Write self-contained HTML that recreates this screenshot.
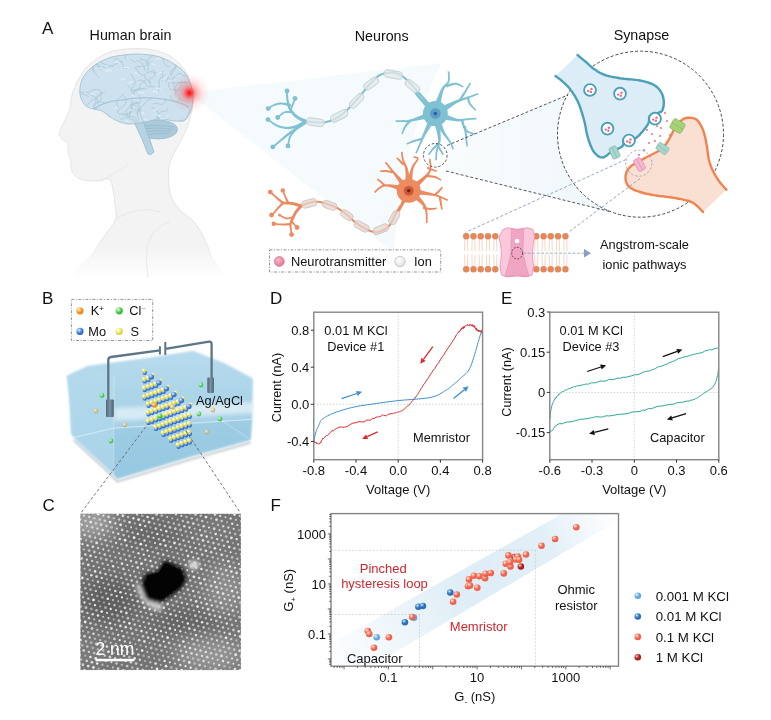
<!DOCTYPE html>
<html><head><meta charset="utf-8"><style>
html,body{margin:0;padding:0;background:#fff;}
svg{display:block;font-family:"Liberation Sans", sans-serif;will-change:transform;}
</style></head><body>
<svg width="771" height="720" viewBox="0 0 771 720">
<rect width="771" height="720" fill="#fff"/>
<text x="42.0" y="34.1" font-size="17" text-anchor="start" fill="#111" >A</text>
<text x="130.5" y="40.3" font-size="14.3" text-anchor="middle" fill="#111" >Human brain</text>
<text x="381.7" y="40.5" font-size="14.3" text-anchor="middle" fill="#111" >Neurons</text>
<text x="641.5" y="39.8" font-size="14.3" text-anchor="middle" fill="#111" >Synapse</text>
<text x="42.0" y="304.3" font-size="17" text-anchor="start" fill="#111" >B</text>
<text x="42.5" y="511.0" font-size="17" text-anchor="start" fill="#111" >C</text>
<text x="270.0" y="304.3" font-size="17" text-anchor="start" fill="#111" >D</text>
<text x="501.0" y="304.3" font-size="17" text-anchor="start" fill="#111" >E</text>
<text x="270.5" y="510.6" font-size="17" text-anchor="start" fill="#111" >F</text>
<defs>
<radialGradient id="redglow"><stop offset="0" stop-color="#ff0a0a" stop-opacity="1"/><stop offset="0.1" stop-color="#ff2020" stop-opacity="0.9"/><stop offset="0.32" stop-color="#ff4545" stop-opacity="0.45"/><stop offset="0.65" stop-color="#ff7070" stop-opacity="0.15"/><stop offset="1" stop-color="#ff8080" stop-opacity="0"/></radialGradient>
<linearGradient id="bodyfade" gradientUnits="userSpaceOnUse" x1="0" y1="48" x2="0" y2="280"><stop offset="0.85" stop-color="#f3f3f3"/><stop offset="1" stop-color="#f3f3f3" stop-opacity="0"/></linearGradient>
<linearGradient id="strokefade" gradientUnits="userSpaceOnUse" x1="0" y1="48" x2="0" y2="280"><stop offset="0.8" stop-color="#e3e3e3"/><stop offset="0.97" stop-color="#e3e3e3" stop-opacity="0"/></linearGradient>
<filter id="blurA"><feGaussianBlur stdDeviation="0.5"/></filter>
</defs>
<path d="M189,93 L441,63 Q400,150 394,253 Z" fill="#f5fafc"/>
<linearGradient id="cone2" x1="0" y1="0" x2="1" y2="0"><stop offset="0" stop-color="#f9fcfd"/><stop offset="1" stop-color="#eff7fb"/></linearGradient>
<path d="M446,146 L568,95 A83,83 0 0 0 610,211.5 L446,171 Z" fill="url(#cone2)"/>
<path d="M131.7,48.5 L130.0,48.7 L127.8,48.9 L125.1,49.2 L122.1,49.5 L119.0,49.9 L115.8,50.4 L112.8,51.1 L110.0,52.0 L107.4,53.1 L104.7,54.3 L102.0,55.7 L99.4,57.2 L96.8,58.8 L94.4,60.5 L92.1,62.3 L90.0,64.0 L88.1,65.8 L86.3,67.7 L84.7,69.8 L83.1,71.8 L81.7,73.9 L80.4,76.0 L79.2,78.0 L78.0,80.0 L76.9,81.9 L76.0,83.9 L75.1,85.8 L74.4,87.7 L73.7,89.6 L73.1,91.4 L72.5,93.2 L72.0,95.0 L71.6,96.7 L71.3,98.5 L71.0,100.2 L70.9,101.8 L70.7,103.4 L70.5,105.0 L70.3,106.5 L70.0,108.0 L69.6,109.4 L69.2,110.7 L68.7,112.0 L68.2,113.2 L67.7,114.4 L67.1,115.6 L66.6,116.8 L66.0,118.0 L65.4,119.3 L64.7,120.6 L64.1,121.9 L63.4,123.2 L62.7,124.5 L62.0,125.8 L61.5,126.9 L61.0,128.0 L60.6,128.9 L60.2,129.8 L59.9,130.6 L59.7,131.3 L59.5,132.0 L59.3,132.7 L59.3,133.3 L59.3,134.0 L59.4,134.7 L59.6,135.3 L59.9,136.0 L60.2,136.6 L60.6,137.2 L61.0,137.8 L61.5,138.4 L62.0,139.0 L62.6,139.5 L63.3,140.0 L64.1,140.5 L64.9,140.9 L65.7,141.4 L66.4,141.9 L67.0,142.4 L67.5,143.0 L67.8,143.7 L68.0,144.4 L68.0,145.1 L68.0,145.9 L68.0,146.7 L68.0,147.5 L68.0,148.2 L68.0,149.0 L68.1,149.8 L68.1,150.5 L68.2,151.2 L68.2,152.0 L68.3,152.8 L68.4,153.5 L68.5,154.2 L68.7,155.0 L68.9,155.8 L69.2,156.5 L69.5,157.2 L69.9,158.0 L70.2,158.8 L70.5,159.5 L70.8,160.2 L71.0,161.0 L71.1,161.8 L71.1,162.5 L71.1,163.2 L71.0,164.0 L71.0,164.8 L70.9,165.5 L70.9,166.2 L71.0,167.0 L71.1,167.8 L71.2,168.5 L71.4,169.2 L71.6,170.0 L71.8,170.8 L72.1,171.5 L72.5,172.2 L73.0,173.0 L73.6,173.8 L74.2,174.6 L74.9,175.4 L75.7,176.2 L76.6,177.0 L77.6,177.8 L78.7,178.4 L80.0,179.0 L81.5,179.5 L83.2,179.9 L85.1,180.2 L87.1,180.5 L89.1,180.7 L91.1,180.9 L93.1,181.0 L95.0,181.0 L96.9,180.9 L98.8,180.5 L100.8,180.0 L102.7,179.4 L104.5,179.0 L106.2,178.7 L107.7,178.7 L109.0,179.0 L110.0,179.7 L110.8,180.7 L111.3,182.0 L111.8,183.4 L112.1,185.0 L112.4,186.7 L112.7,188.3 L113.0,190.0 L113.4,191.7 L113.7,193.5 L114.0,195.3 L114.2,197.2 L114.4,199.2 L114.7,201.2 L114.8,203.1 L115.0,205.0 L115.2,206.9 L115.5,208.8 L115.8,210.6 L116.0,212.5 L116.2,214.4 L116.2,216.2 L116.0,218.1 L115.5,220.0 L114.7,221.8 L113.7,223.6 L112.5,225.4 L111.1,227.2 L109.6,229.0 L108.1,230.9 L106.5,232.9 L105.0,235.0 L103.5,237.2 L101.9,239.6 L100.2,242.0 L98.5,244.6 L96.8,247.1 L95.1,249.7 L93.5,252.4 L92.0,255.0 L89.6,257.8 L86.0,260.9 L81.9,264.1 L78.1,267.2 L75.4,270.3 L74.6,273.0 L76.5,275.3 L82.0,277.0 L92.4,278.2 L107.7,279.0 L126.3,279.5 L146.4,279.7 L166.7,279.5 L185.4,279.0 L201.1,278.2 L212.0,277.0 L218.2,275.4 L221.1,273.2 L221.5,270.6 L220.1,267.8 L217.6,264.7 L214.8,261.7 L212.4,258.7 L211.0,256.0 L210.3,253.4 L209.5,250.8 L208.6,248.2 L207.6,245.6 L206.5,243.1 L205.3,240.6 L204.1,238.3 L203.0,236.0 L201.9,233.9 L200.7,231.8 L199.5,229.8 L198.3,227.9 L197.1,226.1 L195.8,224.4 L194.4,222.6 L193.0,221.0 L191.5,219.5 L189.9,218.0 L188.2,216.7 L186.4,215.4 L184.7,214.2 L183.0,212.9 L181.5,211.5 L180.0,210.0 L178.6,208.4 L177.3,206.9 L176.0,205.3 L174.8,203.6 L173.7,201.9 L172.7,200.1 L171.8,198.1 L171.0,196.0 L170.3,193.7 L169.8,191.1 L169.4,188.4 L169.0,185.6 L168.8,182.7 L168.6,180.0 L168.5,177.4 L168.5,175.0 L168.5,172.8 L168.6,170.9 L168.8,169.0 L169.1,167.2 L169.4,165.4 L169.9,163.7 L170.4,161.9 L171.0,160.0 L171.7,158.0 L172.6,156.1 L173.6,154.1 L174.7,152.1 L175.8,150.0 L176.9,148.0 L178.0,146.0 L179.0,144.0 L180.0,142.0 L181.1,140.0 L182.1,138.1 L183.2,136.1 L184.2,134.1 L185.2,132.1 L186.1,130.1 L187.0,128.0 L187.8,125.8 L188.6,123.6 L189.3,121.3 L190.0,118.9 L190.6,116.6 L191.1,114.3 L191.6,112.1 L192.0,110.0 L192.4,108.0 L192.7,106.2 L192.9,104.5 L193.1,102.8 L193.2,101.1 L193.2,99.2 L193.1,97.2 L192.8,95.0 L192.4,92.5 L191.9,89.6 L191.2,86.7 L190.5,83.6 L189.6,80.5 L188.5,77.4 L187.3,74.6 L186.0,72.0 L184.5,69.6 L182.7,67.3 L180.8,65.1 L178.8,63.0 L176.7,61.0 L174.5,59.2 L172.3,57.5 L170.0,56.0 L167.7,54.7 L165.2,53.6 L162.7,52.6 L160.1,51.8 L157.6,51.1 L155.0,50.5 L152.4,50.0 L150.0,49.5 L147.5,49.1 L144.9,48.8 L142.2,48.7 L139.6,48.6 L137.1,48.6 L134.9,48.6 L133.1,48.5 L131.7,48.5Z" fill="url(#bodyfade)" stroke="url(#strokefade)" stroke-width="1"/>
<path d="M115,219 Q140,205 160,212 M148,277 Q140,230 170,222 M100,182 Q120,170 128,165" fill="none" stroke="#e8e8e8" stroke-width="1"/>
<ellipse cx="158" cy="129.5" rx="19.5" ry="9.5" fill="#abcadb" stroke="#97bccf" stroke-width="0.8"/>
<path d="M140,126 Q157,124 175,127" fill="none" stroke="#8fb5ca" stroke-width="0.6"/>
<path d="M142,129 Q157,127 173,129" fill="none" stroke="#8fb5ca" stroke-width="0.6"/>
<path d="M144,132 Q157,130 171,131" fill="none" stroke="#8fb5ca" stroke-width="0.6"/>
<path d="M146,135 Q157,133 169,133" fill="none" stroke="#8fb5ca" stroke-width="0.6"/>
<path d="M134,122 Q142,138 148,154 Q151,156 154,152 Q149,136 143,121 Z" fill="#b5d3e2" stroke="#97bccf" stroke-width="0.8"/>
<path d="M134.0,54.0 L132.3,54.2 L129.9,54.4 L127.1,54.7 L124.1,55.0 L120.9,55.4 L117.7,55.8 L114.7,56.4 L112.0,57.0 L109.6,57.7 L107.3,58.6 L105.0,59.5 L102.8,60.5 L100.7,61.6 L98.7,62.7 L96.8,63.8 L95.0,65.0 L93.3,66.2 L91.7,67.5 L90.1,68.9 L88.7,70.2 L87.3,71.7 L86.1,73.1 L85.0,74.6 L84.0,76.0 L83.1,77.5 L82.4,79.0 L81.8,80.5 L81.2,82.1 L80.8,83.6 L80.5,85.1 L80.2,86.6 L80.0,88.0 L79.9,89.4 L79.8,90.7 L79.8,92.0 L79.9,93.2 L80.1,94.5 L80.4,95.7 L80.6,96.9 L81.0,98.0 L81.4,99.1 L81.9,100.3 L82.5,101.4 L83.1,102.4 L83.7,103.5 L84.4,104.4 L85.2,105.3 L86.0,106.0 L86.9,106.6 L87.8,107.1 L88.8,107.5 L89.8,107.9 L90.9,108.2 L91.9,108.4 L93.0,108.7 L94.0,109.0 L95.0,109.3 L96.0,109.5 L97.0,109.6 L98.0,109.8 L99.0,110.0 L100.0,110.2 L101.0,110.6 L102.0,111.0 L103.0,111.6 L104.0,112.2 L104.9,113.0 L105.9,113.8 L106.9,114.6 L107.9,115.5 L108.9,116.3 L110.0,117.0 L111.2,117.7 L112.4,118.4 L113.6,119.1 L114.9,119.8 L116.2,120.4 L117.5,121.0 L118.7,121.5 L120.0,122.0 L121.2,122.4 L122.4,122.8 L123.5,123.1 L124.7,123.4 L125.9,123.7 L127.1,123.9 L128.5,124.0 L130.0,124.0 L131.6,123.9 L133.4,123.8 L135.3,123.6 L137.2,123.3 L139.2,123.0 L141.1,122.7 L143.1,122.3 L145.0,122.0 L146.9,121.6 L148.8,121.2 L150.6,120.7 L152.5,120.2 L154.4,119.8 L156.2,119.4 L158.1,119.1 L160.0,119.0 L161.9,119.0 L163.9,119.2 L165.8,119.5 L167.8,119.9 L169.7,120.2 L171.6,120.6 L173.4,120.9 L175.0,121.0 L176.5,121.1 L177.9,121.2 L179.3,121.2 L180.6,121.2 L181.8,121.2 L182.9,121.0 L184.0,120.6 L185.0,120.0 L186.0,119.2 L186.9,118.2 L187.7,117.1 L188.5,115.9 L189.2,114.5 L189.9,113.1 L190.5,111.6 L191.0,110.0 L191.5,108.4 L191.9,106.6 L192.3,104.7 L192.6,102.8 L192.9,100.8 L193.0,98.9 L193.1,96.9 L193.0,95.0 L192.8,93.1 L192.5,91.2 L192.1,89.2 L191.6,87.2 L191.1,85.3 L190.4,83.5 L189.7,81.7 L189.0,80.0 L188.2,78.4 L187.5,76.9 L186.6,75.5 L185.8,74.2 L184.8,72.9 L183.7,71.6 L182.4,70.3 L181.0,69.0 L179.4,67.7 L177.5,66.3 L175.5,64.9 L173.4,63.6 L171.3,62.3 L169.1,61.1 L167.0,60.0 L165.0,59.0 L163.1,58.2 L161.2,57.5 L159.3,56.9 L157.5,56.4 L155.7,56.0 L153.8,55.6 L151.9,55.3 L150.0,55.0 L147.9,54.7 L145.7,54.5 L143.4,54.4 L141.1,54.2 L138.9,54.2 L136.9,54.1 L135.2,54.1 L134.0,54.0Z" fill="#cde2ee" stroke="#9fc0d3" stroke-width="0.9"/>
<path d="M94,109 Q104,101 122,100 Q142,96 162,99 Q178,101 189,107" fill="none" stroke="#9fc1d3" stroke-width="1.1"/>
<clipPath id="brainclip"><path d="M134.0,54.0 L132.3,54.2 L129.9,54.4 L127.1,54.7 L124.1,55.0 L120.9,55.4 L117.7,55.8 L114.7,56.4 L112.0,57.0 L109.6,57.7 L107.3,58.6 L105.0,59.5 L102.8,60.5 L100.7,61.6 L98.7,62.7 L96.8,63.8 L95.0,65.0 L93.3,66.2 L91.7,67.5 L90.1,68.9 L88.7,70.2 L87.3,71.7 L86.1,73.1 L85.0,74.6 L84.0,76.0 L83.1,77.5 L82.4,79.0 L81.8,80.5 L81.2,82.1 L80.8,83.6 L80.5,85.1 L80.2,86.6 L80.0,88.0 L79.9,89.4 L79.8,90.7 L79.8,92.0 L79.9,93.2 L80.1,94.5 L80.4,95.7 L80.6,96.9 L81.0,98.0 L81.4,99.1 L81.9,100.3 L82.5,101.4 L83.1,102.4 L83.7,103.5 L84.4,104.4 L85.2,105.3 L86.0,106.0 L86.9,106.6 L87.8,107.1 L88.8,107.5 L89.8,107.9 L90.9,108.2 L91.9,108.4 L93.0,108.7 L94.0,109.0 L95.0,109.3 L96.0,109.5 L97.0,109.6 L98.0,109.8 L99.0,110.0 L100.0,110.2 L101.0,110.6 L102.0,111.0 L103.0,111.6 L104.0,112.2 L104.9,113.0 L105.9,113.8 L106.9,114.6 L107.9,115.5 L108.9,116.3 L110.0,117.0 L111.2,117.7 L112.4,118.4 L113.6,119.1 L114.9,119.8 L116.2,120.4 L117.5,121.0 L118.7,121.5 L120.0,122.0 L121.2,122.4 L122.4,122.8 L123.5,123.1 L124.7,123.4 L125.9,123.7 L127.1,123.9 L128.5,124.0 L130.0,124.0 L131.6,123.9 L133.4,123.8 L135.3,123.6 L137.2,123.3 L139.2,123.0 L141.1,122.7 L143.1,122.3 L145.0,122.0 L146.9,121.6 L148.8,121.2 L150.6,120.7 L152.5,120.2 L154.4,119.8 L156.2,119.4 L158.1,119.1 L160.0,119.0 L161.9,119.0 L163.9,119.2 L165.8,119.5 L167.8,119.9 L169.7,120.2 L171.6,120.6 L173.4,120.9 L175.0,121.0 L176.5,121.1 L177.9,121.2 L179.3,121.2 L180.6,121.2 L181.8,121.2 L182.9,121.0 L184.0,120.6 L185.0,120.0 L186.0,119.2 L186.9,118.2 L187.7,117.1 L188.5,115.9 L189.2,114.5 L189.9,113.1 L190.5,111.6 L191.0,110.0 L191.5,108.4 L191.9,106.6 L192.3,104.7 L192.6,102.8 L192.9,100.8 L193.0,98.9 L193.1,96.9 L193.0,95.0 L192.8,93.1 L192.5,91.2 L192.1,89.2 L191.6,87.2 L191.1,85.3 L190.4,83.5 L189.7,81.7 L189.0,80.0 L188.2,78.4 L187.5,76.9 L186.6,75.5 L185.8,74.2 L184.8,72.9 L183.7,71.6 L182.4,70.3 L181.0,69.0 L179.4,67.7 L177.5,66.3 L175.5,64.9 L173.4,63.6 L171.3,62.3 L169.1,61.1 L167.0,60.0 L165.0,59.0 L163.1,58.2 L161.2,57.5 L159.3,56.9 L157.5,56.4 L155.7,56.0 L153.8,55.6 L151.9,55.3 L150.0,55.0 L147.9,54.7 L145.7,54.5 L143.4,54.4 L141.1,54.2 L138.9,54.2 L136.9,54.1 L135.2,54.1 L134.0,54.0Z"/></clipPath>
<g clip-path="url(#brainclip)">
<path d="M131.1,93.7 L131.9,93.2 L133.0,92.5 L134.2,91.6 L135.3,91.0 L136.2,90.6 L137.0,90.3 L137.9,90.1 L138.9,89.8 L140.1,89.3 L141.6,88.8 L143.0,88.4 L144.2,88.2 L145.1,88.4 L145.9,88.9 L146.6,89.5 L147.1,89.9" fill="none" stroke="#a8c6d6" stroke-width="0.8"/>
<path d="M114.3,60.4 L114.7,59.9 L115.2,59.2 L115.9,58.6 L116.8,58.5 L118.0,59.1 L119.4,60.3 L120.9,61.6 L122.1,62.9 L122.8,64.2 L123.4,65.6 L123.9,66.9 L124.4,67.8 L125.2,68.3 L126.1,68.4 L126.9,68.3 L127.4,68.3" fill="none" stroke="#a8c6d6" stroke-width="0.8"/>
<path d="M139.7,58.2 L140.2,58.5 L140.8,58.8 L141.6,59.2 L142.5,59.6 L143.6,60.0 L144.8,60.3 L146.0,60.7 L146.9,61.4 L147.5,62.4 L147.9,63.6 L148.0,65.0 L148.1,66.3 L148.1,67.7 L147.8,69.1 L147.6,70.4 L147.4,71.2" fill="none" stroke="#a8c6d6" stroke-width="0.8"/>
<path d="M154.9,86.5 L153.5,86.6 L151.6,86.8 L149.5,86.8 L147.9,86.5 L146.8,85.6 L146.0,84.2 L145.3,82.8 L144.5,81.7 L143.6,81.1 L142.7,80.6 L141.8,80.3 L140.9,80.1 L140.0,80.1 L139.1,80.2 L138.3,80.5 L137.7,80.6" fill="none" stroke="#a8c6d6" stroke-width="0.8"/>
<path d="M166.6,82.4 L166.9,81.1 L167.4,79.2 L167.9,77.3 L168.5,75.9 L169.2,75.4 L169.9,75.4 L170.6,75.4 L171.4,75.0 L172.1,73.8 L172.8,72.3 L173.6,70.6 L174.2,69.0 L174.9,67.2 L175.6,65.4 L176.3,63.7 L176.7,62.5" fill="none" stroke="#a8c6d6" stroke-width="0.8"/>
<path d="M124.9,59.2 L125.0,58.4 L125.2,57.3 L125.3,56.1 L125.0,55.1 L124.2,54.6 L123.0,54.3 L121.8,54.0 L121.1,53.3 L121.1,52.0 L121.5,50.3 L122.0,48.7 L122.0,47.3 L121.5,46.4 L120.5,45.7 L119.6,45.2 L118.9,44.9" fill="none" stroke="#a8c6d6" stroke-width="0.8"/>
<path d="M170.1,66.6 L169.4,66.5 L168.4,66.4 L167.3,66.1 L166.4,65.8 L165.7,65.3 L165.1,64.6 L164.6,63.8 L164.1,63.1 L163.8,62.3 L163.6,61.5 L163.4,60.6 L163.1,59.8 L162.7,58.9 L162.1,57.9 L161.6,57.0 L161.2,56.4" fill="none" stroke="#a8c6d6" stroke-width="0.8"/>
<path d="M170.8,75.6 L170.7,74.7 L170.6,73.5 L170.6,72.2 L170.9,71.0 L171.9,70.3 L173.4,69.7 L174.8,69.1 L175.7,68.1 L176.0,66.6 L175.9,64.7 L175.5,62.7 L175.1,61.2 L174.4,60.2 L173.5,59.5 L172.5,59.0 L171.9,58.7" fill="none" stroke="#a8c6d6" stroke-width="0.8"/>
<path d="M167.3,77.4 L167.8,77.7 L168.5,78.2 L169.2,78.8 L170.0,79.4 L170.6,80.1 L171.3,80.9 L171.9,81.7 L172.4,82.5 L172.9,83.5 L173.2,84.4 L173.6,85.5 L174.1,86.7 L174.9,88.2 L175.9,89.9 L176.9,91.5 L177.5,92.6" fill="none" stroke="#a8c6d6" stroke-width="0.8"/>
<path d="M134.7,94.8 L134.4,94.2 L134.0,93.2 L133.8,92.2 L134.1,91.2 L135.1,90.4 L136.6,89.5 L138.2,88.6 L139.3,87.8 L139.8,86.9 L139.8,86.0 L139.9,85.1 L140.4,84.1 L141.6,83.1 L143.2,82.0 L144.8,80.9 L145.9,80.2" fill="none" stroke="#a8c6d6" stroke-width="0.8"/>
<path d="M179.7,96.9 L179.8,97.5 L180.0,98.4 L180.0,99.3 L179.8,100.0 L179.1,100.5 L178.2,100.9 L177.1,101.1 L176.0,101.2 L175.0,101.2 L174.0,101.1 L173.0,100.7 L172.1,100.2 L171.4,99.1 L170.8,97.6 L170.4,96.2 L170.0,95.2" fill="none" stroke="#a8c6d6" stroke-width="0.8"/>
<path d="M113.2,66.5 L112.5,66.4 L111.6,66.2 L110.5,66.1 L109.3,65.8 L107.9,65.4 L106.2,64.8 L104.6,64.2 L103.3,63.6 L102.2,63.1 L101.2,62.5 L100.5,61.8 L100.0,61.1 L100.0,60.2 L100.3,59.1 L100.7,58.1 L101.0,57.4" fill="none" stroke="#a8c6d6" stroke-width="0.8"/>
<path d="M130.4,58.3 L131.1,59.0 L132.1,60.2 L133.2,61.2 L134.3,61.9 L135.3,61.7 L136.3,61.1 L137.4,60.6 L138.5,60.6 L139.8,61.4 L141.1,62.6 L142.3,64.1 L143.3,65.6 L144.1,67.0 L144.6,68.6 L144.9,70.0 L145.2,71.0" fill="none" stroke="#a8c6d6" stroke-width="0.8"/>
<path d="M146.0,64.0 L146.5,62.8 L147.1,61.2 L147.9,59.4 L148.9,58.0 L150.3,56.9 L152.1,56.1 L153.7,55.3 L154.7,54.3 L154.7,53.1 L154.2,51.8 L153.5,50.4 L152.8,49.0 L152.2,47.6 L151.6,46.0 L151.0,44.6 L150.6,43.6" fill="none" stroke="#a8c6d6" stroke-width="0.8"/>
<path d="M88.5,92.8 L89.4,92.2 L90.7,91.2 L92.2,90.3 L93.6,89.7 L95.2,89.5 L96.9,89.4 L98.5,89.6 L99.8,90.0 L100.6,90.7 L101.0,91.6 L101.3,92.8 L101.4,94.1 L101.3,95.7 L101.0,97.6 L100.7,99.4 L100.4,100.6" fill="none" stroke="#a8c6d6" stroke-width="0.8"/>
<path d="M178.4,83.6 L179.4,83.3 L180.7,82.8 L182.1,82.4 L183.5,82.0 L184.6,81.9 L185.7,82.0 L186.8,82.1 L188.0,82.3 L189.3,82.7 L190.7,83.3 L192.0,83.8 L193.2,83.8 L194.3,83.0 L195.3,81.7 L196.1,80.4 L196.7,79.4" fill="none" stroke="#a8c6d6" stroke-width="0.8"/>
<path d="M162.3,81.6 L162.3,80.7 L162.4,79.3 L162.6,77.9 L162.9,76.9 L163.5,76.2 L164.2,75.7 L165.0,75.4 L165.8,75.3 L166.6,75.2 L167.3,75.4 L168.0,75.6 L168.9,75.9 L170.0,76.4 L171.3,77.1 L172.4,77.8 L173.2,78.2" fill="none" stroke="#a8c6d6" stroke-width="0.8"/>
<path d="M106.0,103.6 L104.8,103.2 L103.0,102.5 L101.1,101.9 L99.6,101.6 L98.7,101.6 L98.0,101.8 L97.5,102.1 L96.8,102.7 L95.9,103.7 L94.9,104.9 L94.0,106.2 L93.4,107.3 L93.3,108.4 L93.6,109.4 L93.9,110.3 L94.2,110.9" fill="none" stroke="#a8c6d6" stroke-width="0.8"/>
<path d="M182.3,100.9 L181.7,100.4 L180.8,99.6 L179.9,98.8 L179.1,98.0 L178.7,97.2 L178.5,96.4 L178.2,95.5 L177.7,94.5 L176.9,93.3 L175.8,92.0 L174.8,90.6 L174.4,89.2 L174.9,87.7 L176.0,86.2 L177.2,84.8 L178.0,83.8" fill="none" stroke="#a8c6d6" stroke-width="0.8"/>
<path d="M123.4,95.4 L124.1,96.1 L125.0,97.1 L125.8,98.3 L126.3,99.5 L126.2,100.9 L125.7,102.5 L125.0,104.1 L124.1,105.5 L122.9,106.7 L121.3,107.7 L119.8,108.7 L118.7,109.6 L118.0,110.6 L117.8,111.6 L117.6,112.5 L117.5,113.1" fill="none" stroke="#a8c6d6" stroke-width="0.8"/>
<path d="M130.9,73.5 L131.4,74.4 L132.0,75.8 L132.8,77.2 L133.4,78.4 L134.1,79.4 L134.7,80.3 L135.3,81.1 L135.4,82.2 L134.9,83.7 L134.0,85.4 L133.0,87.0 L132.3,88.4 L131.8,89.5 L131.5,90.4 L131.3,91.0 L131.2,91.5" fill="none" stroke="#a8c6d6" stroke-width="0.8"/>
<path d="M144.5,75.9 L143.9,75.6 L143.1,75.2 L142.2,74.7 L141.3,74.3 L140.6,74.1 L139.8,73.9 L139.0,73.7 L138.4,73.2 L138.1,72.4 L137.9,71.3 L137.7,70.2 L137.3,69.4 L136.6,69.0 L135.7,68.8 L134.8,68.7 L134.2,68.6" fill="none" stroke="#a8c6d6" stroke-width="0.8"/>
<path d="M151.1,85.7 L150.6,84.6 L149.8,83.0 L149.2,81.2 L149.1,79.8 L149.9,78.8 L151.3,78.1 L152.8,77.4 L153.8,76.5 L154.3,75.3 L154.6,74.0 L154.6,72.7 L154.4,71.6 L154.0,70.9 L153.4,70.3 L152.7,69.8 L152.3,69.5" fill="none" stroke="#a8c6d6" stroke-width="0.8"/>
<path d="M133.4,104.7 L134.1,105.0 L135.1,105.5 L136.3,106.0 L137.2,106.8 L138.0,107.7 L138.7,108.7 L139.3,109.9 L139.8,111.1 L140.2,112.5 L140.4,114.0 L140.7,115.6 L141.1,117.0 L141.8,118.5 L142.6,120.1 L143.5,121.5 L144.1,122.4" fill="none" stroke="#a8c6d6" stroke-width="0.8"/>
<path d="M185.4,105.3 L186.3,105.9 L187.6,106.8 L188.9,107.8 L189.6,108.8 L189.8,109.8 L189.5,110.8 L189.0,111.9 L188.5,113.1 L188.0,114.6 L187.4,116.2 L186.6,117.8 L185.6,119.0 L184.1,119.8 L182.2,120.3 L180.4,120.6 L179.1,120.9" fill="none" stroke="#a8c6d6" stroke-width="0.8"/>
<path d="M132.4,100.2 L132.1,101.3 L131.6,102.9 L131.0,104.7 L130.3,106.2 L129.4,107.3 L128.2,108.3 L127.1,109.3 L126.4,110.5 L126.4,112.1 L126.8,114.0 L127.1,115.7 L126.8,117.1 L125.5,118.0 L123.6,118.5 L121.6,118.9 L120.2,119.1" fill="none" stroke="#a8c6d6" stroke-width="0.8"/>
<path d="M140.7,110.1 L139.4,110.1 L137.7,110.0 L135.8,110.0 L134.3,110.0 L133.3,110.2 L132.6,110.5 L132.0,110.9 L131.2,111.3 L130.2,112.0 L129.1,112.9 L128.0,113.7 L126.8,114.2 L125.5,114.2 L124.1,113.9 L122.8,113.5 L121.9,113.3" fill="none" stroke="#a8c6d6" stroke-width="0.8"/>
<path d="M99.5,77.8 L99.1,77.4 L98.5,76.8 L97.8,76.0 L97.0,75.2 L96.0,74.3 L94.8,73.2 L93.8,72.0 L93.1,70.8 L93.0,69.4 L93.2,67.7 L93.7,66.3 L94.4,65.2 L95.5,64.7 L97.0,64.6 L98.4,64.7 L99.4,64.7" fill="none" stroke="#a8c6d6" stroke-width="0.8"/>
<path d="M105.0,91.4 L104.3,92.0 L103.2,92.9 L101.9,93.9 L100.7,94.9 L99.4,95.8 L98.1,96.8 L96.7,97.8 L95.5,98.6 L94.4,99.1 L93.5,99.4 L92.6,99.8 L91.7,100.4 L90.5,101.4 L89.1,102.7 L88.0,104.0 L87.1,104.9" fill="none" stroke="#a8c6d6" stroke-width="0.8"/>
<path d="M139.2,94.7 L139.5,95.6 L139.8,96.9 L140.1,98.4 L140.3,99.6 L140.4,100.5 L140.5,101.4 L140.4,102.1 L140.0,102.7 L139.1,103.0 L137.8,103.1 L136.4,103.3 L135.0,103.5 L133.5,104.1 L131.9,104.9 L130.4,105.7 L129.4,106.2" fill="none" stroke="#a8c6d6" stroke-width="0.8"/>
<path d="M143.6,88.9 L142.7,88.8 L141.4,88.8 L140.0,88.8 L138.4,89.0 L136.8,89.4 L135.0,90.0 L133.2,90.6 L131.9,90.7 L130.9,90.2 L130.4,89.3 L129.9,88.3 L129.4,87.4 L128.8,86.7 L128.1,85.9 L127.5,85.3 L127.1,84.8" fill="none" stroke="#a8c6d6" stroke-width="0.8"/>
<path d="M129.0,111.9 L129.7,111.5 L130.6,110.9 L131.6,110.1 L132.3,109.2 L132.5,107.9 L132.3,106.4 L132.2,104.9 L132.4,103.7 L133.0,103.0 L133.8,102.7 L134.8,102.5 L135.6,102.5 L136.5,102.6 L137.3,103.0 L138.0,103.4 L138.5,103.7" fill="none" stroke="#a8c6d6" stroke-width="0.8"/>
<path d="M101.9,70.1 L101.3,69.6 L100.3,68.9 L99.3,68.1 L98.5,67.4 L97.9,66.7 L97.3,66.0 L96.9,65.2 L96.7,64.5 L96.6,63.7 L96.7,62.8 L96.8,61.9 L97.0,61.0 L97.1,59.9 L97.2,58.8 L97.3,57.7 L97.4,57.0" fill="none" stroke="#a8c6d6" stroke-width="0.8"/>
<path d="M102.3,91.7 L101.7,92.2 L100.8,93.1 L99.8,94.0 L98.9,94.8 L98.1,95.4 L97.3,95.8 L96.6,96.3 L96.1,97.1 L95.8,98.2 L95.8,99.7 L95.8,101.2 L95.6,102.6 L95.1,103.9 L94.5,105.2 L93.8,106.3 L93.3,107.1" fill="none" stroke="#a8c6d6" stroke-width="0.8"/>
<path d="M176.2,97.4 L176.0,96.3 L175.7,94.8 L175.5,93.0 L175.7,91.5 L176.6,90.2 L178.0,89.0 L179.4,87.9 L180.4,86.8 L180.9,85.7 L181.0,84.5 L181.2,83.5 L181.6,82.7 L182.4,82.4 L183.5,82.3 L184.6,82.3 L185.4,82.3" fill="none" stroke="#a8c6d6" stroke-width="0.8"/>
<path d="M95.1,71.0 L94.6,70.6 L93.9,70.1 L93.1,69.5 L92.7,68.7 L92.5,67.6 L92.6,66.3 L92.8,65.1 L93.2,64.0 L93.7,63.4 L94.4,63.0 L95.1,62.5 L95.9,61.9 L96.8,60.8 L97.8,59.5 L98.8,58.2 L99.4,57.3" fill="none" stroke="#a8c6d6" stroke-width="0.8"/>
<path d="M157.1,118.7 L157.3,117.8 L157.6,116.5 L158.0,115.1 L158.6,113.9 L159.4,113.0 L160.5,112.3 L161.7,111.7 L162.8,111.3 L163.8,111.1 L164.9,111.2 L165.8,111.3 L166.6,111.1 L167.1,110.5 L167.4,109.5 L167.5,108.5 L167.7,107.9" fill="none" stroke="#a8c6d6" stroke-width="0.8"/>
<path d="M84.2,93.2 L83.6,92.9 L82.7,92.5 L81.7,92.2 L80.8,92.2 L80.1,92.6 L79.4,93.3 L78.7,94.0 L77.6,94.3 L76.1,94.1 L74.2,93.5 L72.4,92.7 L71.1,91.9 L70.6,91.1 L70.7,90.1 L70.9,89.2 L71.0,88.5" fill="none" stroke="#a8c6d6" stroke-width="0.8"/>
<path d="M132.2,108.3 L131.8,109.1 L131.3,110.3 L130.8,111.7 L130.3,113.0 L129.8,114.3 L129.3,115.8 L129.0,117.2 L129.3,118.3 L130.2,119.0 L131.8,119.5 L133.4,120.0 L134.6,120.5 L135.1,121.4 L135.3,122.5 L135.3,123.5 L135.4,124.2" fill="none" stroke="#a8c6d6" stroke-width="0.8"/>
<path d="M131.3,106.5 L131.2,107.2 L131.1,108.1 L131.0,109.2 L130.9,110.1 L130.9,111.0 L131.0,111.7 L130.9,112.5 L130.4,113.2 L129.3,113.8 L127.8,114.4 L126.1,114.9 L124.5,115.1 L122.8,114.9 L121.0,114.4 L119.4,113.8 L118.2,113.4" fill="none" stroke="#a8c6d6" stroke-width="0.8"/>
<path d="M151.1,82.7 L150.0,82.0 L148.4,80.9 L146.7,79.7 L145.5,78.6 L145.0,77.6 L144.7,76.5 L144.8,75.5 L145.2,74.6 L146.1,73.7 L147.4,72.8 L149.0,72.1 L150.5,71.7 L152.1,71.9 L153.8,72.4 L155.4,73.0 L156.5,73.4" fill="none" stroke="#a8c6d6" stroke-width="0.8"/>
<path d="M125.8,117.7 L126.9,117.3 L128.6,116.9 L130.3,116.5 L131.8,116.4 L133.0,116.7 L134.1,117.3 L135.0,118.0 L135.8,118.7 L136.2,119.4 L136.4,120.2 L136.7,120.9 L137.1,121.7 L137.9,122.6 L139.0,123.5 L140.1,124.3 L140.8,124.9" fill="none" stroke="#a8c6d6" stroke-width="0.8"/>
<path d="M152.2,98.3 L151.2,98.7 L149.8,99.2 L148.3,99.9 L147.0,100.7 L146.1,101.7 L145.2,102.9 L144.4,104.0 L143.5,105.1 L142.6,105.9 L141.6,106.7 L140.6,107.4 L139.6,108.4 L138.5,109.8 L137.5,111.6 L136.5,113.2 L135.8,114.3" fill="none" stroke="#a8c6d6" stroke-width="0.8"/>
<path d="M152.6,103.8 L153.1,103.7 L153.7,103.5 L154.6,103.3 L155.6,103.3 L156.9,103.5 L158.5,103.9 L160.1,104.3 L161.5,104.3 L162.7,104.0 L163.9,103.5 L164.9,102.8 L165.5,102.0 L165.6,101.1 L165.4,100.0 L165.0,99.0 L164.8,98.3" fill="none" stroke="#a8c6d6" stroke-width="0.8"/>
<path d="M122.5,61.0 L121.6,61.4 L120.5,61.9 L119.1,62.5 L117.7,63.2 L116.3,63.8 L114.7,64.6 L113.1,65.3 L111.4,65.9 L109.7,66.4 L108.0,66.9 L106.3,67.2 L104.6,67.4 L102.9,67.3 L101.1,67.0 L99.5,66.6 L98.5,66.3" fill="none" stroke="#a8c6d6" stroke-width="0.8"/>
<path d="M88.6,96.4 L87.4,95.9 L85.7,95.1 L83.9,94.4 L82.3,94.1 L81.0,94.4 L79.9,95.0 L79.0,95.9 L78.3,96.9 L78.0,98.0 L78.0,99.3 L78.1,100.7 L78.0,101.8 L77.8,102.8 L77.5,103.7 L77.1,104.4 L76.9,104.9" fill="none" stroke="#a8c6d6" stroke-width="0.8"/>
<path d="M186.8,83.9 L186.1,83.5 L185.1,82.9 L184.0,82.3 L182.8,82.0 L181.5,82.0 L180.0,82.3 L178.6,82.6 L177.2,82.9 L176.1,83.0 L175.0,83.0 L174.0,83.0 L173.1,82.8 L172.1,82.3 L171.1,81.6 L170.3,80.9 L169.7,80.4" fill="none" stroke="#a8c6d6" stroke-width="0.8"/>
<path d="M165.3,81.7 L165.9,81.6 L166.8,81.3 L167.7,81.3 L168.5,81.8 L168.8,83.2 L168.8,85.1 L168.9,87.1 L169.5,88.5 L170.8,89.3 L172.5,89.7 L174.3,89.9 L176.0,90.0 L177.4,90.1 L178.8,90.2 L180.0,90.1 L180.9,90.1" fill="none" stroke="#a8c6d6" stroke-width="0.8"/>
<path d="M139.1,120.5 L138.7,119.3 L138.0,117.5 L137.5,115.5 L137.3,113.9 L137.9,112.6 L139.0,111.6 L140.0,110.6 L140.5,109.5 L140.3,108.2 L139.6,106.9 L138.8,105.7 L138.1,104.5 L137.5,103.5 L136.9,102.6 L136.4,101.9 L136.0,101.3" fill="none" stroke="#a8c6d6" stroke-width="0.8"/>
<path d="M85.9,91.5 L86.7,92.1 L88.0,93.0 L89.3,94.0 L90.5,94.8 L91.5,95.3 L92.3,95.8 L93.2,96.2 L94.1,96.7 L95.0,97.4 L96.0,98.1 L96.9,98.9 L97.6,99.8 L97.9,101.1 L97.9,102.6 L97.9,104.0 L97.9,104.9" fill="none" stroke="#a8c6d6" stroke-width="0.8"/>
<path d="M163.0,70.9 L162.7,72.1 L162.4,73.7 L162.0,75.4 L161.5,76.9 L160.9,77.9 L160.1,78.7 L159.5,79.5 L159.0,80.6 L158.9,81.9 L159.0,83.3 L159.2,84.8 L159.3,86.3 L159.1,87.8 L158.9,89.3 L158.7,90.7 L158.5,91.6" fill="none" stroke="#a8c6d6" stroke-width="0.8"/>
<path d="M151.5,107.5 L152.8,108.0 L154.6,108.7 L156.4,109.6 L157.6,110.7 L157.9,112.3 L157.6,114.1 L157.2,115.9 L157.1,117.2 L157.6,118.0 L158.3,118.3 L159.2,118.4 L160.1,118.4 L161.3,118.2 L162.6,117.8 L163.8,117.4 L164.7,117.1" fill="none" stroke="#a8c6d6" stroke-width="0.8"/>
<path d="M150.4,61.3 L150.1,61.8 L149.7,62.5 L149.2,63.3 L148.5,64.0 L147.5,64.6 L146.3,65.2 L145.0,65.8 L143.8,66.2 L142.6,66.4 L141.5,66.5 L140.3,66.5 L139.3,66.5 L138.2,66.7 L137.1,66.8 L136.1,67.0 L135.5,67.1" fill="none" stroke="#a8c6d6" stroke-width="0.8"/>
<path d="M118.8,106.9 L118.4,106.4 L117.7,105.8 L117.1,105.0 L116.8,104.1 L116.8,102.9 L117.1,101.4 L117.5,99.9 L118.0,98.7 L118.7,98.0 L119.5,97.5 L120.4,97.1 L121.2,96.6 L122.0,95.8 L122.8,95.0 L123.5,94.2 L124.0,93.7" fill="none" stroke="#a8c6d6" stroke-width="0.8"/>
<path d="M171.5,80.2 L172.0,79.7 L172.7,78.9 L173.6,78.0 L174.5,77.1 L175.5,76.1 L176.8,74.9 L178.0,73.9 L179.2,73.4 L180.3,73.5 L181.3,74.2 L182.3,75.1 L183.3,75.6 L184.3,75.9 L185.2,76.0 L186.1,76.1 L186.6,76.1" fill="none" stroke="#a8c6d6" stroke-width="0.8"/>
<path d="M89.4,94.1 Q91.9,92.8 94.4,94.0" fill="none" stroke="#ecf5f9" stroke-width="0.9"/>
<path d="M113.8,109.1 Q115.4,107.0 117.0,107.3" fill="none" stroke="#ecf5f9" stroke-width="0.9"/>
<path d="M154.8,59.8 Q157.3,58.0 159.8,58.6" fill="none" stroke="#ecf5f9" stroke-width="0.9"/>
<path d="M158.4,74.1 Q160.3,72.0 162.1,72.4" fill="none" stroke="#ecf5f9" stroke-width="0.9"/>
<path d="M162.0,80.0 Q164.3,77.7 166.6,77.7" fill="none" stroke="#ecf5f9" stroke-width="0.9"/>
<path d="M144.3,119.2 Q146.8,119.5 149.3,122.1" fill="none" stroke="#ecf5f9" stroke-width="0.9"/>
<path d="M129.5,111.0 Q131.4,109.4 133.3,110.1" fill="none" stroke="#ecf5f9" stroke-width="0.9"/>
<path d="M125.2,120.4 Q126.8,120.0 128.5,122.1" fill="none" stroke="#ecf5f9" stroke-width="0.9"/>
<path d="M120.9,80.0 Q122.9,78.4 125.0,79.3" fill="none" stroke="#ecf5f9" stroke-width="0.9"/>
<path d="M123.8,67.8 Q126.5,66.8 129.2,68.3" fill="none" stroke="#ecf5f9" stroke-width="0.9"/>
<path d="M141.1,113.4 Q142.8,112.3 144.6,113.6" fill="none" stroke="#ecf5f9" stroke-width="0.9"/>
<path d="M165.8,116.5 Q167.2,114.9 168.7,115.7" fill="none" stroke="#ecf5f9" stroke-width="0.9"/>
<path d="M138.3,92.6 Q141.2,91.7 144.1,93.1" fill="none" stroke="#ecf5f9" stroke-width="0.9"/>
<path d="M153.6,111.1 Q155.6,108.7 157.6,108.8" fill="none" stroke="#ecf5f9" stroke-width="0.9"/>
<path d="M89.2,106.3 Q90.7,105.9 92.1,107.8" fill="none" stroke="#ecf5f9" stroke-width="0.9"/>
<path d="M151.7,64.2 Q154.0,63.7 156.4,65.7" fill="none" stroke="#ecf5f9" stroke-width="0.9"/>
<path d="M107.7,69.7 Q109.9,69.2 112.1,71.1" fill="none" stroke="#ecf5f9" stroke-width="0.9"/>
<path d="M166.4,82.0 Q169.3,80.2 172.2,80.9" fill="none" stroke="#ecf5f9" stroke-width="0.9"/>
<path d="M156.0,89.0 Q158.6,88.0 161.1,89.3" fill="none" stroke="#ecf5f9" stroke-width="0.9"/>
<path d="M160.0,119.0 Q162.7,117.5 165.5,118.4" fill="none" stroke="#ecf5f9" stroke-width="0.9"/>
<path d="M155.3,114.6 Q157.9,114.4 160.5,116.6" fill="none" stroke="#ecf5f9" stroke-width="0.9"/>
<path d="M152.4,91.2 Q155.0,90.7 157.6,92.5" fill="none" stroke="#ecf5f9" stroke-width="0.9"/>
<path d="M127.6,83.9 Q130.0,81.6 132.4,81.7" fill="none" stroke="#ecf5f9" stroke-width="0.9"/>
<path d="M98.9,68.5 Q100.9,67.1 102.8,68.2" fill="none" stroke="#ecf5f9" stroke-width="0.9"/>
<path d="M114.9,62.2 Q117.5,61.4 120.1,63.1" fill="none" stroke="#ecf5f9" stroke-width="0.9"/>
<path d="M131.8,95.5 Q133.2,95.0 134.6,96.9" fill="none" stroke="#ecf5f9" stroke-width="0.9"/>
<path d="M104.6,70.7 Q106.9,70.1 109.2,71.9" fill="none" stroke="#ecf5f9" stroke-width="0.9"/>
<path d="M105.3,67.1 Q107.0,65.5 108.7,66.2" fill="none" stroke="#ecf5f9" stroke-width="0.9"/>
<path d="M165.6,76.1 Q168.3,75.1 171.0,76.4" fill="none" stroke="#ecf5f9" stroke-width="0.9"/>
<path d="M134.2,72.5 Q136.7,72.6 139.3,75.1" fill="none" stroke="#ecf5f9" stroke-width="0.9"/>
</g>
<circle cx="189.4" cy="92.9" r="20" fill="url(#redglow)"/>
<circle cx="306.00" cy="121.50" r="1.70" fill="#7fc1d3"/>
<path d="M306.70,119.95 L305.66,119.51 L304.24,118.95 L302.60,118.28 L300.89,117.52 L299.28,116.69 L297.90,115.81 L296.64,114.79 L295.36,113.63 L294.13,112.37 L292.99,111.05 L291.97,109.70 L291.12,108.38 L290.44,107.07 L289.91,105.71 L289.49,104.28 L289.14,102.82 L288.85,101.32 L288.57,99.84 L288.34,98.29 L288.18,96.61 L288.07,94.90 L288.00,93.31 L287.95,91.96 L287.90,90.97 A0.90,0.90 0 0 1 286.10,91.03 L286.10,91.03 L286.11,92.00 L286.11,93.35 L286.11,94.97 L286.15,96.73 L286.25,98.50 L286.43,100.16 L286.65,101.70 L286.89,103.26 L287.20,104.84 L287.61,106.44 L288.16,108.04 L288.88,109.62 L289.80,111.16 L290.86,112.70 L292.05,114.19 L293.34,115.63 L294.69,116.97 L296.10,118.19 L297.70,119.31 L299.48,120.33 L301.28,121.22 L302.95,121.98 L304.33,122.59 L305.30,123.05Z" fill="#7fc1d3"/>
<circle cx="290.50" cy="110.00" r="1.10" fill="#7fc1d3"/>
<path d="M291.51,110.43 L291.77,109.76 L292.14,108.84 L292.57,107.74 L293.03,106.57 L293.48,105.41 L293.88,104.34 L294.24,103.31 L294.61,102.23 L294.97,101.17 L295.29,100.19 L295.56,99.37 L295.75,98.77 A0.80,0.80 0 0 1 294.25,98.23 L294.25,98.23 L294.02,98.82 L293.71,99.63 L293.35,100.58 L292.94,101.62 L292.53,102.67 L292.12,103.66 L291.69,104.68 L291.19,105.80 L290.68,106.94 L290.19,108.01 L289.78,108.92 L289.49,109.57Z" fill="#7fc1d3"/>
<circle cx="290.00" cy="105.00" r="1.20" fill="#7fc1d3"/>
<path d="M290.22,103.82 L289.12,103.63 L287.57,103.33 L285.71,102.99 L283.71,102.68 L281.74,102.48 L279.95,102.48 L278.33,102.70 L276.77,103.10 L275.29,103.60 L273.93,104.16 L272.71,104.71 L271.63,105.20 L270.66,105.70 L269.81,106.25 L269.09,106.80 L268.51,107.29 L268.05,107.69 L267.71,107.97 A0.80,0.80 0 0 1 268.69,109.23 L268.69,109.23 L269.08,108.94 L269.55,108.55 L270.11,108.11 L270.75,107.66 L271.50,107.21 L272.37,106.80 L273.42,106.36 L274.63,105.87 L275.93,105.39 L277.29,104.97 L278.68,104.67 L280.05,104.52 L281.59,104.59 L283.40,104.83 L285.29,105.20 L287.10,105.59 L288.66,105.95 L289.78,106.18Z" fill="#7fc1d3"/>
<circle cx="292.00" cy="112.00" r="1.00" fill="#7fc1d3"/>
<path d="M292.00,111.00 L291.13,111.02 L289.89,111.00 L288.39,110.99 L286.77,111.06 L285.17,111.27 L283.69,111.68 L282.33,112.40 L281.03,113.36 L279.81,114.43 L278.73,115.47 L277.85,116.35 L277.20,116.94 A0.75,0.75 0 0 1 278.20,118.06 L278.20,118.06 L278.89,117.46 L279.81,116.61 L280.89,115.63 L282.05,114.67 L283.23,113.86 L284.31,113.32 L285.49,113.03 L286.90,112.90 L288.40,112.88 L289.84,112.93 L291.09,112.99 L292.00,113.00Z" fill="#7fc1d3"/>
<circle cx="306.00" cy="121.50" r="1.40" fill="#7fc1d3"/>
<path d="M305.40,120.24 L303.86,121.00 L301.73,122.12 L299.25,123.39 L296.62,124.64 L294.05,125.68 L291.76,126.35 L289.65,126.67 L287.52,126.79 L285.40,126.73 L283.32,126.49 L281.28,126.10 L279.33,125.57 L277.35,124.76 L275.26,123.60 L273.19,122.26 L271.28,120.92 L269.65,119.75 L268.46,118.94 A0.80,0.80 0 0 1 267.54,120.26 L267.54,120.26 L268.69,121.08 L270.28,122.29 L272.18,123.71 L274.29,125.16 L276.49,126.47 L278.67,127.43 L280.79,128.08 L282.97,128.57 L285.22,128.88 L287.52,129.02 L289.86,128.95 L292.24,128.65 L294.82,127.99 L297.60,126.95 L300.37,125.74 L302.93,124.51 L305.08,123.47 L306.60,122.76Z" fill="#7fc1d3"/>
<circle cx="306.00" cy="122.00" r="1.60" fill="#7fc1d3"/>
<path d="M305.10,120.68 L303.31,121.94 L300.79,123.72 L297.82,125.81 L294.70,128.02 L291.75,130.15 L289.26,131.99 L287.22,133.57 L285.39,135.05 L283.73,136.44 L282.20,137.76 L280.75,139.01 L279.35,140.22 L277.95,141.43 L276.57,142.65 L275.27,143.81 L274.12,144.85 L273.16,145.72 L272.44,146.36 A0.85,0.85 0 0 1 273.56,147.64 L273.56,147.64 L274.30,147.02 L275.29,146.19 L276.48,145.19 L277.80,144.09 L279.21,142.94 L280.65,141.78 L282.10,140.62 L283.58,139.43 L285.15,138.18 L286.83,136.87 L288.68,135.49 L290.74,134.01 L293.25,132.28 L296.26,130.28 L299.43,128.19 L302.47,126.21 L305.07,124.52 L306.90,123.32Z" fill="#7fc1d3"/>
<circle cx="296.00" cy="129.00" r="1.10" fill="#7fc1d3"/>
<path d="M295.15,128.31 L294.47,129.16 L293.49,130.35 L292.32,131.79 L291.12,133.37 L290.02,135.00 L289.15,136.60 L288.54,138.27 L288.09,140.06 L287.78,141.85 L287.54,143.50 L287.37,144.88 L287.21,145.86 A0.80,0.80 0 0 1 288.79,146.14 L288.79,146.14 L288.98,145.14 L289.20,143.75 L289.47,142.15 L289.83,140.46 L290.29,138.82 L290.85,137.40 L291.66,136.04 L292.73,134.56 L293.93,133.09 L295.11,131.72 L296.13,130.55 L296.85,129.69Z" fill="#7fc1d3"/>
<circle cx="287" cy="91" r="2.4" fill="#7fc1d3"/>
<circle cx="295" cy="98.5" r="2.4" fill="#7fc1d3"/>
<circle cx="268.2" cy="108.6" r="2.4" fill="#7fc1d3"/>
<circle cx="277.7" cy="117.5" r="2.4" fill="#7fc1d3"/>
<circle cx="268" cy="119.6" r="2.4" fill="#7fc1d3"/>
<circle cx="272.8" cy="146.9" r="2.4" fill="#7fc1d3"/>
<circle cx="288" cy="146" r="2.4" fill="#7fc1d3"/>
<circle cx="305.50" cy="121.20" r="1.00" fill="#7fc1d3"/>
<path d="M305.37,122.19 L306.73,122.36 L308.62,122.63 L310.88,122.94 L313.31,123.22 L315.74,123.43 L317.99,123.50 L320.06,123.47 L322.10,123.39 L324.14,123.23 L326.18,122.96 L328.24,122.54 L330.31,121.95 L332.41,121.16 L334.51,120.21 L336.61,119.13 L338.67,117.93 L340.67,116.65 L342.59,115.30 L344.45,113.85 L346.23,112.27 L347.95,110.62 L349.61,108.94 L351.19,107.28 L352.72,105.69 L354.16,104.19 L355.48,102.74 L356.75,101.32 L358.02,99.86 L359.33,98.32 L360.76,96.64 L362.32,94.77 L363.96,92.74 L365.65,90.63 L367.36,88.53 L369.06,86.52 L370.73,84.68 L372.37,82.94 L373.98,81.23 L375.57,79.63 L377.16,78.17 L378.79,76.91 L380.47,75.88 L382.27,75.07 L384.20,74.42 L386.19,73.95 L388.19,73.64 L390.13,73.49 L391.95,73.50 L393.64,73.68 L395.29,74.06 L396.90,74.59 L398.47,75.26 L400.00,76.03 L401.48,76.86 L402.87,77.76 L404.18,78.77 L405.45,79.89 L406.71,81.10 L407.98,82.38 L409.28,83.70 L410.58,85.04 L411.84,86.44 L413.12,87.90 L414.43,89.43 L415.80,91.02 L417.26,92.67 L418.85,94.41 L420.57,96.24 L422.33,98.12 L424.07,100.01 L425.73,101.86 L427.22,103.63 L428.62,105.44 L430.00,107.35 L431.30,109.25 L432.46,111.00 L433.44,112.48 L434.17,113.56 A1.00,1.00 0 0 1 435.83,112.44 L435.83,112.44 L435.11,111.37 L434.13,109.89 L432.95,108.13 L431.63,106.20 L430.22,104.24 L428.78,102.37 L427.24,100.55 L425.55,98.66 L423.79,96.76 L422.03,94.87 L420.32,93.05 L418.74,91.33 L417.30,89.70 L415.94,88.13 L414.63,86.60 L413.34,85.11 L412.04,83.68 L410.72,82.30 L409.40,80.97 L408.11,79.68 L406.80,78.42 L405.45,77.23 L404.03,76.13 L402.52,75.14 L400.94,74.26 L399.31,73.44 L397.60,72.72 L395.82,72.13 L393.97,71.71 L392.05,71.50 L390.05,71.49 L387.96,71.65 L385.81,71.99 L383.65,72.50 L381.54,73.21 L379.53,74.12 L377.65,75.27 L375.87,76.64 L374.18,78.18 L372.54,79.84 L370.92,81.57 L369.27,83.32 L367.56,85.20 L365.82,87.25 L364.10,89.37 L362.41,91.48 L360.78,93.51 L359.24,95.36 L357.81,97.02 L356.50,98.55 L355.25,100.00 L354.00,101.40 L352.70,102.82 L351.28,104.31 L349.75,105.90 L348.17,107.54 L346.55,109.20 L344.88,110.80 L343.17,112.32 L341.41,113.70 L339.56,114.98 L337.63,116.22 L335.64,117.37 L333.64,118.42 L331.64,119.32 L329.69,120.05 L327.77,120.60 L325.85,120.99 L323.93,121.24 L321.98,121.39 L320.00,121.47 L318.01,121.50 L315.86,121.43 L313.51,121.23 L311.12,120.95 L308.90,120.65 L307.00,120.38 L305.63,120.21Z" fill="#7fc1d3"/>
<rect x="-8.8" y="-3.7" width="17.7" height="7.4" rx="3.6" fill="#e2e8ea" fill-opacity="0.75" stroke="#c6cdd0" stroke-width="0.9" transform="translate(315.4,122.2) rotate(8.1)"/>
<rect x="-9.3" y="-3.7" width="18.5" height="7.4" rx="3.6" fill="#e2e8ea" fill-opacity="0.75" stroke="#c6cdd0" stroke-width="0.9" transform="translate(339.3,115.9) rotate(-26.3)"/>
<rect x="-8.8" y="-3.7" width="17.6" height="7.4" rx="3.6" fill="#e2e8ea" fill-opacity="0.75" stroke="#c6cdd0" stroke-width="0.9" transform="translate(356.6,100.9) rotate(-46.2)"/>
<rect x="-8.3" y="-3.7" width="16.6" height="7.4" rx="3.6" fill="#e2e8ea" fill-opacity="0.75" stroke="#c6cdd0" stroke-width="0.9" transform="translate(371.2,83.6) rotate(-36.2)"/>
<rect x="-9.4" y="-3.7" width="18.7" height="7.4" rx="3.6" fill="#e2e8ea" fill-opacity="0.75" stroke="#c6cdd0" stroke-width="0.9" transform="translate(393.2,74.5) rotate(10.8)"/>
<rect x="-8.3" y="-3.7" width="16.6" height="7.4" rx="3.6" fill="#e2e8ea" fill-opacity="0.75" stroke="#c6cdd0" stroke-width="0.9" transform="translate(412.4,86.2) rotate(39.4)"/>
<circle cx="435.30" cy="113.60" r="4.75" fill="#7fc1d3"/>
<path d="M439.88,114.86 L440.07,111.94 L440.40,107.80 L440.94,103.03 L441.69,98.20 L442.58,93.84 L443.48,90.54 L444.41,88.42 L445.43,86.97 L446.51,85.87 L447.61,84.84 L448.64,83.62 L449.40,81.99 L449.77,79.99 L449.85,77.80 L449.75,75.58 L449.58,73.51 L449.42,71.77 L449.35,70.55 A0.85,0.85 0 0 1 447.65,70.65 L447.65,70.65 L447.73,71.91 L447.88,73.65 L448.03,75.68 L448.09,77.79 L447.96,79.78 L447.60,81.41 L447.00,82.52 L446.17,83.37 L445.06,84.27 L443.72,85.44 L442.30,87.10 L440.92,89.46 L439.43,92.80 L437.69,97.02 L435.77,101.60 L433.82,106.03 L432.05,109.77 L430.72,112.34Z" fill="#7fc1d3"/>
<circle cx="447.00" cy="86.00" r="1.25" fill="#7fc1d3"/>
<path d="M447.37,87.19 L448.39,86.85 L449.79,86.32 L451.40,85.74 L453.09,85.21 L454.69,84.84 L456.03,84.73 L457.28,84.94 L458.68,85.43 L460.09,86.09 L461.41,86.80 L462.55,87.43 L463.39,87.86 A0.75,0.75 0 0 1 464.11,86.54 L464.11,86.54 L463.32,86.09 L462.23,85.39 L460.90,84.58 L459.40,83.78 L457.81,83.13 L456.17,82.77 L454.43,82.80 L452.59,83.11 L450.74,83.58 L449.04,84.09 L447.63,84.53 L446.63,84.81Z" fill="#7fc1d3"/>
<circle cx="435.30" cy="113.60" r="4.75" fill="#7fc1d3"/>
<path d="M437.69,117.70 L439.65,115.97 L442.45,113.55 L445.78,110.83 L449.29,108.14 L452.64,105.76 L455.43,103.95 L457.59,102.72 L459.41,101.84 L461.03,101.16 L462.60,100.58 L464.27,99.97 L466.14,99.25 L468.36,98.37 L470.84,97.41 L473.39,96.45 L475.79,95.57 L477.83,94.83 L479.29,94.30 A0.85,0.85 0 0 1 478.71,92.70 L478.71,92.70 L477.25,93.23 L475.21,93.96 L472.80,94.82 L470.23,95.72 L467.71,96.59 L465.46,97.35 L463.58,97.94 L461.90,98.40 L460.25,98.85 L458.46,99.39 L456.42,100.09 L453.97,101.05 L450.80,102.40 L446.97,104.06 L442.84,105.79 L438.82,107.38 L435.36,108.66 L432.91,109.50Z" fill="#7fc1d3"/>
<circle cx="460.00" cy="100.00" r="1.25" fill="#7fc1d3"/>
<path d="M461.06,100.67 L461.85,99.35 L462.98,97.47 L464.31,95.28 L465.68,92.99 L466.96,90.85 L467.99,89.08 L468.80,87.64 L469.51,86.34 L470.11,85.18 L470.62,84.19 L471.04,83.38 L471.36,82.76 A0.75,0.75 0 0 1 470.04,82.04 L470.04,82.04 L469.69,82.65 L469.24,83.44 L468.69,84.39 L468.03,85.50 L467.28,86.75 L466.41,88.12 L465.31,89.82 L463.93,91.89 L462.46,94.10 L461.03,96.23 L459.80,98.05 L458.94,99.33Z" fill="#7fc1d3"/>
<circle cx="468.00" cy="98.00" r="1.15" fill="#7fc1d3"/>
<path d="M466.89,98.29 L467.07,98.90 L467.28,99.77 L467.56,100.85 L467.95,102.06 L468.47,103.31 L469.17,104.53 L470.13,105.77 L471.33,107.07 L472.63,108.37 L473.90,109.58 L474.97,110.60 L475.71,111.32 A0.75,0.75 0 0 1 476.79,110.28 L476.79,110.28 L476.07,109.50 L475.05,108.43 L473.87,107.18 L472.67,105.85 L471.60,104.57 L470.83,103.47 L470.32,102.46 L469.94,101.38 L469.66,100.30 L469.44,99.28 L469.27,98.38 L469.11,97.71Z" fill="#7fc1d3"/>
<circle cx="435.30" cy="113.60" r="4.75" fill="#7fc1d3"/>
<path d="M433.84,118.12 L436.37,118.34 L439.96,118.79 L444.16,119.43 L448.49,120.17 L452.52,120.87 L455.84,121.34 L458.44,121.48 L460.63,121.36 L462.50,121.07 L464.14,120.71 L465.68,120.36 L467.29,120.13 L469.08,119.97 L470.99,119.81 L472.86,119.66 L474.57,119.53 L476.01,119.42 L477.06,119.35 A0.85,0.85 0 0 1 476.94,117.65 L476.94,117.65 L475.89,117.73 L474.45,117.83 L472.73,117.95 L470.86,118.07 L468.96,118.18 L467.11,118.27 L465.39,118.43 L463.77,118.68 L462.18,118.90 L460.50,119.01 L458.61,118.89 L456.36,118.46 L453.39,117.50 L449.74,116.00 L445.85,114.16 L442.14,112.20 L438.98,110.39 L436.76,109.08Z" fill="#7fc1d3"/>
<circle cx="462.00" cy="120.00" r="1.25" fill="#7fc1d3"/>
<path d="M460.80,120.35 L461.16,121.50 L461.62,123.19 L462.21,125.21 L462.94,127.33 L463.87,129.32 L465.07,130.98 L466.68,132.20 L468.59,133.11 L470.61,133.81 L472.54,134.35 L474.15,134.77 L475.26,135.11 A0.75,0.75 0 0 1 475.74,133.69 L475.74,133.69 L474.60,133.28 L473.00,132.78 L471.16,132.18 L469.32,131.44 L467.69,130.58 L466.53,129.62 L465.69,128.32 L464.97,126.56 L464.38,124.57 L463.91,122.61 L463.53,120.88 L463.20,119.65Z" fill="#7fc1d3"/>
<circle cx="465.00" cy="127.00" r="1.15" fill="#7fc1d3"/>
<path d="M463.86,127.13 L464.17,129.53 L464.63,133.04 L465.16,137.10 L465.68,141.17 L466.14,144.68 L466.45,147.08 A0.75,0.75 0 0 1 467.95,146.92 L467.95,146.92 L467.73,144.51 L467.41,140.98 L467.04,136.90 L466.68,132.81 L466.36,129.29 L466.14,126.87Z" fill="#7fc1d3"/>
<circle cx="435.30" cy="113.60" r="4.50" fill="#7fc1d3"/>
<path d="M431.11,115.25 L432.26,116.93 L433.79,119.34 L435.54,122.23 L437.36,125.33 L439.12,128.37 L440.75,131.06 L442.36,133.43 L444.05,135.68 L445.72,137.80 L447.28,139.78 L448.64,141.61 L449.73,143.25 L450.53,144.74 L451.15,146.10 L451.61,147.32 L451.97,148.38 L452.25,149.28 L452.50,149.98 A0.85,0.85 0 0 1 454.10,149.42 L454.10,149.42 L453.87,148.75 L453.59,147.86 L453.22,146.75 L452.74,145.44 L452.10,143.97 L451.27,142.35 L450.19,140.57 L448.90,138.62 L447.50,136.53 L446.08,134.29 L444.77,131.96 L443.65,129.54 L442.66,126.76 L441.73,123.52 L440.92,120.11 L440.28,116.83 L439.81,114.00 L439.49,111.95Z" fill="#7fc1d3"/>
<circle cx="435.30" cy="113.60" r="4.50" fill="#7fc1d3"/>
<path d="M430.87,114.41 L431.94,117.20 L433.41,121.16 L434.98,125.78 L436.39,130.59 L437.45,135.06 L438.03,138.65 L438.11,141.33 L437.85,143.56 L437.36,145.49 L436.78,147.28 L436.21,149.06 L435.81,150.94 L435.58,152.90 L435.43,154.84 L435.33,156.69 L435.26,158.35 L435.20,159.74 L435.15,160.76 A0.85,0.85 0 0 1 436.85,160.84 L436.85,160.84 L436.90,159.81 L436.96,158.42 L437.04,156.78 L437.16,154.96 L437.34,153.09 L437.59,151.26 L438.02,149.58 L438.63,147.93 L439.34,146.12 L440.01,144.04 L440.53,141.55 L440.77,138.55 L440.67,134.67 L440.38,129.94 L440.06,124.86 L439.82,119.93 L439.71,115.73 L439.73,112.79Z" fill="#7fc1d3"/>
<circle cx="438.00" cy="144.00" r="1.15" fill="#7fc1d3"/>
<path d="M437.20,143.18 L436.54,143.85 L435.60,144.80 L434.50,145.92 L433.34,147.12 L432.24,148.31 L431.30,149.40 L430.50,150.45 L429.76,151.52 L429.09,152.57 L428.51,153.52 L428.03,154.31 L427.67,154.89 A0.75,0.75 0 0 1 428.93,155.71 L428.93,155.71 L429.32,155.15 L429.84,154.38 L430.46,153.48 L431.16,152.51 L431.91,151.53 L432.70,150.60 L433.63,149.63 L434.76,148.54 L435.96,147.42 L437.11,146.37 L438.10,145.47 L438.80,144.82Z" fill="#7fc1d3"/>
<circle cx="438.00" cy="146.00" r="1.15" fill="#7fc1d3"/>
<path d="M437.01,146.59 L437.37,147.13 L437.85,147.88 L438.43,148.77 L439.05,149.72 L439.66,150.65 L440.20,151.48 L440.72,152.27 L441.25,153.09 L441.78,153.89 L442.26,154.62 L442.66,155.24 L442.96,155.69 A0.75,0.75 0 0 1 444.24,154.91 L444.24,154.91 L443.98,154.44 L443.62,153.80 L443.20,153.03 L442.73,152.20 L442.26,151.34 L441.80,150.52 L441.32,149.65 L440.79,148.68 L440.24,147.69 L439.73,146.76 L439.30,145.97 L438.99,145.41Z" fill="#7fc1d3"/>
<circle cx="435.30" cy="113.60" r="4.50" fill="#7fc1d3"/>
<path d="M431.34,111.46 L430.66,113.71 L429.62,116.86 L428.31,120.52 L426.87,124.33 L425.43,127.93 L424.18,130.99 L423.15,133.54 L422.24,135.87 L421.42,138.02 L420.65,140.04 L419.90,141.95 L419.14,143.83 L418.35,145.73 L417.54,147.65 L416.76,149.49 L416.05,151.15 L415.46,152.54 L415.02,153.56 A0.85,0.85 0 0 1 416.58,154.24 L416.58,154.24 L417.02,153.21 L417.62,151.83 L418.34,150.17 L419.14,148.35 L419.99,146.45 L420.86,144.57 L421.71,142.73 L422.58,140.86 L423.50,138.93 L424.51,136.90 L425.67,134.74 L427.02,132.41 L428.76,129.67 L430.91,126.49 L433.29,123.22 L435.65,120.14 L437.74,117.56 L439.26,115.74Z" fill="#7fc1d3"/>
<circle cx="422.00" cy="139.00" r="1.20" fill="#7fc1d3"/>
<path d="M421.73,137.83 L420.87,138.06 L419.67,138.36 L418.24,138.73 L416.70,139.14 L415.14,139.59 L413.70,140.07 L412.26,140.62 L410.73,141.27 L409.22,141.94 L407.82,142.58 L406.65,143.13 L405.81,143.51 A0.75,0.75 0 0 1 406.39,144.89 L406.39,144.89 L407.26,144.55 L408.46,144.07 L409.88,143.51 L411.40,142.93 L412.91,142.38 L414.30,141.93 L415.70,141.55 L417.21,141.20 L418.75,140.87 L420.17,140.59 L421.39,140.35 L422.27,140.17Z" fill="#7fc1d3"/>
<circle cx="435.30" cy="113.60" r="4.75" fill="#7fc1d3"/>
<path d="M433.99,109.03 L431.25,110.55 L427.28,112.60 L422.60,114.79 L417.78,116.80 L413.38,118.42 L410.04,119.48 L407.89,120.02 L406.51,120.24 L405.65,120.26 L404.95,120.19 L404.11,120.10 L402.99,120.10 L401.58,120.17 L400.06,120.24 L398.52,120.29 L397.08,120.34 L395.85,120.37 L394.98,120.40 A0.85,0.85 0 0 1 395.02,122.10 L395.02,122.10 L395.90,122.07 L397.12,122.04 L398.57,122.01 L400.12,121.97 L401.65,121.94 L403.01,121.90 L403.99,121.94 L404.71,122.06 L405.53,122.18 L406.65,122.22 L408.24,122.08 L410.56,121.72 L414.08,121.05 L418.72,120.19 L423.91,119.36 L429.05,118.71 L433.50,118.33 L436.61,118.17Z" fill="#7fc1d3"/>
<circle cx="410.00" cy="121.00" r="1.20" fill="#7fc1d3"/>
<path d="M409.10,120.20 L408.56,120.84 L407.79,121.73 L406.86,122.81 L405.89,124.00 L404.96,125.25 L404.16,126.50 L403.50,127.83 L402.91,129.30 L402.39,130.78 L401.94,132.16 L401.57,133.32 L401.30,134.14 A0.75,0.75 0 0 1 402.70,134.66 L402.70,134.66 L403.03,133.84 L403.47,132.70 L403.98,131.37 L404.57,129.98 L405.20,128.64 L405.84,127.50 L406.60,126.45 L407.52,125.35 L408.51,124.27 L409.47,123.28 L410.30,122.43 L410.90,121.80Z" fill="#7fc1d3"/>
<circle cx="435.30" cy="113.60" r="4.75" fill="#7fc1d3"/>
<path d="M438.68,110.26 L436.39,108.96 L433.21,106.97 L429.68,104.48 L426.24,101.76 L423.25,99.14 L421.03,97.04 L419.52,95.48 L418.40,94.22 L417.57,93.22 L416.95,92.42 L416.46,91.75 L416.02,91.20 A1.30,1.30 0 0 1 413.98,92.80 L413.98,92.80 L414.39,93.33 L414.88,93.98 L415.52,94.83 L416.38,95.91 L417.51,97.27 L418.97,98.96 L421.01,101.31 L423.57,104.38 L426.24,107.87 L428.69,111.43 L430.65,114.63 L431.92,116.94Z" fill="#7fc1d3"/>
<circle cx="435.3" cy="113.6" r="12.5" fill="#7fc1d3"/>
<circle cx="435.3" cy="113.6" r="5.3" fill="#5b9fc6"/>
<circle cx="435.3" cy="113.6" r="1.8" fill="#2f5fb0"/>
<circle cx="301.20" cy="205.80" r="1.60" fill="#ec8a60"/>
<path d="M301.62,204.26 L300.62,204.00 L299.23,203.63 L297.56,203.20 L295.75,202.76 L293.93,202.36 L292.22,202.07 L290.52,201.89 L288.73,201.79 L286.97,201.74 L285.36,201.73 L284.01,201.72 L283.04,201.70 A1.30,1.30 0 0 1 282.96,204.30 L282.96,204.30 L283.94,204.35 L285.29,204.40 L286.88,204.47 L288.57,204.57 L290.25,204.72 L291.78,204.93 L293.32,205.25 L295.03,205.68 L296.76,206.16 L298.39,206.64 L299.77,207.05 L300.78,207.34Z" fill="#ec8a60"/>
<circle cx="283.00" cy="203.00" r="1.20" fill="#ec8a60"/>
<path d="M283.77,202.08 L283.11,201.56 L282.20,200.85 L281.13,200.01 L279.97,199.09 L278.79,198.14 L277.66,197.23 L276.49,196.26 L275.19,195.18 L273.87,194.07 L272.63,193.02 L271.58,192.14 L270.83,191.50 A0.80,0.80 0 0 1 269.77,192.70 L269.77,192.70 L270.49,193.37 L271.49,194.30 L272.68,195.41 L273.95,196.58 L275.20,197.74 L276.34,198.77 L277.43,199.74 L278.58,200.75 L279.70,201.73 L280.74,202.63 L281.60,203.38 L282.23,203.92Z" fill="#ec8a60"/>
<circle cx="288.00" cy="202.50" r="1.10" fill="#ec8a60"/>
<path d="M289.00,202.03 L288.64,201.32 L288.15,200.33 L287.57,199.17 L286.96,197.92 L286.37,196.71 L285.86,195.63 L285.41,194.61 L284.95,193.54 L284.51,192.49 L284.12,191.52 L283.79,190.71 L283.55,190.11 A0.80,0.80 0 0 1 282.05,190.69 L282.05,190.69 L282.27,191.29 L282.56,192.12 L282.91,193.10 L283.30,194.18 L283.72,195.29 L284.14,196.37 L284.61,197.50 L285.15,198.76 L285.71,200.03 L286.24,201.23 L286.69,202.24 L287.00,202.97Z" fill="#ec8a60"/>
<circle cx="283.00" cy="203.00" r="1.20" fill="#ec8a60"/>
<path d="M282.16,202.14 L281.62,202.70 L280.86,203.47 L279.96,204.38 L279.01,205.38 L278.07,206.38 L277.23,207.31 L276.48,208.23 L275.77,209.18 L275.08,210.11 L274.45,210.99 L273.87,211.77 L273.35,212.41 L272.89,212.91 L272.45,213.32 L272.05,213.65 L271.69,213.93 L271.37,214.16 L271.12,214.36 A0.80,0.80 0 0 1 272.08,215.64 L272.08,215.64 L272.32,215.47 L272.64,215.26 L273.05,214.97 L273.53,214.61 L274.07,214.15 L274.65,213.59 L275.26,212.91 L275.91,212.12 L276.59,211.26 L277.30,210.38 L278.03,209.51 L278.77,208.69 L279.60,207.84 L280.55,206.92 L281.54,205.99 L282.47,205.13 L283.27,204.39 L283.84,203.86Z" fill="#ec8a60"/>
<circle cx="301.20" cy="205.80" r="1.60" fill="#ec8a60"/>
<path d="M300.00,204.75 L299.43,205.42 L298.61,206.37 L297.64,207.50 L296.62,208.73 L295.64,209.99 L294.80,211.18 L294.11,212.32 L293.52,213.46 L292.99,214.57 L292.50,215.66 L292.05,216.72 L291.60,217.75 L291.13,218.85 L290.65,220.02 L290.19,221.16 L289.78,222.22 L289.44,223.10 L289.19,223.74 A1.20,1.20 0 0 1 291.41,224.66 L291.41,224.66 L291.69,224.02 L292.06,223.15 L292.51,222.12 L292.99,221.01 L293.50,219.90 L294.00,218.85 L294.49,217.83 L294.98,216.79 L295.48,215.77 L296.00,214.76 L296.57,213.77 L297.20,212.82 L297.98,211.79 L298.93,210.66 L299.96,209.51 L300.94,208.44 L301.80,207.52 L302.40,206.85Z" fill="#ec8a60"/>
<circle cx="293.50" cy="217.00" r="1.00" fill="#ec8a60"/>
<path d="M293.24,216.03 L292.50,216.25 L291.46,216.57 L290.26,216.93 L289.02,217.26 L287.88,217.51 L286.99,217.61 L286.33,217.57 L285.74,217.42 L285.17,217.20 L284.61,216.91 L284.00,216.58 L283.37,216.27 L282.72,215.96 L282.06,215.61 L281.40,215.24 L280.79,214.88 L280.27,214.58 L279.88,214.36 A0.75,0.75 0 0 1 279.12,215.64 L279.12,215.64 L279.48,215.87 L279.99,216.19 L280.60,216.58 L281.28,216.98 L281.97,217.38 L282.63,217.73 L283.22,218.04 L283.80,218.39 L284.45,218.74 L285.19,219.06 L286.04,219.29 L287.01,219.39 L288.15,219.30 L289.43,219.07 L290.74,218.76 L291.99,218.43 L293.03,218.15 L293.76,217.97Z" fill="#ec8a60"/>
<circle cx="290.30" cy="224.20" r="1.10" fill="#ec8a60"/>
<path d="M290.25,223.10 L289.34,223.16 L288.09,223.26 L286.62,223.36 L285.04,223.46 L283.47,223.53 L282.03,223.55 L280.58,223.51 L279.01,223.41 L277.42,223.28 L275.94,223.15 L274.69,223.03 L273.78,222.95 A0.80,0.80 0 0 1 273.62,224.55 L273.62,224.55 L274.52,224.66 L275.76,224.82 L277.24,225.01 L278.85,225.19 L280.46,225.35 L281.97,225.45 L283.49,225.48 L285.11,225.47 L286.72,225.43 L288.21,225.38 L289.46,225.33 L290.35,225.30Z" fill="#ec8a60"/>
<circle cx="290.30" cy="224.20" r="1.10" fill="#ec8a60"/>
<path d="M289.21,224.33 L289.30,224.97 L289.44,225.87 L289.60,226.93 L289.76,228.06 L289.93,229.15 L290.07,230.12 L290.21,231.00 L290.36,231.91 L290.50,232.77 L290.62,233.56 L290.73,234.22 L290.81,234.70 A0.80,0.80 0 0 1 292.39,234.50 L292.39,234.50 L292.34,234.01 L292.27,233.34 L292.19,232.55 L292.10,231.68 L292.01,230.77 L291.93,229.88 L291.83,228.92 L291.73,227.82 L291.63,226.69 L291.53,225.62 L291.45,224.72 L291.39,224.07Z" fill="#ec8a60"/>
<circle cx="291.00" cy="221.00" r="1.00" fill="#ec8a60"/>
<path d="M290.30,221.71 L290.64,222.03 L291.10,222.46 L291.64,222.96 L292.22,223.52 L292.80,224.08 L293.34,224.61 L293.87,225.18 L294.45,225.82 L295.04,226.48 L295.59,227.11 L296.05,227.64 L296.39,228.02 A0.80,0.80 0 0 1 297.61,226.98 L297.61,226.98 L297.29,226.59 L296.86,226.04 L296.33,225.39 L295.77,224.69 L295.20,224.01 L294.66,223.39 L294.13,222.80 L293.55,222.19 L292.98,221.60 L292.46,221.06 L292.02,220.61 L291.70,220.29Z" fill="#ec8a60"/>
<circle cx="270.3" cy="192.1" r="2.4" fill="#ec8a60"/>
<circle cx="282.8" cy="190.4" r="2.2" fill="#ec8a60"/>
<circle cx="271.6" cy="215" r="2.4" fill="#ec8a60"/>
<circle cx="279.5" cy="215" r="1.5" fill="#ec8a60"/>
<circle cx="273.7" cy="223.75" r="2.2" fill="#ec8a60"/>
<circle cx="291.6" cy="234.6" r="2.4" fill="#ec8a60"/>
<circle cx="297" cy="227.5" r="2.4" fill="#ec8a60"/>
<circle cx="300.70" cy="206.00" r="1.00" fill="#ec8a60"/>
<path d="M301.06,206.93 L302.32,206.44 L304.06,205.72 L306.09,204.90 L308.24,204.09 L310.33,203.42 L312.18,202.98 L313.80,202.77 L315.31,202.67 L316.78,202.69 L318.29,202.83 L319.93,203.09 L321.77,203.47 L323.88,204.02 L326.21,204.73 L328.66,205.57 L331.12,206.49 L333.46,207.45 L335.57,208.40 L337.42,209.35 L339.11,210.32 L340.69,211.33 L342.23,212.40 L343.78,213.55 L345.37,214.78 L346.98,216.13 L348.57,217.61 L350.18,219.19 L351.84,220.79 L353.57,222.35 L355.40,223.80 L357.35,225.17 L359.39,226.51 L361.49,227.80 L363.60,228.99 L365.66,230.05 L367.61,230.92 L369.41,231.65 L371.13,232.28 L372.83,232.78 L374.55,233.10 L376.33,233.19 L378.18,232.98 L380.12,232.50 L382.12,231.78 L384.15,230.82 L386.14,229.65 L388.02,228.27 L389.74,226.68 L391.25,224.74 L392.58,222.47 L393.78,220.05 L394.87,217.64 L395.90,215.39 L396.88,213.48 L397.86,211.80 L398.85,210.20 L399.78,208.73 L400.62,207.43 L401.32,206.36 L401.84,205.54 A1.00,1.00 0 0 1 400.16,204.46 L400.16,204.46 L399.64,205.27 L398.94,206.34 L398.10,207.65 L397.15,209.14 L396.15,210.77 L395.12,212.52 L394.09,214.52 L393.05,216.81 L391.97,219.20 L390.82,221.53 L389.59,223.62 L388.26,225.32 L386.75,226.73 L385.04,227.98 L383.22,229.05 L381.36,229.93 L379.53,230.59 L377.82,231.02 L376.27,231.19 L374.78,231.12 L373.30,230.84 L371.76,230.38 L370.13,229.78 L368.39,229.08 L366.53,228.24 L364.55,227.23 L362.51,226.08 L360.46,224.82 L358.47,223.51 L356.60,222.20 L354.86,220.82 L353.20,219.32 L351.57,217.75 L349.95,216.17 L348.31,214.63 L346.63,213.22 L344.98,211.96 L343.40,210.78 L341.81,209.67 L340.15,208.61 L338.37,207.59 L336.43,206.60 L334.25,205.61 L331.85,204.62 L329.34,203.68 L326.83,202.83 L324.42,202.09 L322.23,201.53 L320.30,201.12 L318.54,200.84 L316.88,200.69 L315.25,200.67 L313.59,200.78 L311.82,201.02 L309.79,201.49 L307.58,202.20 L305.36,203.04 L303.30,203.87 L301.57,204.59 L300.34,205.07Z" fill="#ec8a60"/>
<rect x="-7.6" y="-3.7" width="15.3" height="7.4" rx="3.6" fill="#e6d6d0" fill-opacity="0.75" stroke="#cdc6c3" stroke-width="0.9" transform="translate(309.3,203.4) rotate(-14.0)"/>
<rect x="-7.2" y="-3.7" width="14.5" height="7.4" rx="3.6" fill="#e6d6d0" fill-opacity="0.75" stroke="#cdc6c3" stroke-width="0.9" transform="translate(329.6,205.3) rotate(20.2)"/>
<rect x="-6.7" y="-3.7" width="13.3" height="7.4" rx="3.6" fill="#e6d6d0" fill-opacity="0.75" stroke="#cdc6c3" stroke-width="0.9" transform="translate(346.9,215.2) rotate(33.7)"/>
<rect x="-7.7" y="-3.7" width="15.4" height="7.4" rx="3.6" fill="#e6d6d0" fill-opacity="0.75" stroke="#cdc6c3" stroke-width="0.9" transform="translate(361.6,226.3) rotate(28.7)"/>
<rect x="-8.0" y="-3.7" width="16.0" height="7.4" rx="3.6" fill="#e6d6d0" fill-opacity="0.75" stroke="#cdc6c3" stroke-width="0.9" transform="translate(380.8,229.3) rotate(-22.9)"/>
<rect x="-7.2" y="-3.7" width="14.4" height="7.4" rx="3.6" fill="#e6d6d0" fill-opacity="0.75" stroke="#cdc6c3" stroke-width="0.9" transform="translate(394.3,217.7) rotate(-59.0)"/>
<circle cx="408.75" cy="190.80" r="4.50" fill="#ec8a60"/>
<path d="M412.22,187.94 L409.86,186.15 L406.61,183.51 L402.97,180.30 L399.36,176.83 L396.14,173.50 L393.62,170.73 L391.69,168.51 L390.04,166.53 L388.63,164.80 L387.46,163.33 L386.51,162.12 L385.77,161.17 A0.85,0.85 0 0 1 384.43,162.23 L384.43,162.23 L385.17,163.17 L386.12,164.38 L387.27,165.87 L388.64,167.65 L390.21,169.71 L391.98,172.07 L394.19,175.09 L396.83,178.90 L399.54,183.12 L402.00,187.31 L403.97,191.00 L405.28,193.66Z" fill="#ec8a60"/>
<circle cx="392.00" cy="172.00" r="1.20" fill="#ec8a60"/>
<path d="M392.19,170.82 L391.41,170.72 L390.31,170.57 L389.01,170.40 L387.62,170.24 L386.26,170.12 L385.05,170.06 L383.93,170.08 L382.82,170.18 L381.78,170.31 L380.85,170.45 L380.08,170.57 L379.52,170.65 A0.75,0.75 0 0 1 379.68,172.15 L379.68,172.15 L380.26,172.11 L381.04,172.04 L381.95,171.97 L382.94,171.91 L383.96,171.90 L384.95,171.94 L386.05,172.08 L387.33,172.29 L388.67,172.55 L389.94,172.80 L391.03,173.03 L391.81,173.18Z" fill="#ec8a60"/>
<circle cx="408.75" cy="190.80" r="4.50" fill="#ec8a60"/>
<path d="M409.99,186.47 L407.23,186.36 L403.28,185.96 L398.64,185.34 L393.87,184.67 L389.43,184.18 L385.73,184.16 L382.71,184.94 L380.11,186.35 L377.90,188.08 L376.05,189.82 L374.58,191.30 L373.45,192.25 A0.85,0.85 0 0 1 374.55,193.55 L374.55,193.55 L375.73,192.55 L377.24,191.06 L379.03,189.43 L381.10,187.93 L383.39,186.85 L385.87,186.44 L389.06,186.87 L393.08,188.06 L397.38,189.81 L401.49,191.82 L405.01,193.74 L407.51,195.13Z" fill="#ec8a60"/>
<circle cx="384.00" cy="185.00" r="1.15" fill="#ec8a60"/>
<path d="M384.83,184.20 L384.37,183.76 L383.72,183.14 L382.95,182.40 L382.12,181.63 L381.32,180.91 L380.58,180.30 L379.89,179.81 L379.21,179.40 L378.56,179.04 L377.98,178.75 L377.51,178.52 L377.17,178.35 A0.75,0.75 0 0 1 376.43,179.65 L376.43,179.65 L376.77,179.86 L377.22,180.14 L377.74,180.46 L378.30,180.83 L378.87,181.24 L379.42,181.70 L380.02,182.29 L380.72,183.04 L381.45,183.85 L382.15,184.64 L382.75,185.32 L383.17,185.80Z" fill="#ec8a60"/>
<circle cx="408.75" cy="190.80" r="4.50" fill="#ec8a60"/>
<path d="M413.23,190.42 L412.50,188.09 L411.56,184.75 L410.57,180.80 L409.64,176.70 L408.81,172.87 L408.08,169.74 L407.34,167.35 L406.55,165.41 L405.76,163.80 L405.02,162.41 L404.38,161.12 L403.89,159.76 L403.52,158.20 L403.23,156.55 L403.02,154.91 L402.87,153.39 L402.75,152.10 L402.65,151.16 A0.85,0.85 0 0 1 400.95,151.34 L400.95,151.34 L401.06,152.27 L401.17,153.55 L401.32,155.09 L401.51,156.79 L401.77,158.53 L402.11,160.24 L402.60,161.82 L403.20,163.27 L403.84,164.69 L404.44,166.24 L404.96,168.04 L405.32,170.26 L405.52,173.29 L405.53,177.11 L405.34,181.25 L405.00,185.27 L404.60,188.73 L404.27,191.18Z" fill="#ec8a60"/>
<circle cx="403.00" cy="164.00" r="1.15" fill="#ec8a60"/>
<path d="M403.82,163.19 L403.35,162.76 L402.69,162.14 L401.91,161.42 L401.09,160.67 L400.31,159.95 L399.63,159.35 L399.03,158.83 L398.46,158.34 L397.92,157.89 L397.44,157.50 L397.04,157.18 L396.75,156.94 A0.75,0.75 0 0 1 395.75,158.06 L395.75,158.06 L396.03,158.33 L396.39,158.68 L396.83,159.11 L397.32,159.59 L397.84,160.11 L398.37,160.65 L398.98,161.30 L399.69,162.07 L400.43,162.89 L401.15,163.67 L401.75,164.34 L402.18,164.81Z" fill="#ec8a60"/>
<circle cx="408.75" cy="190.80" r="4.00" fill="#ec8a60"/>
<path d="M412.71,191.34 L412.56,188.69 L412.40,184.95 L412.35,180.61 L412.49,176.17 L412.84,172.11 L413.35,168.94 L414.10,166.63 L415.13,164.69 L416.26,163.05 L417.34,161.63 L418.22,160.34 L418.67,158.95 L418.22,157.58 L417.13,156.83 L415.91,156.51 L414.72,156.36 L413.75,156.27 L413.15,156.16 A0.85,0.85 0 0 1 412.85,157.84 L412.85,157.84 L413.54,157.96 L414.54,158.05 L415.59,158.18 L416.46,158.41 L416.87,158.64 L416.93,158.85 L416.67,159.50 L415.90,160.55 L414.77,161.91 L413.46,163.61 L412.16,165.71 L411.05,168.26 L410.08,171.56 L409.03,175.62 L407.90,180.00 L406.73,184.22 L405.64,187.79 L404.79,190.26Z" fill="#ec8a60"/>
<circle cx="408.75" cy="190.80" r="4.50" fill="#ec8a60"/>
<path d="M411.62,194.27 L413.57,191.79 L416.58,188.36 L420.22,184.45 L424.00,180.46 L427.38,176.70 L429.83,173.39 L431.10,170.28 L431.51,167.20 L431.38,164.30 L430.98,161.72 L430.59,159.63 L430.45,158.12 A0.85,0.85 0 0 1 428.75,158.28 L428.75,158.28 L428.91,159.87 L429.29,162.00 L429.64,164.45 L429.69,167.08 L429.20,169.72 L427.97,172.21 L425.48,174.92 L421.75,177.97 L417.34,180.97 L412.81,183.65 L408.76,185.82 L405.88,187.33Z" fill="#ec8a60"/>
<circle cx="427.00" cy="176.00" r="1.20" fill="#ec8a60"/>
<path d="M426.89,177.20 L427.80,177.25 L429.05,177.30 L430.50,177.38 L432.02,177.49 L433.48,177.67 L434.72,177.92 L435.86,178.31 L437.08,178.86 L438.28,179.49 L439.38,180.12 L440.32,180.66 L441.02,181.05 A0.75,0.75 0 0 1 441.78,179.75 L441.78,179.75 L441.12,179.34 L440.22,178.74 L439.12,178.03 L437.90,177.30 L436.60,176.62 L435.28,176.08 L433.86,175.70 L432.29,175.41 L430.70,175.20 L429.22,175.04 L427.98,174.91 L427.11,174.80Z" fill="#ec8a60"/>
<circle cx="428.00" cy="168.00" r="1.10" fill="#ec8a60"/>
<path d="M427.59,169.02 L428.15,169.22 L428.93,169.51 L429.86,169.85 L430.85,170.21 L431.81,170.55 L432.69,170.85 L433.51,171.11 L434.35,171.37 L435.16,171.60 L435.90,171.81 L436.52,171.98 L436.97,172.11 A0.75,0.75 0 0 1 437.43,170.69 L437.43,170.69 L436.99,170.52 L436.38,170.31 L435.67,170.05 L434.88,169.76 L434.08,169.46 L433.31,169.15 L432.50,168.80 L431.57,168.40 L430.62,167.97 L429.72,167.57 L428.96,167.23 L428.41,166.98Z" fill="#ec8a60"/>
<circle cx="408.75" cy="190.80" r="4.50" fill="#ec8a60"/>
<path d="M408.08,195.25 L411.12,195.05 L415.40,194.87 L420.36,194.85 L425.49,195.05 L430.25,195.49 L434.13,196.08 L437.25,196.86 L440.08,197.82 L442.59,198.86 L444.76,199.87 L446.56,200.74 L447.95,201.37 A0.85,0.85 0 0 1 448.65,199.83 L448.65,199.83 L447.29,199.21 L445.50,198.32 L443.31,197.27 L440.76,196.12 L437.87,194.98 L434.67,193.92 L430.76,192.85 L426.05,191.63 L421.05,190.25 L416.28,188.80 L412.23,187.43 L409.42,186.35Z" fill="#ec8a60"/>
<circle cx="436.00" cy="194.00" r="1.15" fill="#ec8a60"/>
<path d="M436.81,194.82 L437.24,194.36 L437.84,193.71 L438.56,192.95 L439.32,192.14 L440.04,191.34 L440.68,190.63 L441.23,189.96 L441.78,189.28 L442.28,188.63 L442.73,188.03 L443.10,187.54 L443.38,187.18 A0.75,0.75 0 0 1 442.22,186.22 L442.22,186.22 L441.92,186.56 L441.51,187.03 L441.02,187.57 L440.47,188.17 L439.90,188.78 L439.32,189.37 L438.67,190.00 L437.90,190.72 L437.09,191.46 L436.32,192.16 L435.66,192.75 L435.19,193.18Z" fill="#ec8a60"/>
<circle cx="440.00" cy="198.00" r="1.15" fill="#ec8a60"/>
<path d="M438.87,198.19 L438.99,198.83 L439.17,199.72 L439.38,200.78 L439.61,201.92 L439.84,203.08 L440.06,204.16 L440.28,205.26 L440.53,206.46 L440.78,207.67 L441.02,208.79 L441.22,209.74 L441.36,210.43 A0.75,0.75 0 0 1 442.84,210.17 L442.84,210.17 L442.74,209.48 L442.60,208.52 L442.44,207.38 L442.27,206.16 L442.10,204.95 L441.94,203.84 L441.79,202.75 L441.64,201.59 L441.48,200.43 L441.34,199.37 L441.22,198.47 L441.13,197.81Z" fill="#ec8a60"/>
<circle cx="408.75" cy="190.80" r="4.50" fill="#ec8a60"/>
<path d="M405.81,194.20 L408.12,195.46 L411.34,197.18 L414.93,199.28 L418.45,201.69 L421.47,204.25 L423.57,206.72 L424.81,209.39 L425.53,212.52 L425.85,215.79 L425.91,218.91 L425.88,221.59 L425.95,223.53 A0.85,0.85 0 0 1 427.65,223.47 L427.65,223.47 L427.58,221.58 L427.63,218.91 L427.65,215.72 L427.48,212.26 L426.95,208.77 L425.83,205.48 L423.85,202.25 L421.19,198.87 L418.26,195.45 L415.46,192.20 L413.17,189.42 L411.69,187.40Z" fill="#ec8a60"/>
<circle cx="424.00" cy="208.00" r="1.15" fill="#ec8a60"/>
<path d="M423.81,209.13 L424.57,209.24 L425.65,209.40 L426.94,209.59 L428.33,209.77 L429.71,209.90 L430.99,209.94 L432.21,209.86 L433.46,209.70 L434.67,209.48 L435.76,209.26 L436.67,209.07 L437.32,208.94 A0.75,0.75 0 0 1 437.08,207.46 L437.08,207.46 L436.40,207.55 L435.48,207.69 L434.41,207.84 L433.25,207.98 L432.09,208.06 L431.01,208.06 L429.89,207.96 L428.61,207.76 L427.29,207.51 L426.04,207.25 L424.97,207.02 L424.19,206.87Z" fill="#ec8a60"/>
<circle cx="408.75" cy="190.80" r="4.75" fill="#ec8a60"/>
<path d="M404.50,188.68 L404.17,191.19 L403.49,194.73 L402.41,198.70 L401.04,202.57 L399.63,205.91 L398.52,208.30 L397.81,209.72 L397.38,210.54 L397.17,210.91 L397.12,210.99 L397.02,211.11 L396.89,211.32 A1.30,1.30 0 0 1 399.11,212.68 L399.11,212.68 L399.18,212.57 L399.22,212.51 L399.40,212.25 L399.67,211.78 L400.13,210.92 L400.88,209.50 L402.14,207.17 L403.98,204.04 L406.26,200.62 L408.77,197.37 L411.19,194.69 L413.00,192.92Z" fill="#ec8a60"/>
<circle cx="408.75" cy="190.8" r="12" fill="#ec8a60"/>
<circle cx="408.75" cy="190.8" r="4.9" fill="#cc5a3a"/>
<circle cx="408.75" cy="190.8" r="1.8" fill="#6b2417"/>
<circle cx="435.3" cy="155.3" r="11.8" fill="none" stroke="#444" stroke-width="0.9" stroke-dasharray="2.5,1.8"/>
<line x1="447" y1="145.5" x2="568" y2="95" stroke="#444" stroke-width="0.9" stroke-dasharray="3,2"/>
<line x1="446" y1="171" x2="610" y2="211.5" stroke="#444" stroke-width="0.9" stroke-dasharray="3,2"/>
<rect x="269.5" y="249.9" width="171.2" height="22.1" fill="none" stroke="#888" stroke-width="0.9" stroke-dasharray="3,1.5,1,1.5"/>
<radialGradient id="pinkg" cx="0.4" cy="0.35" r="0.7"><stop offset="0" stop-color="#f7b8c8"/><stop offset="1" stop-color="#e0708e"/></radialGradient>
<radialGradient id="iong" cx="0.4" cy="0.35" r="0.7"><stop offset="0" stop-color="#ffffff"/><stop offset="1" stop-color="#dcdcdc"/></radialGradient>
<circle cx="279.3" cy="261.5" r="5" fill="url(#pinkg)" stroke="#d9708c" stroke-width="0.6"/>
<text x="291.0" y="266.2" font-size="12.8" text-anchor="start" fill="#111" >Neurotransmitter</text>
<circle cx="400" cy="261.5" r="5.3" fill="url(#iong)" stroke="#bbb" stroke-width="0.7"/>
<text x="414.0" y="266.2" font-size="12.8" text-anchor="start" fill="#111" >Ion</text>
<circle cx="640.5" cy="134.2" r="83" fill="none" stroke="#333" stroke-width="0.9" stroke-dasharray="3,2"/>
<path d="M577.5,55.0 L578.2,55.5 L579.0,56.3 L580.1,57.1 L581.2,58.1 L582.5,59.1 L583.7,60.1 L584.9,61.1 L586.0,62.0 L587.0,62.9 L588.0,63.8 L588.9,64.7 L589.8,65.6 L590.8,66.4 L591.8,67.3 L592.9,68.2 L594.0,69.0 L595.2,69.8 L596.4,70.6 L597.6,71.4 L598.9,72.2 L600.3,73.0 L601.8,73.7 L603.3,74.4 L605.0,75.0 L606.8,75.6 L608.8,76.1 L610.9,76.6 L613.1,77.0 L615.3,77.4 L617.5,77.8 L619.8,78.2 L622.0,78.5 L624.2,78.8 L626.5,79.0 L628.9,79.2 L631.2,79.4 L633.5,79.6 L635.8,79.9 L637.9,80.1 L640.0,80.5 L642.0,80.9 L643.9,81.4 L645.9,81.9 L647.7,82.4 L649.4,83.0 L651.1,83.6 L652.6,84.3 L654.0,85.0 L655.2,85.7 L656.3,86.5 L657.3,87.4 L658.2,88.2 L659.0,89.1 L659.7,90.1 L660.4,91.0 L661.0,92.0 L661.6,93.0 L662.1,94.1 L662.5,95.2 L662.9,96.4 L663.2,97.5 L663.4,98.7 L663.6,99.9 L663.8,101.0 L663.8,102.2 L663.8,103.4 L663.7,104.6 L663.6,105.9 L663.4,107.1 L663.1,108.2 L662.8,109.2 L662.5,110.0 L662.1,110.7 L661.7,111.2 L661.2,111.6 L660.7,111.9 L660.1,112.1 L659.4,112.4 L658.8,112.7 L658.0,113.0 L657.1,113.3 L656.1,113.7 L655.0,113.9 L653.8,114.2 L652.7,114.6 L651.6,115.0 L650.7,115.4 L650.0,116.0 L649.5,116.7 L649.3,117.4 L649.1,118.3 L649.1,119.2 L649.1,120.1 L649.0,121.1 L648.8,122.0 L648.5,123.0 L648.0,124.0 L647.5,124.9 L646.8,125.9 L646.2,127.0 L645.4,128.0 L644.6,129.0 L643.8,130.0 L643.0,131.0 L642.1,132.0 L641.1,133.1 L640.1,134.3 L639.0,135.4 L637.9,136.4 L636.8,137.3 L635.9,138.0 L635.0,138.5 L634.2,138.6 L633.6,138.4 L632.9,138.1 L632.4,137.5 L631.8,137.0 L631.2,136.5 L630.7,136.1 L630.0,136.0 L629.3,136.1 L628.5,136.3 L627.6,136.5 L626.8,136.9 L626.0,137.3 L625.2,137.8 L624.5,138.4 L624.0,139.0 L623.7,139.7 L623.5,140.5 L623.5,141.4 L623.5,142.3 L623.5,143.3 L623.4,144.3 L623.1,145.2 L622.5,146.0 L621.6,146.8 L620.5,147.5 L619.2,148.2 L617.8,148.8 L616.3,149.5 L614.8,150.1 L613.3,150.8 L612.0,151.5 L610.8,152.3 L609.5,153.2 L608.3,154.2 L607.1,155.2 L605.9,156.1 L604.8,156.8 L603.6,157.3 L602.5,157.5 L601.4,157.4 L600.2,157.1 L599.1,156.7 L598.0,156.0 L597.0,155.2 L595.9,154.2 L594.9,153.2 L594.0,152.0 L593.1,150.7 L592.3,149.2 L591.5,147.5 L590.7,145.8 L590.0,143.9 L589.3,142.0 L588.6,140.0 L588.0,138.0 L587.4,135.9 L586.9,133.8 L586.4,131.5 L586.0,129.2 L585.6,126.9 L585.1,124.6 L584.6,122.3 L584.0,120.0 L583.4,117.7 L582.7,115.4 L582.0,113.0 L581.2,110.7 L580.5,108.4 L579.7,106.1 L578.9,104.0 L578.0,102.0 L577.1,100.1 L576.1,98.3 L575.1,96.5 L574.1,94.9 L573.1,93.3 L572.0,91.8 L571.0,90.4 L570.0,89.0 L569.0,87.7 L568.0,86.6 L566.9,85.5 L565.9,84.5 L564.9,83.6 L563.9,82.7 L562.9,81.8 L562.0,81.0 L561.1,80.2 L560.1,79.4 L559.2,78.7 L558.2,78.0 L557.4,77.4 L556.6,76.8 L556.0,76.4 L555.5,76.0 Z" fill="#dcedf8" stroke="none"/>
<path d="M577.5,55.0 L578.2,55.5 L579.0,56.3 L580.1,57.1 L581.2,58.1 L582.5,59.1 L583.7,60.1 L584.9,61.1 L586.0,62.0 L587.0,62.9 L588.0,63.8 L588.9,64.7 L589.8,65.6 L590.8,66.4 L591.8,67.3 L592.9,68.2 L594.0,69.0 L595.2,69.8 L596.4,70.6 L597.6,71.4 L598.9,72.2 L600.3,73.0 L601.8,73.7 L603.3,74.4 L605.0,75.0 L606.8,75.6 L608.8,76.1 L610.9,76.6 L613.1,77.0 L615.3,77.4 L617.5,77.8 L619.8,78.2 L622.0,78.5 L624.2,78.8 L626.5,79.0 L628.9,79.2 L631.2,79.4 L633.5,79.6 L635.8,79.9 L637.9,80.1 L640.0,80.5 L642.0,80.9 L643.9,81.4 L645.9,81.9 L647.7,82.4 L649.4,83.0 L651.1,83.6 L652.6,84.3 L654.0,85.0 L655.2,85.7 L656.3,86.5 L657.3,87.4 L658.2,88.2 L659.0,89.1 L659.7,90.1 L660.4,91.0 L661.0,92.0 L661.6,93.0 L662.1,94.1 L662.5,95.2 L662.9,96.4 L663.2,97.5 L663.4,98.7 L663.6,99.9 L663.8,101.0 L663.8,102.2 L663.8,103.4 L663.7,104.6 L663.6,105.9 L663.4,107.1 L663.1,108.2 L662.8,109.2 L662.5,110.0 L662.1,110.7 L661.7,111.2 L661.2,111.6 L660.7,111.9 L660.1,112.1 L659.4,112.4 L658.8,112.7 L658.0,113.0 L657.1,113.3 L656.1,113.7 L655.0,113.9 L653.8,114.2 L652.7,114.6 L651.6,115.0 L650.7,115.4 L650.0,116.0 L649.5,116.7 L649.3,117.4 L649.1,118.3 L649.1,119.2 L649.1,120.1 L649.0,121.1 L648.8,122.0 L648.5,123.0 L648.0,124.0 L647.5,124.9 L646.8,125.9 L646.2,127.0 L645.4,128.0 L644.6,129.0 L643.8,130.0 L643.0,131.0 L642.1,132.0 L641.1,133.1 L640.1,134.3 L639.0,135.4 L637.9,136.4 L636.8,137.3 L635.9,138.0 L635.0,138.5 L634.2,138.6 L633.6,138.4 L632.9,138.1 L632.4,137.5 L631.8,137.0 L631.2,136.5 L630.7,136.1 L630.0,136.0 L629.3,136.1 L628.5,136.3 L627.6,136.5 L626.8,136.9 L626.0,137.3 L625.2,137.8 L624.5,138.4 L624.0,139.0 L623.7,139.7 L623.5,140.5 L623.5,141.4 L623.5,142.3 L623.5,143.3 L623.4,144.3 L623.1,145.2 L622.5,146.0 L621.6,146.8 L620.5,147.5 L619.2,148.2 L617.8,148.8 L616.3,149.5 L614.8,150.1 L613.3,150.8 L612.0,151.5 L610.8,152.3 L609.5,153.2 L608.3,154.2 L607.1,155.2 L605.9,156.1 L604.8,156.8 L603.6,157.3 L602.5,157.5 L601.4,157.4 L600.2,157.1 L599.1,156.7 L598.0,156.0 L597.0,155.2 L595.9,154.2 L594.9,153.2 L594.0,152.0 L593.1,150.7 L592.3,149.2 L591.5,147.5 L590.7,145.8 L590.0,143.9 L589.3,142.0 L588.6,140.0 L588.0,138.0 L587.4,135.9 L586.9,133.8 L586.4,131.5 L586.0,129.2 L585.6,126.9 L585.1,124.6 L584.6,122.3 L584.0,120.0 L583.4,117.7 L582.7,115.4 L582.0,113.0 L581.2,110.7 L580.5,108.4 L579.7,106.1 L578.9,104.0 L578.0,102.0 L577.1,100.1 L576.1,98.3 L575.1,96.5 L574.1,94.9 L573.1,93.3 L572.0,91.8 L571.0,90.4 L570.0,89.0 L569.0,87.7 L568.0,86.6 L566.9,85.5 L565.9,84.5 L564.9,83.6 L563.9,82.7 L562.9,81.8 L562.0,81.0 L561.1,80.2 L560.1,79.4 L559.2,78.7 L558.2,78.0 L557.4,77.4 L556.6,76.8 L556.0,76.4 L555.5,76.0" fill="none" stroke="#4aa0b6" stroke-width="2.4" stroke-linejoin="round" stroke-linecap="round"/>
<circle cx="590" cy="90" r="5.9" fill="#fff" stroke="#4aa0b6" stroke-width="1.9"/>
<circle cx="588.2" cy="90.9" r="1.2" fill="#e4708f"/>
<circle cx="591.5" cy="89.0" r="1.2" fill="#e4708f"/>
<circle cx="590.9" cy="92.0" r="1.2" fill="#e4708f"/>
<circle cx="620" cy="93.7" r="5.9" fill="#fff" stroke="#4aa0b6" stroke-width="1.9"/>
<circle cx="618.2" cy="94.60000000000001" r="1.2" fill="#e4708f"/>
<circle cx="621.5" cy="92.7" r="1.2" fill="#e4708f"/>
<circle cx="620.9" cy="95.7" r="1.2" fill="#e4708f"/>
<circle cx="607.5" cy="128.7" r="5.9" fill="#fff" stroke="#4aa0b6" stroke-width="1.9"/>
<circle cx="605.7" cy="129.6" r="1.2" fill="#e4708f"/>
<circle cx="609.0" cy="127.69999999999999" r="1.2" fill="#e4708f"/>
<circle cx="608.4" cy="130.7" r="1.2" fill="#e4708f"/>
<circle cx="629" cy="140.5" r="5.9" fill="#fff" stroke="#4aa0b6" stroke-width="1.9"/>
<circle cx="627.2" cy="141.4" r="1.2" fill="#e4708f"/>
<circle cx="630.5" cy="139.5" r="1.2" fill="#e4708f"/>
<circle cx="629.9" cy="142.5" r="1.2" fill="#e4708f"/>
<circle cx="655" cy="118.7" r="5.9" fill="#fff" stroke="#4aa0b6" stroke-width="1.9"/>
<circle cx="653.2" cy="119.60000000000001" r="1.2" fill="#e4708f"/>
<circle cx="656.5" cy="117.7" r="1.2" fill="#e4708f"/>
<circle cx="655.9" cy="120.7" r="1.2" fill="#e4708f"/>
<path d="M703.0,212.0 L702.5,211.4 L701.7,210.7 L700.9,209.8 L700.0,208.8 L699.0,207.7 L697.9,206.7 L696.9,205.8 L696.0,205.0 L695.2,204.4 L694.4,203.8 L693.7,203.3 L693.0,202.8 L692.1,202.3 L691.2,201.9 L690.1,201.5 L688.7,201.0 L687.1,200.5 L685.2,200.1 L683.1,199.6 L680.9,199.1 L678.7,198.7 L676.4,198.3 L674.1,197.9 L672.0,197.5 L669.9,197.2 L667.8,196.9 L665.7,196.7 L663.6,196.4 L661.5,196.2 L659.5,196.0 L657.4,195.7 L655.4,195.4 L653.4,195.1 L651.4,194.7 L649.4,194.3 L647.4,193.9 L645.4,193.5 L643.5,193.0 L641.7,192.5 L640.0,192.0 L638.3,191.4 L636.7,190.9 L635.1,190.3 L633.6,189.6 L632.2,188.9 L630.9,188.2 L629.8,187.4 L628.8,186.5 L628.0,185.5 L627.2,184.4 L626.6,183.3 L626.2,182.0 L625.8,180.8 L625.6,179.5 L625.5,178.2 L625.5,177.0 L625.6,175.8 L625.8,174.5 L626.2,173.2 L626.6,172.0 L627.2,170.7 L628.0,169.4 L628.9,168.2 L630.0,167.0 L631.4,165.8 L633.0,164.7 L634.9,163.5 L636.8,162.4 L638.9,161.3 L641.0,160.2 L643.1,159.1 L645.0,158.0 L646.9,157.0 L648.9,156.0 L650.9,155.0 L652.9,154.0 L654.9,153.0 L656.7,152.0 L658.5,151.0 L660.0,150.0 L661.3,149.0 L662.5,147.9 L663.6,146.9 L664.5,145.8 L665.4,144.7 L666.2,143.6 L667.1,142.3 L668.0,141.0 L668.9,139.5 L669.8,137.9 L670.7,136.2 L671.6,134.4 L672.4,132.7 L673.3,131.0 L674.1,129.4 L675.0,128.0 L675.9,126.7 L676.8,125.5 L677.6,124.4 L678.5,123.3 L679.4,122.4 L680.3,121.5 L681.1,120.7 L682.0,120.0 L682.8,119.4 L683.7,118.9 L684.5,118.5 L685.3,118.2 L686.1,118.0 L686.9,117.8 L687.8,117.7 L688.7,117.7 L689.7,117.7 L690.7,117.8 L691.8,117.9 L692.9,118.1 L694.0,118.4 L695.0,118.8 L696.1,119.3 L697.0,120.0 L697.9,120.9 L698.7,121.9 L699.5,123.0 L700.3,124.3 L701.0,125.6 L701.7,127.0 L702.4,128.5 L703.0,130.0 L703.6,131.5 L704.1,133.2 L704.5,134.9 L705.0,136.6 L705.4,138.4 L705.8,140.3 L706.1,142.1 L706.5,144.0 L706.9,145.9 L707.2,148.0 L707.4,150.1 L707.7,152.2 L708.0,154.3 L708.3,156.3 L708.6,158.2 L709.0,160.0 L709.4,161.6 L709.8,163.1 L710.3,164.5 L710.8,165.9 L711.3,167.2 L711.8,168.4 L712.4,169.7 L713.0,171.0 L713.6,172.3 L714.3,173.6 L715.0,174.9 L715.8,176.1 L716.6,177.4 L717.4,178.6 L718.2,179.8 L719.0,181.0 L719.9,182.2 L720.9,183.5 L722.0,184.8 L723.1,186.0 L724.1,187.2 L725.0,188.2 L725.8,189.1 L726.4,189.8 Z" fill="#fadfd3" stroke="none"/>
<path d="M703.0,212.0 L702.5,211.4 L701.7,210.7 L700.9,209.8 L700.0,208.8 L699.0,207.7 L697.9,206.7 L696.9,205.8 L696.0,205.0 L695.2,204.4 L694.4,203.8 L693.7,203.3 L693.0,202.8 L692.1,202.3 L691.2,201.9 L690.1,201.5 L688.7,201.0 L687.1,200.5 L685.2,200.1 L683.1,199.6 L680.9,199.1 L678.7,198.7 L676.4,198.3 L674.1,197.9 L672.0,197.5 L669.9,197.2 L667.8,196.9 L665.7,196.7 L663.6,196.4 L661.5,196.2 L659.5,196.0 L657.4,195.7 L655.4,195.4 L653.4,195.1 L651.4,194.7 L649.4,194.3 L647.4,193.9 L645.4,193.5 L643.5,193.0 L641.7,192.5 L640.0,192.0 L638.3,191.4 L636.7,190.9 L635.1,190.3 L633.6,189.6 L632.2,188.9 L630.9,188.2 L629.8,187.4 L628.8,186.5 L628.0,185.5 L627.2,184.4 L626.6,183.3 L626.2,182.0 L625.8,180.8 L625.6,179.5 L625.5,178.2 L625.5,177.0 L625.6,175.8 L625.8,174.5 L626.2,173.2 L626.6,172.0 L627.2,170.7 L628.0,169.4 L628.9,168.2 L630.0,167.0 L631.4,165.8 L633.0,164.7 L634.9,163.5 L636.8,162.4 L638.9,161.3 L641.0,160.2 L643.1,159.1 L645.0,158.0 L646.9,157.0 L648.9,156.0 L650.9,155.0 L652.9,154.0 L654.9,153.0 L656.7,152.0 L658.5,151.0 L660.0,150.0 L661.3,149.0 L662.5,147.9 L663.6,146.9 L664.5,145.8 L665.4,144.7 L666.2,143.6 L667.1,142.3 L668.0,141.0 L668.9,139.5 L669.8,137.9 L670.7,136.2 L671.6,134.4 L672.4,132.7 L673.3,131.0 L674.1,129.4 L675.0,128.0 L675.9,126.7 L676.8,125.5 L677.6,124.4 L678.5,123.3 L679.4,122.4 L680.3,121.5 L681.1,120.7 L682.0,120.0 L682.8,119.4 L683.7,118.9 L684.5,118.5 L685.3,118.2 L686.1,118.0 L686.9,117.8 L687.8,117.7 L688.7,117.7 L689.7,117.7 L690.7,117.8 L691.8,117.9 L692.9,118.1 L694.0,118.4 L695.0,118.8 L696.1,119.3 L697.0,120.0 L697.9,120.9 L698.7,121.9 L699.5,123.0 L700.3,124.3 L701.0,125.6 L701.7,127.0 L702.4,128.5 L703.0,130.0 L703.6,131.5 L704.1,133.2 L704.5,134.9 L705.0,136.6 L705.4,138.4 L705.8,140.3 L706.1,142.1 L706.5,144.0 L706.9,145.9 L707.2,148.0 L707.4,150.1 L707.7,152.2 L708.0,154.3 L708.3,156.3 L708.6,158.2 L709.0,160.0 L709.4,161.6 L709.8,163.1 L710.3,164.5 L710.8,165.9 L711.3,167.2 L711.8,168.4 L712.4,169.7 L713.0,171.0 L713.6,172.3 L714.3,173.6 L715.0,174.9 L715.8,176.1 L716.6,177.4 L717.4,178.6 L718.2,179.8 L719.0,181.0 L719.9,182.2 L720.9,183.5 L722.0,184.8 L723.1,186.0 L724.1,187.2 L725.0,188.2 L725.8,189.1 L726.4,189.8" fill="none" stroke="#f0834f" stroke-width="2.4" stroke-linejoin="round" stroke-linecap="round"/>
<circle cx="665" cy="113" r="1" fill="#e4708f"/>
<circle cx="667" cy="121" r="1" fill="#e4708f"/>
<circle cx="661" cy="128" r="1" fill="#e4708f"/>
<circle cx="652" cy="134" r="1" fill="#e4708f"/>
<circle cx="660" cy="136" r="1" fill="#e4708f"/>
<circle cx="649" cy="143" r="1" fill="#e4708f"/>
<circle cx="644" cy="150" r="1" fill="#e4708f"/>
<circle cx="639" cy="155" r="1" fill="#e4708f"/>
<circle cx="673" cy="123" r="1" fill="#e4708f"/>
<circle cx="670" cy="135" r="1" fill="#e4708f"/>
<circle cx="657" cy="126" r="1" fill="#e4708f"/>
<circle cx="647" cy="130" r="1" fill="#e4708f"/>
<circle cx="655" cy="141" r="1" fill="#e4708f"/>
<g transform="translate(677.5,126) rotate(-60)"><rect x="-5.5" y="-6.5" width="11" height="13" rx="2" fill="#a8d27a" stroke="#86b55a" stroke-width="0.7"/><line x1="0" y1="-6.5" x2="0" y2="6.5" stroke="#86b55a" stroke-width="0.6"/></g>
<g transform="translate(662.5,148.5) rotate(-55)"><rect x="-4.0" y="-6.0" width="8" height="12" rx="2" fill="#a6d6cc" stroke="#7fb9ae" stroke-width="0.7"/><line x1="0" y1="-6.0" x2="0" y2="6.0" stroke="#7fb9ae" stroke-width="0.6"/></g>
<g transform="translate(614.5,152.5) rotate(-25)"><rect x="-4.0" y="-6.0" width="8" height="12" rx="2" fill="#a6d6cc" stroke="#7fb9ae" stroke-width="0.7"/><line x1="0" y1="-6.0" x2="0" y2="6.0" stroke="#7fb9ae" stroke-width="0.6"/></g>
<g transform="translate(639.5,164.5) rotate(-30)"><rect x="-4.0" y="-6.5" width="8" height="13" rx="2" fill="#f4b8d0" stroke="#e38bb0" stroke-width="0.7"/><line x1="0" y1="-6.5" x2="0" y2="6.5" stroke="#e38bb0" stroke-width="0.6"/></g>
<circle cx="638.8" cy="163.2" r="13" fill="none" stroke="#8a9cc0" stroke-width="0.8" stroke-dasharray="2.5,1.8"/>
<line x1="626" y1="159.5" x2="465.6" y2="232.4" stroke="#8a9cc0" stroke-width="0.9" stroke-dasharray="3,2"/>
<line x1="640" y1="178.5" x2="568.4" y2="232.4" stroke="#8a9cc0" stroke-width="0.9" stroke-dasharray="3,2"/>
<path d="M464.9,239 L464.59999999999997,251 M467.5,239 L467.8,251 M464.9,266 L464.59999999999997,254.5 M467.5,266 L467.8,254.5" fill="none" stroke="#f3b89c" stroke-width="0.6"/>
<circle cx="466.2" cy="236.3" r="3.2" fill="#e2885c"/>
<circle cx="466.2" cy="269.2" r="3.2" fill="#e2885c"/>
<path d="M472.2,239 L471.9,251 M474.8,239 L475.1,251 M472.2,266 L471.9,254.5 M474.8,266 L475.1,254.5" fill="none" stroke="#f3b89c" stroke-width="0.6"/>
<circle cx="473.5" cy="236.3" r="3.2" fill="#e2885c"/>
<circle cx="473.5" cy="269.2" r="3.2" fill="#e2885c"/>
<path d="M479.4,239 L479.09999999999997,251 M482.0,239 L482.3,251 M479.4,266 L479.09999999999997,254.5 M482.0,266 L482.3,254.5" fill="none" stroke="#f3b89c" stroke-width="0.6"/>
<circle cx="480.7" cy="236.3" r="3.2" fill="#e2885c"/>
<circle cx="480.7" cy="269.2" r="3.2" fill="#e2885c"/>
<path d="M486.7,239 L486.4,251 M489.3,239 L489.6,251 M486.7,266 L486.4,254.5 M489.3,266 L489.6,254.5" fill="none" stroke="#f3b89c" stroke-width="0.6"/>
<circle cx="488.0" cy="236.3" r="3.2" fill="#e2885c"/>
<circle cx="488.0" cy="269.2" r="3.2" fill="#e2885c"/>
<path d="M494.0,239 L493.7,251 M496.6,239 L496.90000000000003,251 M494.0,266 L493.7,254.5 M496.6,266 L496.90000000000003,254.5" fill="none" stroke="#f3b89c" stroke-width="0.6"/>
<circle cx="495.3" cy="236.3" r="3.2" fill="#e2885c"/>
<circle cx="495.3" cy="269.2" r="3.2" fill="#e2885c"/>
<path d="M535.0,239 L534.6999999999999,251 M537.5999999999999,239 L537.9,251 M535.0,266 L534.6999999999999,254.5 M537.5999999999999,266 L537.9,254.5" fill="none" stroke="#f3b89c" stroke-width="0.6"/>
<circle cx="536.3" cy="236.3" r="3.2" fill="#e2885c"/>
<circle cx="536.3" cy="269.2" r="3.2" fill="#e2885c"/>
<path d="M542.3000000000001,239 L542.0,251 M544.9,239 L545.2,251 M542.3000000000001,266 L542.0,254.5 M544.9,266 L545.2,254.5" fill="none" stroke="#f3b89c" stroke-width="0.6"/>
<circle cx="543.6" cy="236.3" r="3.2" fill="#e2885c"/>
<circle cx="543.6" cy="269.2" r="3.2" fill="#e2885c"/>
<path d="M549.4000000000001,239 L549.1,251 M552.0,239 L552.3000000000001,251 M549.4000000000001,266 L549.1,254.5 M552.0,266 L552.3000000000001,254.5" fill="none" stroke="#f3b89c" stroke-width="0.6"/>
<circle cx="550.7" cy="236.3" r="3.2" fill="#e2885c"/>
<circle cx="550.7" cy="269.2" r="3.2" fill="#e2885c"/>
<path d="M556.7,239 L556.4,251 M559.3,239 L559.6,251 M556.7,266 L556.4,254.5 M559.3,266 L559.6,254.5" fill="none" stroke="#f3b89c" stroke-width="0.6"/>
<circle cx="558.0" cy="236.3" r="3.2" fill="#e2885c"/>
<circle cx="558.0" cy="269.2" r="3.2" fill="#e2885c"/>
<path d="M564.1,239 L563.8,251 M566.6999999999999,239 L567.0,251 M564.1,266 L563.8,254.5 M566.6999999999999,266 L567.0,254.5" fill="none" stroke="#f3b89c" stroke-width="0.6"/>
<circle cx="565.4" cy="236.3" r="3.2" fill="#e2885c"/>
<circle cx="565.4" cy="269.2" r="3.2" fill="#e2885c"/>
<path d="M503,229.5 Q508,226.5 512,228.5 Q517,230 522,228.5 Q528,226.5 533,229.5 L534.7,237 Q531,252 533.5,266 L532,275 Q526,278 522,276.5 Q517,275 512,276.5 Q506,278 501.5,275 L500,266 Q503,252 499,237 Z" fill="#fbc8db" stroke="#dd8fb0" stroke-width="0.8"/>
<path d="M511.5,229 Q517,231 523.8,229 L523,246 Q522,254 529,276 L505,276 Q512,254 511,246 Z" fill="#f0a5c3" stroke="#dd8fb0" stroke-width="0.6"/>
<circle cx="517.1" cy="241" r="2.3" fill="#fff"/>
<ellipse cx="517.1" cy="253.1" rx="5.4" ry="5.8" fill="none" stroke="#333" stroke-width="0.8" stroke-dasharray="1.8,1.4"/>
<line x1="523" y1="253.2" x2="585" y2="253.2" stroke="#8a9cc0" stroke-width="0.8" stroke-dasharray="3,1.5"/>
<polygon points="591,253.2 584,249 584,257.4" fill="#8a9cc0"/>
<text x="644.5" y="249.2" font-size="12.8" text-anchor="middle" fill="#111" >Angstrom-scale</text>
<text x="644.5" y="268.8" font-size="12.8" text-anchor="middle" fill="#111" >ionic pathways</text>
<defs>
<linearGradient id="tankg" x1="0" y1="0" x2="0" y2="1"><stop offset="0" stop-color="#b8dbed"/><stop offset="0.45" stop-color="#a9d3e8"/><stop offset="1" stop-color="#9dcce4"/></linearGradient>
<radialGradient id="bys" cx="0.35" cy="0.32" r="0.75"><stop offset="0" stop-color="#fff"/><stop offset="0.2" stop-color="#fffcc0"/><stop offset="0.65" stop-color="#e3d84a"/><stop offset="1" stop-color="#e3d84a"/></radialGradient>
<radialGradient id="bmo" cx="0.35" cy="0.32" r="0.75"><stop offset="0" stop-color="#fff"/><stop offset="0.2" stop-color="#9cc3f5"/><stop offset="0.65" stop-color="#3572cf"/><stop offset="1" stop-color="#3572cf"/></radialGradient>
<radialGradient id="bk" cx="0.35" cy="0.32" r="0.75"><stop offset="0" stop-color="#fff"/><stop offset="0.2" stop-color="#ffd080"/><stop offset="0.65" stop-color="#e98a1a"/><stop offset="1" stop-color="#e98a1a"/></radialGradient>
<radialGradient id="bcl" cx="0.35" cy="0.32" r="0.75"><stop offset="0" stop-color="#fff"/><stop offset="0.2" stop-color="#a8f0a0"/><stop offset="0.65" stop-color="#35c040"/><stop offset="1" stop-color="#35c040"/></radialGradient>
<radialGradient id="btan" cx="0.35" cy="0.32" r="0.75"><stop offset="0" stop-color="#fff"/><stop offset="0.2" stop-color="#f0e0b0"/><stop offset="0.65" stop-color="#c8b070"/><stop offset="1" stop-color="#c8b070"/></radialGradient>
<filter id="blur1" x="-10%" y="-10%" width="120%" height="120%"><feGaussianBlur stdDeviation="0.8"/></filter>
</defs>
<rect x="71.4" y="299.4" width="81.3" height="41.1" fill="none" stroke="#888" stroke-width="0.9" stroke-dasharray="3,1.5,1,1.5"/>
<circle cx="80" cy="310.8" r="3.6" fill="url(#bk)"/>
<text x="90.7" y="315.3" font-size="12.8" text-anchor="start" fill="#111" >K<tspan font-size="8" dy="-4">+</tspan></text>
<circle cx="119.3" cy="310.8" r="3.6" fill="url(#bcl)"/>
<text x="129.3" y="315.3" font-size="12.8" text-anchor="start" fill="#111" >Cl<tspan font-size="8" dy="-4" fill="#999">−</tspan></text>
<circle cx="80" cy="331.4" r="3.6" fill="url(#bmo)"/>
<text x="88.3" y="335.9" font-size="12.8" text-anchor="start" fill="#111" >Mo</text>
<circle cx="119.3" cy="331.4" r="3.6" fill="url(#bys)"/>
<text x="130.6" y="335.9" font-size="12.8" text-anchor="start" fill="#111" >S</text>
<filter id="blur4" x="-20%" y="-50%" width="140%" height="200%"><feGaussianBlur stdDeviation="2.2"/></filter>
<clipPath id="tankclip"><path d="M66.8,375.9 L87,366 L150,357.4 L193.3,350.7 L224.6,363.3 L253,378.5 L252.2,420 L250.7,439.7 L210.7,451.1 L190,456.8 L117.5,478.8 L105,466.3 L92.5,455 L73.8,437.5 L71.3,433.8 L69.4,400 Z"/></clipPath>
<path d="M73.8,440 L92.5,457.5 L105,469 L117.5,481.5 L190,459.5 L210.7,453.8 L250.7,442.4" fill="none" stroke="#c3cbd0" stroke-width="2.2" filter="url(#blur1)"/>
<g filter="url(#blur1)">
<path d="M66.8,375.9 L87,366 L150,357.4 L193.3,350.7 L224.6,363.3 L253,378.5 L252.2,420 L250.7,439.7 L210.7,451.1 L190,456.8 L117.5,478.8 L105,466.3 L92.5,455 L73.8,437.5 L71.3,433.8 L69.4,400 Z" fill="url(#tankg)"/>
</g>
<g clip-path="url(#tankclip)">
<path d="M60,370 L114,372 L114,480 L60,440 Z" fill="#b9dcee" opacity="0.45"/>
<path d="M114,408 L256,402 L256,413 L114,421 Z" fill="#ffffff" opacity="0.55" filter="url(#blur4)"/>
<path d="M73.8,437.5 L114,428 L256,419" fill="none" stroke="#e2f1f8" stroke-width="1.1" opacity="0.7"/>
<path d="M114,376 L114,478" fill="none" stroke="#d8edf7" stroke-width="1" opacity="0.5"/>
<path d="M221,420 L251,440" fill="none" stroke="#d8edf7" stroke-width="1.2" opacity="0.6"/>
<path d="M114,430 L256,420 L256,460 L114,480 Z" fill="#8cc2de" opacity="0.35"/>
</g>
<circle cx="102" cy="395.5" r="2.4" fill="url(#bcl)" opacity="0.85"/>
<circle cx="96" cy="411" r="2.4" fill="url(#btan)" opacity="0.85"/>
<circle cx="125" cy="425" r="2.4" fill="url(#btan)" opacity="0.85"/>
<circle cx="111" cy="441" r="2.4" fill="url(#bcl)" opacity="0.85"/>
<circle cx="201" cy="385" r="2.4" fill="url(#bcl)" opacity="0.85"/>
<circle cx="213" cy="410" r="2.4" fill="url(#btan)" opacity="0.85"/>
<circle cx="199" cy="414" r="2.4" fill="url(#bcl)" opacity="0.85"/>
<circle cx="220" cy="419" r="2.4" fill="url(#bcl)" opacity="0.85"/>
<circle cx="207" cy="432" r="2.4" fill="url(#btan)" opacity="0.85"/>
<circle cx="144.8" cy="372.8" r="2.2" fill="url(#bmo)"/>
<circle cx="144.8" cy="381.4" r="2.2" fill="url(#bmo)"/>
<circle cx="148.6" cy="380.1" r="2.2" fill="url(#bmo)"/>
<circle cx="144.8" cy="390.0" r="2.2" fill="url(#bmo)"/>
<circle cx="148.6" cy="388.6" r="2.2" fill="url(#bmo)"/>
<circle cx="152.3" cy="387.3" r="2.2" fill="url(#bmo)"/>
<circle cx="156.1" cy="385.9" r="2.2" fill="url(#bmo)"/>
<circle cx="144.8" cy="398.6" r="2.2" fill="url(#bmo)"/>
<circle cx="148.6" cy="397.2" r="2.2" fill="url(#bmo)"/>
<circle cx="152.3" cy="395.9" r="2.2" fill="url(#bmo)"/>
<circle cx="156.1" cy="394.6" r="2.2" fill="url(#bmo)"/>
<circle cx="159.8" cy="393.2" r="2.2" fill="url(#bmo)"/>
<circle cx="163.6" cy="391.9" r="2.2" fill="url(#bmo)"/>
<circle cx="148.6" cy="405.8" r="2.2" fill="url(#bmo)"/>
<circle cx="152.3" cy="404.5" r="2.2" fill="url(#bmo)"/>
<circle cx="156.1" cy="403.1" r="2.2" fill="url(#bmo)"/>
<circle cx="159.8" cy="401.8" r="2.2" fill="url(#bmo)"/>
<circle cx="163.6" cy="400.4" r="2.2" fill="url(#bmo)"/>
<circle cx="167.3" cy="399.1" r="2.2" fill="url(#bmo)"/>
<circle cx="171.1" cy="397.8" r="2.2" fill="url(#bmo)"/>
<circle cx="148.6" cy="414.4" r="2.2" fill="url(#bmo)"/>
<circle cx="152.3" cy="413.1" r="2.2" fill="url(#bmo)"/>
<circle cx="156.1" cy="411.8" r="2.2" fill="url(#bmo)"/>
<circle cx="159.8" cy="410.4" r="2.2" fill="url(#bmo)"/>
<circle cx="163.6" cy="409.1" r="2.2" fill="url(#bmo)"/>
<circle cx="167.3" cy="407.7" r="2.2" fill="url(#bmo)"/>
<circle cx="171.1" cy="406.4" r="2.2" fill="url(#bmo)"/>
<circle cx="174.8" cy="405.0" r="2.2" fill="url(#bmo)"/>
<circle cx="178.6" cy="403.7" r="2.2" fill="url(#bmo)"/>
<circle cx="148.6" cy="423.1" r="2.2" fill="url(#bmo)"/>
<circle cx="152.3" cy="421.7" r="2.2" fill="url(#bmo)"/>
<circle cx="156.1" cy="420.3" r="2.2" fill="url(#bmo)"/>
<circle cx="159.8" cy="419.0" r="2.2" fill="url(#bmo)"/>
<circle cx="163.6" cy="417.7" r="2.2" fill="url(#bmo)"/>
<circle cx="167.3" cy="416.3" r="2.2" fill="url(#bmo)"/>
<circle cx="171.1" cy="414.9" r="2.2" fill="url(#bmo)"/>
<circle cx="174.8" cy="413.6" r="2.2" fill="url(#bmo)"/>
<circle cx="178.6" cy="412.3" r="2.2" fill="url(#bmo)"/>
<circle cx="182.3" cy="410.9" r="2.2" fill="url(#bmo)"/>
<circle cx="186.1" cy="409.6" r="2.2" fill="url(#bmo)"/>
<circle cx="156.1" cy="428.9" r="2.2" fill="url(#bmo)"/>
<circle cx="159.8" cy="427.6" r="2.2" fill="url(#bmo)"/>
<circle cx="163.6" cy="426.2" r="2.2" fill="url(#bmo)"/>
<circle cx="167.3" cy="424.9" r="2.2" fill="url(#bmo)"/>
<circle cx="171.1" cy="423.6" r="2.2" fill="url(#bmo)"/>
<circle cx="174.8" cy="422.2" r="2.2" fill="url(#bmo)"/>
<circle cx="178.6" cy="420.9" r="2.2" fill="url(#bmo)"/>
<circle cx="182.3" cy="419.5" r="2.2" fill="url(#bmo)"/>
<circle cx="186.1" cy="418.1" r="2.2" fill="url(#bmo)"/>
<circle cx="189.8" cy="416.8" r="2.2" fill="url(#bmo)"/>
<circle cx="163.6" cy="434.9" r="2.2" fill="url(#bmo)"/>
<circle cx="167.3" cy="433.5" r="2.2" fill="url(#bmo)"/>
<circle cx="171.1" cy="432.2" r="2.2" fill="url(#bmo)"/>
<circle cx="174.8" cy="430.8" r="2.2" fill="url(#bmo)"/>
<circle cx="178.6" cy="429.5" r="2.2" fill="url(#bmo)"/>
<circle cx="182.3" cy="428.1" r="2.2" fill="url(#bmo)"/>
<circle cx="186.1" cy="426.8" r="2.2" fill="url(#bmo)"/>
<circle cx="189.8" cy="425.4" r="2.2" fill="url(#bmo)"/>
<circle cx="171.1" cy="440.8" r="2.2" fill="url(#bmo)"/>
<circle cx="174.8" cy="439.4" r="2.2" fill="url(#bmo)"/>
<circle cx="178.6" cy="438.1" r="2.2" fill="url(#bmo)"/>
<circle cx="182.3" cy="436.7" r="2.2" fill="url(#bmo)"/>
<circle cx="186.1" cy="435.3" r="2.2" fill="url(#bmo)"/>
<circle cx="189.8" cy="434.0" r="2.2" fill="url(#bmo)"/>
<circle cx="178.6" cy="446.7" r="2.2" fill="url(#bmo)"/>
<circle cx="182.3" cy="445.3" r="2.2" fill="url(#bmo)"/>
<circle cx="186.1" cy="443.9" r="2.2" fill="url(#bmo)"/>
<circle cx="189.8" cy="442.6" r="2.2" fill="url(#bmo)"/>
<circle cx="143.9" cy="370.5" r="2.1" fill="url(#bys)"/>
<circle cx="143.9" cy="379.1" r="2.1" fill="url(#bys)"/>
<circle cx="147.7" cy="377.8" r="2.1" fill="url(#bys)"/>
<circle cx="143.9" cy="387.7" r="2.1" fill="url(#bys)"/>
<circle cx="147.7" cy="386.3" r="2.1" fill="url(#bys)"/>
<circle cx="151.4" cy="385.0" r="2.1" fill="url(#bys)"/>
<circle cx="155.2" cy="383.6" r="2.1" fill="url(#bys)"/>
<circle cx="143.9" cy="396.3" r="2.1" fill="url(#bys)"/>
<circle cx="147.7" cy="394.9" r="2.1" fill="url(#bys)"/>
<circle cx="151.4" cy="393.6" r="2.1" fill="url(#bys)"/>
<circle cx="155.2" cy="392.2" r="2.1" fill="url(#bys)"/>
<circle cx="158.9" cy="390.9" r="2.1" fill="url(#bys)"/>
<circle cx="162.7" cy="389.6" r="2.1" fill="url(#bys)"/>
<circle cx="147.7" cy="403.5" r="2.1" fill="url(#bys)"/>
<circle cx="151.4" cy="402.2" r="2.1" fill="url(#bys)"/>
<circle cx="155.2" cy="400.8" r="2.1" fill="url(#bys)"/>
<circle cx="158.9" cy="399.5" r="2.1" fill="url(#bys)"/>
<circle cx="162.7" cy="398.1" r="2.1" fill="url(#bys)"/>
<circle cx="166.4" cy="396.8" r="2.1" fill="url(#bys)"/>
<circle cx="170.2" cy="395.4" r="2.1" fill="url(#bys)"/>
<circle cx="147.7" cy="412.1" r="2.1" fill="url(#bys)"/>
<circle cx="151.4" cy="410.8" r="2.1" fill="url(#bys)"/>
<circle cx="155.2" cy="409.4" r="2.1" fill="url(#bys)"/>
<circle cx="158.9" cy="408.1" r="2.1" fill="url(#bys)"/>
<circle cx="162.7" cy="406.8" r="2.1" fill="url(#bys)"/>
<circle cx="166.4" cy="405.4" r="2.1" fill="url(#bys)"/>
<circle cx="170.2" cy="404.1" r="2.1" fill="url(#bys)"/>
<circle cx="173.9" cy="402.7" r="2.1" fill="url(#bys)"/>
<circle cx="177.7" cy="401.4" r="2.1" fill="url(#bys)"/>
<circle cx="147.7" cy="420.8" r="2.1" fill="url(#bys)"/>
<circle cx="151.4" cy="419.4" r="2.1" fill="url(#bys)"/>
<circle cx="155.2" cy="418.0" r="2.1" fill="url(#bys)"/>
<circle cx="158.9" cy="416.7" r="2.1" fill="url(#bys)"/>
<circle cx="162.7" cy="415.4" r="2.1" fill="url(#bys)"/>
<circle cx="166.4" cy="414.0" r="2.1" fill="url(#bys)"/>
<circle cx="170.2" cy="412.6" r="2.1" fill="url(#bys)"/>
<circle cx="173.9" cy="411.3" r="2.1" fill="url(#bys)"/>
<circle cx="177.7" cy="410.0" r="2.1" fill="url(#bys)"/>
<circle cx="181.4" cy="408.6" r="2.1" fill="url(#bys)"/>
<circle cx="185.2" cy="407.2" r="2.1" fill="url(#bys)"/>
<circle cx="155.2" cy="426.6" r="2.1" fill="url(#bys)"/>
<circle cx="158.9" cy="425.3" r="2.1" fill="url(#bys)"/>
<circle cx="162.7" cy="423.9" r="2.1" fill="url(#bys)"/>
<circle cx="166.4" cy="422.6" r="2.1" fill="url(#bys)"/>
<circle cx="170.2" cy="421.2" r="2.1" fill="url(#bys)"/>
<circle cx="173.9" cy="419.9" r="2.1" fill="url(#bys)"/>
<circle cx="177.7" cy="418.6" r="2.1" fill="url(#bys)"/>
<circle cx="181.4" cy="417.2" r="2.1" fill="url(#bys)"/>
<circle cx="185.2" cy="415.8" r="2.1" fill="url(#bys)"/>
<circle cx="188.9" cy="414.5" r="2.1" fill="url(#bys)"/>
<circle cx="162.7" cy="432.6" r="2.1" fill="url(#bys)"/>
<circle cx="166.4" cy="431.2" r="2.1" fill="url(#bys)"/>
<circle cx="170.2" cy="429.9" r="2.1" fill="url(#bys)"/>
<circle cx="173.9" cy="428.5" r="2.1" fill="url(#bys)"/>
<circle cx="177.7" cy="427.2" r="2.1" fill="url(#bys)"/>
<circle cx="181.4" cy="425.8" r="2.1" fill="url(#bys)"/>
<circle cx="185.2" cy="424.4" r="2.1" fill="url(#bys)"/>
<circle cx="188.9" cy="423.1" r="2.1" fill="url(#bys)"/>
<circle cx="170.2" cy="438.4" r="2.1" fill="url(#bys)"/>
<circle cx="173.9" cy="437.1" r="2.1" fill="url(#bys)"/>
<circle cx="177.7" cy="435.8" r="2.1" fill="url(#bys)"/>
<circle cx="181.4" cy="434.4" r="2.1" fill="url(#bys)"/>
<circle cx="185.2" cy="433.0" r="2.1" fill="url(#bys)"/>
<circle cx="188.9" cy="431.7" r="2.1" fill="url(#bys)"/>
<circle cx="177.7" cy="444.4" r="2.1" fill="url(#bys)"/>
<circle cx="181.4" cy="443.0" r="2.1" fill="url(#bys)"/>
<circle cx="185.2" cy="441.6" r="2.1" fill="url(#bys)"/>
<circle cx="188.9" cy="440.3" r="2.1" fill="url(#bys)"/>
<circle cx="153.4" cy="374.9" r="2.0" fill="url(#bys)"/>
<circle cx="151.4" cy="376.9" r="2.7" fill="url(#bmo)"/>
<circle cx="160.9" cy="380.8" r="2.0" fill="url(#bys)"/>
<circle cx="158.9" cy="382.8" r="2.7" fill="url(#bmo)"/>
<circle cx="168.4" cy="386.7" r="2.0" fill="url(#bys)"/>
<circle cx="166.4" cy="388.7" r="2.7" fill="url(#bmo)"/>
<circle cx="175.9" cy="392.6" r="2.0" fill="url(#bys)"/>
<circle cx="173.9" cy="394.6" r="2.7" fill="url(#bmo)"/>
<circle cx="183.4" cy="398.5" r="2.0" fill="url(#bys)"/>
<circle cx="181.4" cy="400.5" r="2.7" fill="url(#bmo)"/>
<circle cx="190.9" cy="404.4" r="2.0" fill="url(#bys)"/>
<circle cx="188.9" cy="406.4" r="2.7" fill="url(#bmo)"/>
<circle cx="154.5" cy="405" r="2.6" fill="url(#bk)"/>
<circle cx="160" cy="416" r="2.6" fill="url(#bcl)"/>
<circle cx="172.5" cy="407" r="2.6" fill="url(#btan)"/>
<path d="M108.3,400 L108.3,360 Q108.3,357.3 111,357 L159.9,350.4" fill="none" stroke="#5d7585" stroke-width="2.3"/>
<path d="M165.3,348.8 L209,341.6 Q211.6,341.3 211.6,344 L211.6,378" fill="none" stroke="#5d7585" stroke-width="2.3"/>
<line x1="159.9" y1="346.2" x2="159.9" y2="354.5" stroke="#5d7585" stroke-width="2"/>
<line x1="165.3" y1="342" x2="165.3" y2="355" stroke="#5d7585" stroke-width="2"/>
<linearGradient id="elec" x1="0" y1="0" x2="1" y2="0"><stop offset="0" stop-color="#4f6676"/><stop offset="0.5" stop-color="#7b93a3"/><stop offset="1" stop-color="#4a606f"/></linearGradient>
<rect x="106" y="399.5" width="7.8" height="17.5" rx="1" fill="url(#elec)"/>
<rect x="207.3" y="377.5" width="6.6" height="15.5" rx="1" fill="url(#elec)"/>
<text x="219.5" y="405.0" font-size="12.8" text-anchor="middle" fill="#111" >Ag/AgCl</text>
<line x1="149" y1="422.6" x2="80.5" y2="513.5" stroke="#666" stroke-width="0.9" stroke-dasharray="3,2.2"/>
<line x1="185.8" y1="430.8" x2="240.8" y2="513.5" stroke="#666" stroke-width="0.9" stroke-dasharray="3,2.2"/>
<defs>
<clipPath id="temclip"><rect x="80.2" y="513.5" width="160.8" height="156.7"/></clipPath>
<filter id="blur2"><feGaussianBlur stdDeviation="2.0"/></filter>
<filter id="blurdot"><feGaussianBlur stdDeviation="0.55"/></filter>
<filter id="blur3"><feGaussianBlur stdDeviation="9"/></filter>
</defs>
<g clip-path="url(#temclip)">
<rect x="80.2" y="513.5" width="160.8" height="156.7" fill="#737373"/>
<g filter="url(#blur3)">
<ellipse cx="92" cy="522" rx="22" ry="16" fill="#a2a2a2"/>
<ellipse cx="225" cy="590" rx="20" ry="26" fill="#8e8e8e"/>
<ellipse cx="210" cy="655" rx="35" ry="16" fill="#969696"/>
<ellipse cx="110" cy="600" rx="28" ry="22" fill="#5e5e5e"/>
<ellipse cx="190" cy="622" rx="40" ry="8" fill="#5c5c5c"/>
<ellipse cx="150" cy="535" rx="30" ry="12" fill="#666"/>
<ellipse cx="90" cy="650" rx="14" ry="14" fill="#7e7e7e"/>
<ellipse cx="215" cy="530" rx="20" ry="12" fill="#7a7a7a"/>
</g>
<g filter="url(#blurdot)">
<circle cx="77.7" cy="663.5" r="1.12" fill="#f4f4f4" opacity="0.72"/>
<circle cx="79.2" cy="668.6" r="1.18" fill="#f4f4f4" opacity="0.75"/>
<circle cx="78.5" cy="649.2" r="1.28" fill="#f4f4f4" opacity="0.48"/>
<circle cx="79.9" cy="654.4" r="1.03" fill="#f4f4f4" opacity="0.87"/>
<circle cx="81.4" cy="659.6" r="1.13" fill="#f4f4f4" opacity="0.57"/>
<circle cx="82.9" cy="664.8" r="1.44" fill="#f4f4f4" opacity="0.69"/>
<circle cx="84.4" cy="670.0" r="1.37" fill="#f4f4f4" opacity="0.69"/>
<circle cx="77.7" cy="629.7" r="1.29" fill="#f4f4f4" opacity="0.53"/>
<circle cx="79.2" cy="634.9" r="1.29" fill="#f4f4f4" opacity="0.88"/>
<circle cx="80.7" cy="640.1" r="1.24" fill="#f4f4f4" opacity="0.82"/>
<circle cx="82.2" cy="645.3" r="1.30" fill="#f4f4f4" opacity="0.48"/>
<circle cx="83.7" cy="650.5" r="1.34" fill="#f4f4f4" opacity="0.75"/>
<circle cx="85.2" cy="655.7" r="1.15" fill="#f4f4f4" opacity="0.47"/>
<circle cx="86.7" cy="660.9" r="1.38" fill="#f4f4f4" opacity="0.69"/>
<circle cx="88.2" cy="666.1" r="1.32" fill="#f4f4f4" opacity="0.89"/>
<circle cx="89.6" cy="671.3" r="1.32" fill="#f4f4f4" opacity="0.91"/>
<circle cx="78.5" cy="615.5" r="1.19" fill="#f4f4f4" opacity="0.85"/>
<circle cx="80.0" cy="620.7" r="1.21" fill="#f4f4f4" opacity="0.92"/>
<circle cx="81.5" cy="625.9" r="1.39" fill="#f4f4f4" opacity="0.50"/>
<circle cx="83.0" cy="631.0" r="1.08" fill="#f4f4f4" opacity="0.56"/>
<circle cx="84.5" cy="636.2" r="1.43" fill="#f4f4f4" opacity="0.67"/>
<circle cx="86.0" cy="641.4" r="1.28" fill="#f4f4f4" opacity="0.60"/>
<circle cx="87.4" cy="646.6" r="1.23" fill="#f4f4f4" opacity="0.64"/>
<circle cx="88.9" cy="651.8" r="1.17" fill="#f4f4f4" opacity="0.74"/>
<circle cx="90.4" cy="657.0" r="1.27" fill="#f4f4f4" opacity="0.90"/>
<circle cx="91.9" cy="662.2" r="1.31" fill="#f4f4f4" opacity="0.91"/>
<circle cx="93.4" cy="667.4" r="1.38" fill="#f4f4f4" opacity="0.95"/>
<circle cx="94.9" cy="672.6" r="1.30" fill="#f4f4f4" opacity="0.53"/>
<circle cx="77.8" cy="596.0" r="1.38" fill="#f4f4f4" opacity="0.93"/>
<circle cx="79.3" cy="601.2" r="1.40" fill="#f4f4f4" opacity="0.73"/>
<circle cx="80.8" cy="606.4" r="1.32" fill="#f4f4f4" opacity="0.56"/>
<circle cx="82.3" cy="611.6" r="1.37" fill="#f4f4f4" opacity="0.74"/>
<circle cx="83.8" cy="616.8" r="1.14" fill="#f4f4f4" opacity="0.48"/>
<circle cx="85.2" cy="622.0" r="1.38" fill="#f4f4f4" opacity="0.94"/>
<circle cx="86.7" cy="627.2" r="1.06" fill="#f4f4f4" opacity="0.85"/>
<circle cx="88.2" cy="632.3" r="1.19" fill="#f4f4f4" opacity="0.53"/>
<circle cx="89.7" cy="637.5" r="1.14" fill="#f4f4f4" opacity="0.83"/>
<circle cx="91.2" cy="642.7" r="1.39" fill="#f4f4f4" opacity="0.47"/>
<circle cx="92.7" cy="647.9" r="1.28" fill="#f4f4f4" opacity="0.47"/>
<circle cx="94.2" cy="653.1" r="1.32" fill="#f4f4f4" opacity="0.62"/>
<circle cx="95.7" cy="658.3" r="1.39" fill="#f4f4f4" opacity="0.94"/>
<circle cx="97.2" cy="663.5" r="1.23" fill="#f4f4f4" opacity="0.95"/>
<circle cx="98.6" cy="668.7" r="1.15" fill="#f4f4f4" opacity="0.49"/>
<circle cx="78.6" cy="581.7" r="1.27" fill="#f4f4f4" opacity="0.47"/>
<circle cx="80.1" cy="586.9" r="1.10" fill="#f4f4f4" opacity="0.65"/>
<circle cx="81.6" cy="592.1" r="1.28" fill="#f4f4f4" opacity="0.53"/>
<circle cx="83.0" cy="597.3" r="1.04" fill="#f4f4f4" opacity="0.88"/>
<circle cx="84.5" cy="602.5" r="1.15" fill="#f4f4f4" opacity="0.93"/>
<circle cx="86.0" cy="607.7" r="1.40" fill="#f4f4f4" opacity="0.64"/>
<circle cx="87.5" cy="612.9" r="1.21" fill="#f4f4f4" opacity="0.71"/>
<circle cx="89.0" cy="618.1" r="1.29" fill="#f4f4f4" opacity="0.75"/>
<circle cx="90.5" cy="623.3" r="1.25" fill="#f4f4f4" opacity="0.76"/>
<circle cx="92.0" cy="628.5" r="1.42" fill="#f4f4f4" opacity="0.70"/>
<circle cx="93.5" cy="633.7" r="1.20" fill="#f4f4f4" opacity="0.81"/>
<circle cx="94.9" cy="638.8" r="1.12" fill="#f4f4f4" opacity="0.60"/>
<circle cx="96.4" cy="644.0" r="1.43" fill="#f4f4f4" opacity="0.71"/>
<circle cx="97.9" cy="649.2" r="1.25" fill="#f4f4f4" opacity="0.46"/>
<circle cx="99.4" cy="654.4" r="1.19" fill="#f4f4f4" opacity="0.74"/>
<circle cx="100.9" cy="659.6" r="1.03" fill="#f4f4f4" opacity="0.76"/>
<circle cx="102.4" cy="664.8" r="1.29" fill="#f4f4f4" opacity="0.48"/>
<circle cx="103.9" cy="670.0" r="1.28" fill="#f4f4f4" opacity="0.68"/>
<circle cx="77.9" cy="562.3" r="1.31" fill="#f4f4f4" opacity="0.63"/>
<circle cx="79.3" cy="567.5" r="1.32" fill="#f4f4f4" opacity="0.82"/>
<circle cx="80.8" cy="572.7" r="1.03" fill="#f4f4f4" opacity="0.48"/>
<circle cx="82.3" cy="577.9" r="1.30" fill="#f4f4f4" opacity="0.93"/>
<circle cx="83.8" cy="583.1" r="1.13" fill="#f4f4f4" opacity="0.68"/>
<circle cx="85.3" cy="588.2" r="1.27" fill="#f4f4f4" opacity="0.61"/>
<circle cx="86.8" cy="593.4" r="1.17" fill="#f4f4f4" opacity="0.61"/>
<circle cx="88.3" cy="598.6" r="1.18" fill="#f4f4f4" opacity="0.75"/>
<circle cx="89.8" cy="603.8" r="1.15" fill="#f4f4f4" opacity="0.64"/>
<circle cx="91.3" cy="609.0" r="1.34" fill="#f4f4f4" opacity="0.46"/>
<circle cx="92.7" cy="614.2" r="1.26" fill="#f4f4f4" opacity="0.82"/>
<circle cx="94.2" cy="619.4" r="1.15" fill="#f4f4f4" opacity="0.56"/>
<circle cx="95.7" cy="624.6" r="1.36" fill="#f4f4f4" opacity="0.57"/>
<circle cx="97.2" cy="629.8" r="1.10" fill="#f4f4f4" opacity="0.67"/>
<circle cx="98.7" cy="635.0" r="1.31" fill="#f4f4f4" opacity="0.50"/>
<circle cx="100.2" cy="640.2" r="1.16" fill="#f4f4f4" opacity="0.62"/>
<circle cx="101.7" cy="645.3" r="1.37" fill="#f4f4f4" opacity="0.67"/>
<circle cx="103.2" cy="650.5" r="1.38" fill="#f4f4f4" opacity="0.53"/>
<circle cx="104.7" cy="655.7" r="1.16" fill="#f4f4f4" opacity="0.78"/>
<circle cx="106.1" cy="660.9" r="1.39" fill="#f4f4f4" opacity="0.68"/>
<circle cx="107.6" cy="666.1" r="1.11" fill="#f4f4f4" opacity="0.51"/>
<circle cx="109.1" cy="671.3" r="1.24" fill="#f4f4f4" opacity="0.55"/>
<circle cx="78.6" cy="548.0" r="1.36" fill="#f4f4f4" opacity="0.87"/>
<circle cx="80.1" cy="553.2" r="1.10" fill="#f4f4f4" opacity="0.59"/>
<circle cx="81.6" cy="558.4" r="1.36" fill="#f4f4f4" opacity="0.77"/>
<circle cx="83.1" cy="563.6" r="1.36" fill="#f4f4f4" opacity="0.62"/>
<circle cx="84.6" cy="568.8" r="1.07" fill="#f4f4f4" opacity="0.60"/>
<circle cx="86.1" cy="574.0" r="1.35" fill="#f4f4f4" opacity="0.59"/>
<circle cx="87.6" cy="579.2" r="1.17" fill="#f4f4f4" opacity="0.66"/>
<circle cx="89.1" cy="584.4" r="1.20" fill="#f4f4f4" opacity="0.65"/>
<circle cx="90.5" cy="589.6" r="1.41" fill="#f4f4f4" opacity="0.53"/>
<circle cx="92.0" cy="594.7" r="1.02" fill="#f4f4f4" opacity="0.92"/>
<circle cx="93.5" cy="599.9" r="1.39" fill="#f4f4f4" opacity="0.94"/>
<circle cx="95.0" cy="605.1" r="1.20" fill="#f4f4f4" opacity="0.93"/>
<circle cx="96.5" cy="610.3" r="1.41" fill="#f4f4f4" opacity="0.56"/>
<circle cx="98.0" cy="615.5" r="1.33" fill="#f4f4f4" opacity="0.87"/>
<circle cx="99.5" cy="620.7" r="1.30" fill="#f4f4f4" opacity="0.71"/>
<circle cx="101.0" cy="625.9" r="1.14" fill="#f4f4f4" opacity="0.62"/>
<circle cx="102.5" cy="631.1" r="1.12" fill="#f4f4f4" opacity="0.48"/>
<circle cx="103.9" cy="636.3" r="1.27" fill="#f4f4f4" opacity="0.59"/>
<circle cx="105.4" cy="641.5" r="1.36" fill="#f4f4f4" opacity="0.47"/>
<circle cx="106.9" cy="646.6" r="1.40" fill="#f4f4f4" opacity="0.80"/>
<circle cx="108.4" cy="651.8" r="1.41" fill="#f4f4f4" opacity="0.90"/>
<circle cx="109.9" cy="657.0" r="1.40" fill="#f4f4f4" opacity="0.74"/>
<circle cx="111.4" cy="662.2" r="1.03" fill="#f4f4f4" opacity="0.82"/>
<circle cx="112.9" cy="667.4" r="1.09" fill="#f4f4f4" opacity="0.60"/>
<circle cx="114.4" cy="672.6" r="1.30" fill="#f4f4f4" opacity="0.71"/>
<circle cx="77.9" cy="528.6" r="1.19" fill="#f4f4f4" opacity="0.92"/>
<circle cx="79.4" cy="533.8" r="1.28" fill="#f4f4f4" opacity="0.62"/>
<circle cx="80.9" cy="538.9" r="1.13" fill="#f4f4f4" opacity="0.88"/>
<circle cx="82.4" cy="544.1" r="1.22" fill="#f4f4f4" opacity="0.84"/>
<circle cx="83.9" cy="549.3" r="1.17" fill="#f4f4f4" opacity="0.55"/>
<circle cx="85.4" cy="554.5" r="1.24" fill="#f4f4f4" opacity="0.86"/>
<circle cx="86.9" cy="559.7" r="1.09" fill="#f4f4f4" opacity="0.85"/>
<circle cx="88.3" cy="564.9" r="1.41" fill="#f4f4f4" opacity="0.85"/>
<circle cx="89.8" cy="570.1" r="1.37" fill="#f4f4f4" opacity="0.45"/>
<circle cx="91.3" cy="575.3" r="1.28" fill="#f4f4f4" opacity="0.88"/>
<circle cx="92.8" cy="580.5" r="1.04" fill="#f4f4f4" opacity="0.59"/>
<circle cx="94.3" cy="585.7" r="1.13" fill="#f4f4f4" opacity="0.71"/>
<circle cx="95.8" cy="590.9" r="1.20" fill="#f4f4f4" opacity="0.69"/>
<circle cx="97.3" cy="596.0" r="1.35" fill="#f4f4f4" opacity="0.45"/>
<circle cx="98.8" cy="601.2" r="1.04" fill="#f4f4f4" opacity="0.51"/>
<circle cx="100.2" cy="606.4" r="1.07" fill="#f4f4f4" opacity="0.48"/>
<circle cx="101.7" cy="611.6" r="1.43" fill="#f4f4f4" opacity="0.88"/>
<circle cx="103.2" cy="616.8" r="1.06" fill="#f4f4f4" opacity="0.70"/>
<circle cx="104.7" cy="622.0" r="1.15" fill="#f4f4f4" opacity="0.61"/>
<circle cx="106.2" cy="627.2" r="1.17" fill="#f4f4f4" opacity="0.77"/>
<circle cx="107.7" cy="632.4" r="1.27" fill="#f4f4f4" opacity="0.63"/>
<circle cx="109.2" cy="637.6" r="1.10" fill="#f4f4f4" opacity="0.61"/>
<circle cx="110.7" cy="642.8" r="1.07" fill="#f4f4f4" opacity="0.73"/>
<circle cx="112.2" cy="648.0" r="1.32" fill="#f4f4f4" opacity="0.64"/>
<circle cx="113.6" cy="653.1" r="1.05" fill="#f4f4f4" opacity="0.54"/>
<circle cx="115.1" cy="658.3" r="1.18" fill="#f4f4f4" opacity="0.75"/>
<circle cx="116.6" cy="663.5" r="1.35" fill="#f4f4f4" opacity="0.64"/>
<circle cx="118.1" cy="668.7" r="1.36" fill="#f4f4f4" opacity="0.76"/>
<circle cx="78.7" cy="514.3" r="1.20" fill="#f4f4f4" opacity="0.64"/>
<circle cx="80.2" cy="519.5" r="1.23" fill="#f4f4f4" opacity="0.80"/>
<circle cx="81.7" cy="524.7" r="1.20" fill="#f4f4f4" opacity="0.80"/>
<circle cx="83.2" cy="529.9" r="1.21" fill="#f4f4f4" opacity="0.57"/>
<circle cx="84.6" cy="535.1" r="1.25" fill="#f4f4f4" opacity="0.80"/>
<circle cx="86.1" cy="540.3" r="1.05" fill="#f4f4f4" opacity="0.66"/>
<circle cx="87.6" cy="545.4" r="1.20" fill="#f4f4f4" opacity="0.89"/>
<circle cx="89.1" cy="550.6" r="1.41" fill="#f4f4f4" opacity="0.64"/>
<circle cx="90.6" cy="555.8" r="1.40" fill="#f4f4f4" opacity="0.85"/>
<circle cx="92.1" cy="561.0" r="1.13" fill="#f4f4f4" opacity="0.68"/>
<circle cx="93.6" cy="566.2" r="1.07" fill="#f4f4f4" opacity="0.86"/>
<circle cx="95.1" cy="571.4" r="1.30" fill="#f4f4f4" opacity="0.89"/>
<circle cx="96.6" cy="576.6" r="1.35" fill="#f4f4f4" opacity="0.78"/>
<circle cx="98.0" cy="581.8" r="1.33" fill="#f4f4f4" opacity="0.73"/>
<circle cx="99.5" cy="587.0" r="1.06" fill="#f4f4f4" opacity="0.74"/>
<circle cx="101.0" cy="592.2" r="1.02" fill="#f4f4f4" opacity="0.52"/>
<circle cx="102.5" cy="597.4" r="1.35" fill="#f4f4f4" opacity="0.47"/>
<circle cx="104.0" cy="602.5" r="1.06" fill="#f4f4f4" opacity="0.50"/>
<circle cx="105.5" cy="607.7" r="1.39" fill="#f4f4f4" opacity="0.54"/>
<circle cx="107.0" cy="612.9" r="1.03" fill="#f4f4f4" opacity="0.87"/>
<circle cx="108.5" cy="618.1" r="1.07" fill="#f4f4f4" opacity="0.87"/>
<circle cx="110.0" cy="623.3" r="1.30" fill="#f4f4f4" opacity="0.87"/>
<circle cx="111.4" cy="628.5" r="1.42" fill="#f4f4f4" opacity="0.74"/>
<circle cx="112.9" cy="633.7" r="1.36" fill="#f4f4f4" opacity="0.47"/>
<circle cx="114.4" cy="638.9" r="1.34" fill="#f4f4f4" opacity="0.71"/>
<circle cx="115.9" cy="644.1" r="1.32" fill="#f4f4f4" opacity="0.50"/>
<circle cx="117.4" cy="649.3" r="1.33" fill="#f4f4f4" opacity="0.92"/>
<circle cx="118.9" cy="654.5" r="1.05" fill="#f4f4f4" opacity="0.61"/>
<circle cx="120.4" cy="659.6" r="1.26" fill="#f4f4f4" opacity="0.86"/>
<circle cx="121.9" cy="664.8" r="1.12" fill="#f4f4f4" opacity="0.54"/>
<circle cx="123.3" cy="670.0" r="1.12" fill="#f4f4f4" opacity="0.76"/>
<circle cx="83.9" cy="515.6" r="1.34" fill="#f4f4f4" opacity="0.65"/>
<circle cx="85.4" cy="520.8" r="1.17" fill="#f4f4f4" opacity="0.65"/>
<circle cx="86.9" cy="526.0" r="1.17" fill="#f4f4f4" opacity="0.66"/>
<circle cx="88.4" cy="531.2" r="1.05" fill="#f4f4f4" opacity="0.70"/>
<circle cx="89.9" cy="536.4" r="1.43" fill="#f4f4f4" opacity="0.66"/>
<circle cx="91.4" cy="541.6" r="1.33" fill="#f4f4f4" opacity="0.53"/>
<circle cx="92.9" cy="546.8" r="1.31" fill="#f4f4f4" opacity="0.83"/>
<circle cx="94.4" cy="551.9" r="1.30" fill="#f4f4f4" opacity="0.71"/>
<circle cx="95.8" cy="557.1" r="1.22" fill="#f4f4f4" opacity="0.77"/>
<circle cx="97.3" cy="562.3" r="1.40" fill="#f4f4f4" opacity="0.52"/>
<circle cx="98.8" cy="567.5" r="1.06" fill="#f4f4f4" opacity="0.82"/>
<circle cx="100.3" cy="572.7" r="1.40" fill="#f4f4f4" opacity="0.71"/>
<circle cx="101.8" cy="577.9" r="1.21" fill="#f4f4f4" opacity="0.81"/>
<circle cx="103.3" cy="583.1" r="1.10" fill="#f4f4f4" opacity="0.58"/>
<circle cx="104.8" cy="588.3" r="1.10" fill="#f4f4f4" opacity="0.74"/>
<circle cx="106.3" cy="593.5" r="1.15" fill="#f4f4f4" opacity="0.57"/>
<circle cx="107.8" cy="598.7" r="1.31" fill="#f4f4f4" opacity="0.93"/>
<circle cx="109.2" cy="603.9" r="1.14" fill="#f4f4f4" opacity="0.80"/>
<circle cx="110.7" cy="609.0" r="1.19" fill="#f4f4f4" opacity="0.88"/>
<circle cx="112.2" cy="614.2" r="1.27" fill="#f4f4f4" opacity="0.58"/>
<circle cx="113.7" cy="619.4" r="1.11" fill="#f4f4f4" opacity="0.46"/>
<circle cx="115.2" cy="624.6" r="1.22" fill="#f4f4f4" opacity="0.64"/>
<circle cx="116.7" cy="629.8" r="1.09" fill="#f4f4f4" opacity="0.63"/>
<circle cx="118.2" cy="635.0" r="1.16" fill="#f4f4f4" opacity="0.84"/>
<circle cx="119.7" cy="640.2" r="1.08" fill="#f4f4f4" opacity="0.95"/>
<circle cx="121.1" cy="645.4" r="1.22" fill="#f4f4f4" opacity="0.75"/>
<circle cx="122.6" cy="650.6" r="1.22" fill="#f4f4f4" opacity="0.87"/>
<circle cx="124.1" cy="655.8" r="1.37" fill="#f4f4f4" opacity="0.73"/>
<circle cx="125.6" cy="660.9" r="1.22" fill="#f4f4f4" opacity="0.81"/>
<circle cx="127.1" cy="666.1" r="1.38" fill="#f4f4f4" opacity="0.65"/>
<circle cx="128.6" cy="671.3" r="1.33" fill="#f4f4f4" opacity="0.93"/>
<circle cx="87.7" cy="511.7" r="1.22" fill="#f4f4f4" opacity="0.56"/>
<circle cx="89.2" cy="516.9" r="1.12" fill="#f4f4f4" opacity="0.81"/>
<circle cx="90.7" cy="522.1" r="1.30" fill="#f4f4f4" opacity="0.93"/>
<circle cx="92.2" cy="527.3" r="1.38" fill="#f4f4f4" opacity="0.57"/>
<circle cx="93.6" cy="532.5" r="1.10" fill="#f4f4f4" opacity="0.58"/>
<circle cx="95.1" cy="537.7" r="1.10" fill="#f4f4f4" opacity="0.80"/>
<circle cx="96.6" cy="542.9" r="1.38" fill="#f4f4f4" opacity="0.90"/>
<circle cx="98.1" cy="548.1" r="1.13" fill="#f4f4f4" opacity="0.88"/>
<circle cx="99.6" cy="553.2" r="1.15" fill="#f4f4f4" opacity="0.66"/>
<circle cx="101.1" cy="558.4" r="1.33" fill="#f4f4f4" opacity="0.49"/>
<circle cx="102.6" cy="563.6" r="1.06" fill="#f4f4f4" opacity="0.87"/>
<circle cx="104.1" cy="568.8" r="1.14" fill="#f4f4f4" opacity="0.63"/>
<circle cx="105.5" cy="574.0" r="1.26" fill="#f4f4f4" opacity="0.79"/>
<circle cx="107.0" cy="579.2" r="1.02" fill="#f4f4f4" opacity="0.62"/>
<circle cx="108.5" cy="584.4" r="1.20" fill="#f4f4f4" opacity="0.69"/>
<circle cx="110.0" cy="589.6" r="1.11" fill="#f4f4f4" opacity="0.74"/>
<circle cx="111.5" cy="594.8" r="1.42" fill="#f4f4f4" opacity="0.65"/>
<circle cx="113.0" cy="600.0" r="1.25" fill="#f4f4f4" opacity="0.51"/>
<circle cx="114.5" cy="605.2" r="1.14" fill="#f4f4f4" opacity="0.78"/>
<circle cx="116.0" cy="610.3" r="1.07" fill="#f4f4f4" opacity="0.89"/>
<circle cx="117.5" cy="615.5" r="1.40" fill="#f4f4f4" opacity="0.50"/>
<circle cx="118.9" cy="620.7" r="1.42" fill="#f4f4f4" opacity="0.64"/>
<circle cx="120.4" cy="625.9" r="1.34" fill="#f4f4f4" opacity="0.83"/>
<circle cx="121.9" cy="631.1" r="1.14" fill="#f4f4f4" opacity="0.79"/>
<circle cx="123.4" cy="636.3" r="1.29" fill="#f4f4f4" opacity="0.85"/>
<circle cx="124.9" cy="641.5" r="1.13" fill="#f4f4f4" opacity="0.83"/>
<circle cx="126.4" cy="646.7" r="1.42" fill="#f4f4f4" opacity="0.79"/>
<circle cx="127.9" cy="651.9" r="1.25" fill="#f4f4f4" opacity="0.51"/>
<circle cx="129.4" cy="657.1" r="1.23" fill="#f4f4f4" opacity="0.63"/>
<circle cx="130.9" cy="662.3" r="1.32" fill="#f4f4f4" opacity="0.79"/>
<circle cx="132.3" cy="667.4" r="1.26" fill="#f4f4f4" opacity="0.54"/>
<circle cx="133.8" cy="672.6" r="1.29" fill="#f4f4f4" opacity="0.77"/>
<circle cx="92.9" cy="513.0" r="1.10" fill="#f4f4f4" opacity="0.89"/>
<circle cx="94.4" cy="518.2" r="1.30" fill="#f4f4f4" opacity="0.51"/>
<circle cx="95.9" cy="523.4" r="1.41" fill="#f4f4f4" opacity="0.52"/>
<circle cx="97.4" cy="528.6" r="1.16" fill="#f4f4f4" opacity="0.81"/>
<circle cx="98.9" cy="533.8" r="1.27" fill="#f4f4f4" opacity="0.73"/>
<circle cx="100.4" cy="539.0" r="1.29" fill="#f4f4f4" opacity="0.68"/>
<circle cx="101.9" cy="544.2" r="1.15" fill="#f4f4f4" opacity="0.54"/>
<circle cx="103.3" cy="549.4" r="1.05" fill="#f4f4f4" opacity="0.81"/>
<circle cx="104.8" cy="554.6" r="1.34" fill="#f4f4f4" opacity="0.72"/>
<circle cx="106.3" cy="559.7" r="1.33" fill="#f4f4f4" opacity="0.63"/>
<circle cx="107.8" cy="564.9" r="1.13" fill="#f4f4f4" opacity="0.64"/>
<circle cx="109.3" cy="570.1" r="1.39" fill="#f4f4f4" opacity="0.47"/>
<circle cx="110.8" cy="575.3" r="1.23" fill="#f4f4f4" opacity="0.57"/>
<circle cx="112.3" cy="580.5" r="1.34" fill="#f4f4f4" opacity="0.63"/>
<circle cx="113.8" cy="585.7" r="1.16" fill="#f4f4f4" opacity="0.65"/>
<circle cx="115.3" cy="590.9" r="1.25" fill="#f4f4f4" opacity="0.84"/>
<circle cx="116.7" cy="596.1" r="1.17" fill="#f4f4f4" opacity="0.87"/>
<circle cx="118.2" cy="601.3" r="1.07" fill="#f4f4f4" opacity="0.59"/>
<circle cx="119.7" cy="606.5" r="1.06" fill="#f4f4f4" opacity="0.51"/>
<circle cx="121.2" cy="611.7" r="1.35" fill="#f4f4f4" opacity="0.81"/>
<circle cx="122.7" cy="616.8" r="1.10" fill="#f4f4f4" opacity="0.54"/>
<circle cx="124.2" cy="622.0" r="1.19" fill="#f4f4f4" opacity="0.82"/>
<circle cx="125.7" cy="627.2" r="1.36" fill="#f4f4f4" opacity="0.82"/>
<circle cx="127.2" cy="632.4" r="1.27" fill="#f4f4f4" opacity="0.52"/>
<circle cx="128.6" cy="637.6" r="1.19" fill="#f4f4f4" opacity="0.55"/>
<circle cx="130.1" cy="642.8" r="1.24" fill="#f4f4f4" opacity="0.73"/>
<circle cx="131.6" cy="648.0" r="1.10" fill="#f4f4f4" opacity="0.58"/>
<circle cx="133.1" cy="653.2" r="1.35" fill="#f4f4f4" opacity="0.47"/>
<circle cx="134.6" cy="658.4" r="1.36" fill="#f4f4f4" opacity="0.90"/>
<circle cx="136.1" cy="663.6" r="1.42" fill="#f4f4f4" opacity="0.64"/>
<circle cx="137.6" cy="668.8" r="1.25" fill="#f4f4f4" opacity="0.74"/>
<circle cx="98.2" cy="514.3" r="1.29" fill="#f4f4f4" opacity="0.94"/>
<circle cx="99.7" cy="519.5" r="1.31" fill="#f4f4f4" opacity="0.60"/>
<circle cx="101.1" cy="524.7" r="1.38" fill="#f4f4f4" opacity="0.69"/>
<circle cx="102.6" cy="529.9" r="1.27" fill="#f4f4f4" opacity="0.81"/>
<circle cx="104.1" cy="535.1" r="1.02" fill="#f4f4f4" opacity="0.84"/>
<circle cx="105.6" cy="540.3" r="1.30" fill="#f4f4f4" opacity="0.70"/>
<circle cx="107.1" cy="545.5" r="1.24" fill="#f4f4f4" opacity="0.68"/>
<circle cx="108.6" cy="550.7" r="1.10" fill="#f4f4f4" opacity="0.71"/>
<circle cx="110.1" cy="555.9" r="1.04" fill="#f4f4f4" opacity="0.70"/>
<circle cx="111.6" cy="561.1" r="1.29" fill="#f4f4f4" opacity="0.67"/>
<circle cx="113.1" cy="566.2" r="1.26" fill="#f4f4f4" opacity="0.93"/>
<circle cx="114.5" cy="571.4" r="1.39" fill="#f4f4f4" opacity="0.52"/>
<circle cx="116.0" cy="576.6" r="1.35" fill="#f4f4f4" opacity="0.76"/>
<circle cx="117.5" cy="581.8" r="1.04" fill="#f4f4f4" opacity="0.63"/>
<circle cx="119.0" cy="587.0" r="1.12" fill="#f4f4f4" opacity="0.49"/>
<circle cx="120.5" cy="592.2" r="1.25" fill="#f4f4f4" opacity="0.91"/>
<circle cx="122.0" cy="597.4" r="1.16" fill="#f4f4f4" opacity="0.89"/>
<circle cx="123.5" cy="602.6" r="1.31" fill="#f4f4f4" opacity="0.52"/>
<circle cx="125.0" cy="607.8" r="1.38" fill="#f4f4f4" opacity="0.75"/>
<circle cx="126.4" cy="613.0" r="1.41" fill="#f4f4f4" opacity="0.81"/>
<circle cx="127.9" cy="618.2" r="1.33" fill="#f4f4f4" opacity="0.62"/>
<circle cx="129.4" cy="623.3" r="1.36" fill="#f4f4f4" opacity="0.92"/>
<circle cx="130.9" cy="628.5" r="1.38" fill="#f4f4f4" opacity="0.67"/>
<circle cx="132.4" cy="633.7" r="1.34" fill="#f4f4f4" opacity="0.69"/>
<circle cx="133.9" cy="638.9" r="1.07" fill="#f4f4f4" opacity="0.47"/>
<circle cx="135.4" cy="644.1" r="1.05" fill="#f4f4f4" opacity="0.55"/>
<circle cx="136.9" cy="649.3" r="1.09" fill="#f4f4f4" opacity="0.70"/>
<circle cx="138.4" cy="654.5" r="1.31" fill="#f4f4f4" opacity="0.72"/>
<circle cx="139.8" cy="659.7" r="1.20" fill="#f4f4f4" opacity="0.77"/>
<circle cx="141.3" cy="664.9" r="1.15" fill="#f4f4f4" opacity="0.68"/>
<circle cx="142.8" cy="670.1" r="1.34" fill="#f4f4f4" opacity="0.65"/>
<circle cx="103.4" cy="515.6" r="1.10" fill="#f4f4f4" opacity="0.90"/>
<circle cx="104.9" cy="520.8" r="1.32" fill="#f4f4f4" opacity="0.63"/>
<circle cx="106.4" cy="526.0" r="1.18" fill="#f4f4f4" opacity="0.71"/>
<circle cx="107.9" cy="531.2" r="1.27" fill="#f4f4f4" opacity="0.56"/>
<circle cx="109.4" cy="536.4" r="1.02" fill="#f4f4f4" opacity="0.55"/>
<circle cx="110.8" cy="541.6" r="1.35" fill="#f4f4f4" opacity="0.52"/>
<circle cx="112.3" cy="546.8" r="1.21" fill="#f4f4f4" opacity="0.55"/>
<circle cx="113.8" cy="552.0" r="1.11" fill="#f4f4f4" opacity="0.54"/>
<circle cx="115.3" cy="557.2" r="1.19" fill="#f4f4f4" opacity="0.53"/>
<circle cx="116.8" cy="562.4" r="1.03" fill="#f4f4f4" opacity="0.51"/>
<circle cx="118.3" cy="567.5" r="1.09" fill="#f4f4f4" opacity="0.70"/>
<circle cx="119.8" cy="572.7" r="1.05" fill="#f4f4f4" opacity="0.46"/>
<circle cx="121.3" cy="577.9" r="1.21" fill="#f4f4f4" opacity="0.65"/>
<circle cx="122.8" cy="583.1" r="1.32" fill="#f4f4f4" opacity="0.48"/>
<circle cx="124.2" cy="588.3" r="1.19" fill="#f4f4f4" opacity="0.65"/>
<circle cx="125.7" cy="593.5" r="1.03" fill="#f4f4f4" opacity="0.93"/>
<circle cx="127.2" cy="598.7" r="1.11" fill="#f4f4f4" opacity="0.50"/>
<circle cx="128.7" cy="603.9" r="1.22" fill="#f4f4f4" opacity="0.53"/>
<circle cx="130.2" cy="609.1" r="1.28" fill="#f4f4f4" opacity="0.62"/>
<circle cx="131.7" cy="614.3" r="1.07" fill="#f4f4f4" opacity="0.48"/>
<circle cx="133.2" cy="619.5" r="1.33" fill="#f4f4f4" opacity="0.59"/>
<circle cx="134.7" cy="624.6" r="1.35" fill="#f4f4f4" opacity="0.68"/>
<circle cx="136.2" cy="629.8" r="1.41" fill="#f4f4f4" opacity="0.60"/>
<circle cx="137.6" cy="635.0" r="1.12" fill="#f4f4f4" opacity="0.58"/>
<circle cx="139.1" cy="640.2" r="1.36" fill="#f4f4f4" opacity="0.76"/>
<circle cx="140.6" cy="645.4" r="1.16" fill="#f4f4f4" opacity="0.50"/>
<circle cx="142.1" cy="650.6" r="1.31" fill="#f4f4f4" opacity="0.93"/>
<circle cx="143.6" cy="655.8" r="1.27" fill="#f4f4f4" opacity="0.45"/>
<circle cx="145.1" cy="661.0" r="1.03" fill="#f4f4f4" opacity="0.50"/>
<circle cx="146.6" cy="666.2" r="1.09" fill="#f4f4f4" opacity="0.47"/>
<circle cx="148.1" cy="671.4" r="1.04" fill="#f4f4f4" opacity="0.78"/>
<circle cx="107.2" cy="511.8" r="1.40" fill="#f4f4f4" opacity="0.55"/>
<circle cx="108.6" cy="516.9" r="1.43" fill="#f4f4f4" opacity="0.69"/>
<circle cx="110.1" cy="522.1" r="1.36" fill="#f4f4f4" opacity="0.91"/>
<circle cx="111.6" cy="527.3" r="1.41" fill="#f4f4f4" opacity="0.47"/>
<circle cx="113.1" cy="532.5" r="1.15" fill="#f4f4f4" opacity="0.75"/>
<circle cx="114.6" cy="537.7" r="1.42" fill="#f4f4f4" opacity="0.49"/>
<circle cx="116.1" cy="542.9" r="1.14" fill="#f4f4f4" opacity="0.87"/>
<circle cx="117.6" cy="548.1" r="1.07" fill="#f4f4f4" opacity="0.64"/>
<circle cx="119.1" cy="553.3" r="1.16" fill="#f4f4f4" opacity="0.79"/>
<circle cx="120.6" cy="558.5" r="1.41" fill="#f4f4f4" opacity="0.54"/>
<circle cx="122.0" cy="563.7" r="1.33" fill="#f4f4f4" opacity="0.82"/>
<circle cx="123.5" cy="568.9" r="1.37" fill="#f4f4f4" opacity="0.73"/>
<circle cx="125.0" cy="574.0" r="1.41" fill="#f4f4f4" opacity="0.63"/>
<circle cx="126.5" cy="579.2" r="1.19" fill="#f4f4f4" opacity="0.56"/>
<circle cx="128.0" cy="584.4" r="1.35" fill="#f4f4f4" opacity="0.69"/>
<circle cx="129.5" cy="589.6" r="1.13" fill="#f4f4f4" opacity="0.53"/>
<circle cx="131.0" cy="594.8" r="1.32" fill="#f4f4f4" opacity="0.75"/>
<circle cx="132.5" cy="600.0" r="1.32" fill="#f4f4f4" opacity="0.64"/>
<circle cx="133.9" cy="605.2" r="1.22" fill="#f4f4f4" opacity="0.53"/>
<circle cx="135.4" cy="610.4" r="1.32" fill="#f4f4f4" opacity="0.46"/>
<circle cx="136.9" cy="615.6" r="1.22" fill="#f4f4f4" opacity="0.83"/>
<circle cx="138.4" cy="620.8" r="1.30" fill="#f4f4f4" opacity="0.50"/>
<circle cx="139.9" cy="626.0" r="1.12" fill="#f4f4f4" opacity="0.87"/>
<circle cx="141.4" cy="631.1" r="1.29" fill="#f4f4f4" opacity="0.89"/>
<circle cx="142.9" cy="636.3" r="1.39" fill="#f4f4f4" opacity="0.67"/>
<circle cx="144.4" cy="641.5" r="1.40" fill="#f4f4f4" opacity="0.82"/>
<circle cx="145.9" cy="646.7" r="1.16" fill="#f4f4f4" opacity="0.64"/>
<circle cx="147.3" cy="651.9" r="1.05" fill="#f4f4f4" opacity="0.65"/>
<circle cx="148.8" cy="657.1" r="1.42" fill="#f4f4f4" opacity="0.50"/>
<circle cx="150.3" cy="662.3" r="1.26" fill="#f4f4f4" opacity="0.51"/>
<circle cx="151.8" cy="667.5" r="1.05" fill="#f4f4f4" opacity="0.77"/>
<circle cx="153.3" cy="672.7" r="1.12" fill="#f4f4f4" opacity="0.47"/>
<circle cx="112.4" cy="513.1" r="1.08" fill="#f4f4f4" opacity="0.77"/>
<circle cx="113.9" cy="518.3" r="1.27" fill="#f4f4f4" opacity="0.46"/>
<circle cx="115.4" cy="523.4" r="1.12" fill="#f4f4f4" opacity="0.93"/>
<circle cx="116.9" cy="528.6" r="1.11" fill="#f4f4f4" opacity="0.73"/>
<circle cx="118.3" cy="533.8" r="1.20" fill="#f4f4f4" opacity="0.84"/>
<circle cx="119.8" cy="539.0" r="1.27" fill="#f4f4f4" opacity="0.84"/>
<circle cx="121.3" cy="544.2" r="1.24" fill="#f4f4f4" opacity="0.54"/>
<circle cx="122.8" cy="549.4" r="1.09" fill="#f4f4f4" opacity="0.49"/>
<circle cx="124.3" cy="554.6" r="1.37" fill="#f4f4f4" opacity="0.51"/>
<circle cx="125.8" cy="559.8" r="1.03" fill="#f4f4f4" opacity="0.93"/>
<circle cx="127.3" cy="565.0" r="1.10" fill="#f4f4f4" opacity="0.90"/>
<circle cx="128.8" cy="570.2" r="1.06" fill="#f4f4f4" opacity="0.68"/>
<circle cx="130.3" cy="575.4" r="1.11" fill="#f4f4f4" opacity="0.86"/>
<circle cx="131.7" cy="580.5" r="1.28" fill="#f4f4f4" opacity="0.77"/>
<circle cx="133.2" cy="585.7" r="1.34" fill="#f4f4f4" opacity="0.89"/>
<circle cx="134.7" cy="590.9" r="1.17" fill="#f4f4f4" opacity="0.75"/>
<circle cx="136.2" cy="596.1" r="1.21" fill="#f4f4f4" opacity="0.51"/>
<circle cx="137.7" cy="601.3" r="1.37" fill="#f4f4f4" opacity="0.75"/>
<circle cx="139.2" cy="606.5" r="1.36" fill="#f4f4f4" opacity="0.55"/>
<circle cx="140.7" cy="611.7" r="1.25" fill="#f4f4f4" opacity="0.68"/>
<circle cx="142.2" cy="616.9" r="1.33" fill="#f4f4f4" opacity="0.49"/>
<circle cx="143.7" cy="622.1" r="1.17" fill="#f4f4f4" opacity="0.69"/>
<circle cx="145.1" cy="627.3" r="1.05" fill="#f4f4f4" opacity="0.73"/>
<circle cx="146.6" cy="632.5" r="1.33" fill="#f4f4f4" opacity="0.66"/>
<circle cx="148.1" cy="637.6" r="1.29" fill="#f4f4f4" opacity="0.75"/>
<circle cx="149.6" cy="642.8" r="1.11" fill="#f4f4f4" opacity="0.63"/>
<circle cx="151.1" cy="648.0" r="1.44" fill="#f4f4f4" opacity="0.62"/>
<circle cx="152.6" cy="653.2" r="1.20" fill="#f4f4f4" opacity="0.49"/>
<circle cx="154.1" cy="658.4" r="1.11" fill="#f4f4f4" opacity="0.53"/>
<circle cx="155.6" cy="663.6" r="1.41" fill="#f4f4f4" opacity="0.81"/>
<circle cx="157.0" cy="668.8" r="1.39" fill="#f4f4f4" opacity="0.94"/>
<circle cx="117.6" cy="514.4" r="1.28" fill="#f4f4f4" opacity="0.92"/>
<circle cx="119.1" cy="519.6" r="1.25" fill="#f4f4f4" opacity="0.66"/>
<circle cx="120.6" cy="524.8" r="1.42" fill="#f4f4f4" opacity="0.90"/>
<circle cx="122.1" cy="529.9" r="1.42" fill="#f4f4f4" opacity="0.69"/>
<circle cx="123.6" cy="535.1" r="1.34" fill="#f4f4f4" opacity="0.65"/>
<circle cx="125.1" cy="540.3" r="1.44" fill="#f4f4f4" opacity="0.91"/>
<circle cx="126.6" cy="545.5" r="1.14" fill="#f4f4f4" opacity="0.92"/>
<circle cx="128.1" cy="550.7" r="1.10" fill="#f4f4f4" opacity="0.50"/>
<circle cx="129.5" cy="555.9" r="1.32" fill="#f4f4f4" opacity="0.60"/>
<circle cx="131.0" cy="561.1" r="1.24" fill="#f4f4f4" opacity="0.77"/>
<circle cx="132.5" cy="566.3" r="1.04" fill="#f4f4f4" opacity="0.82"/>
<circle cx="134.0" cy="571.5" r="1.14" fill="#f4f4f4" opacity="0.67"/>
<circle cx="135.5" cy="576.7" r="1.16" fill="#f4f4f4" opacity="0.82"/>
<circle cx="137.0" cy="581.9" r="1.33" fill="#f4f4f4" opacity="0.59"/>
<circle cx="138.5" cy="587.0" r="1.06" fill="#f4f4f4" opacity="0.60"/>
<circle cx="140.0" cy="592.2" r="1.19" fill="#f4f4f4" opacity="0.49"/>
<circle cx="141.5" cy="597.4" r="1.08" fill="#f4f4f4" opacity="0.83"/>
<circle cx="142.9" cy="602.6" r="1.31" fill="#f4f4f4" opacity="0.94"/>
<circle cx="144.4" cy="607.8" r="1.43" fill="#f4f4f4" opacity="0.89"/>
<circle cx="145.9" cy="613.0" r="1.18" fill="#f4f4f4" opacity="0.53"/>
<circle cx="147.4" cy="618.2" r="1.15" fill="#f4f4f4" opacity="0.68"/>
<circle cx="148.9" cy="623.4" r="1.24" fill="#f4f4f4" opacity="0.72"/>
<circle cx="150.4" cy="628.6" r="1.17" fill="#f4f4f4" opacity="0.88"/>
<circle cx="151.9" cy="633.8" r="1.14" fill="#f4f4f4" opacity="0.68"/>
<circle cx="153.4" cy="638.9" r="1.39" fill="#f4f4f4" opacity="0.85"/>
<circle cx="154.8" cy="644.1" r="1.14" fill="#f4f4f4" opacity="0.57"/>
<circle cx="156.3" cy="649.3" r="1.36" fill="#f4f4f4" opacity="0.46"/>
<circle cx="157.8" cy="654.5" r="1.08" fill="#f4f4f4" opacity="0.72"/>
<circle cx="159.3" cy="659.7" r="1.25" fill="#f4f4f4" opacity="0.53"/>
<circle cx="160.8" cy="664.9" r="1.04" fill="#f4f4f4" opacity="0.55"/>
<circle cx="162.3" cy="670.1" r="1.34" fill="#f4f4f4" opacity="0.68"/>
<circle cx="122.9" cy="515.7" r="1.43" fill="#f4f4f4" opacity="0.84"/>
<circle cx="124.4" cy="520.9" r="1.43" fill="#f4f4f4" opacity="0.47"/>
<circle cx="125.9" cy="526.1" r="1.10" fill="#f4f4f4" opacity="0.46"/>
<circle cx="127.3" cy="531.2" r="1.20" fill="#f4f4f4" opacity="0.62"/>
<circle cx="128.8" cy="536.4" r="1.04" fill="#f4f4f4" opacity="0.72"/>
<circle cx="130.3" cy="541.6" r="1.06" fill="#f4f4f4" opacity="0.61"/>
<circle cx="131.8" cy="546.8" r="1.12" fill="#f4f4f4" opacity="0.85"/>
<circle cx="133.3" cy="552.0" r="1.20" fill="#f4f4f4" opacity="0.58"/>
<circle cx="134.8" cy="557.2" r="1.04" fill="#f4f4f4" opacity="0.66"/>
<circle cx="136.3" cy="562.4" r="1.28" fill="#f4f4f4" opacity="0.79"/>
<circle cx="137.8" cy="567.6" r="1.40" fill="#f4f4f4" opacity="0.85"/>
<circle cx="139.2" cy="572.8" r="1.12" fill="#f4f4f4" opacity="0.52"/>
<circle cx="140.7" cy="578.0" r="1.34" fill="#f4f4f4" opacity="0.84"/>
<circle cx="142.2" cy="583.2" r="1.23" fill="#f4f4f4" opacity="0.87"/>
<circle cx="143.7" cy="588.3" r="1.25" fill="#f4f4f4" opacity="0.59"/>
<circle cx="145.2" cy="593.5" r="1.09" fill="#f4f4f4" opacity="0.46"/>
<circle cx="146.7" cy="598.7" r="1.29" fill="#f4f4f4" opacity="0.90"/>
<circle cx="148.2" cy="603.9" r="1.40" fill="#f4f4f4" opacity="0.68"/>
<circle cx="149.7" cy="609.1" r="1.30" fill="#f4f4f4" opacity="0.91"/>
<circle cx="151.2" cy="614.3" r="1.36" fill="#f4f4f4" opacity="0.75"/>
<circle cx="152.6" cy="619.5" r="1.19" fill="#f4f4f4" opacity="0.71"/>
<circle cx="154.1" cy="624.7" r="1.09" fill="#f4f4f4" opacity="0.54"/>
<circle cx="155.6" cy="629.9" r="1.31" fill="#f4f4f4" opacity="0.95"/>
<circle cx="157.1" cy="635.1" r="1.25" fill="#f4f4f4" opacity="0.65"/>
<circle cx="158.6" cy="640.3" r="1.17" fill="#f4f4f4" opacity="0.68"/>
<circle cx="160.1" cy="645.4" r="1.36" fill="#f4f4f4" opacity="0.68"/>
<circle cx="161.6" cy="650.6" r="1.42" fill="#f4f4f4" opacity="0.53"/>
<circle cx="163.1" cy="655.8" r="1.15" fill="#f4f4f4" opacity="0.71"/>
<circle cx="164.6" cy="661.0" r="1.19" fill="#f4f4f4" opacity="0.88"/>
<circle cx="166.0" cy="666.2" r="1.37" fill="#f4f4f4" opacity="0.92"/>
<circle cx="167.5" cy="671.4" r="1.28" fill="#f4f4f4" opacity="0.47"/>
<circle cx="126.6" cy="511.8" r="1.26" fill="#f4f4f4" opacity="0.72"/>
<circle cx="128.1" cy="517.0" r="1.22" fill="#f4f4f4" opacity="0.59"/>
<circle cx="129.6" cy="522.2" r="1.32" fill="#f4f4f4" opacity="0.91"/>
<circle cx="131.1" cy="527.4" r="1.06" fill="#f4f4f4" opacity="0.78"/>
<circle cx="132.6" cy="532.6" r="1.18" fill="#f4f4f4" opacity="0.71"/>
<circle cx="134.1" cy="537.7" r="1.40" fill="#f4f4f4" opacity="0.93"/>
<circle cx="135.6" cy="542.9" r="1.29" fill="#f4f4f4" opacity="0.55"/>
<circle cx="137.0" cy="548.1" r="1.41" fill="#f4f4f4" opacity="0.54"/>
<circle cx="138.5" cy="553.3" r="1.18" fill="#f4f4f4" opacity="0.86"/>
<circle cx="140.0" cy="558.5" r="1.15" fill="#f4f4f4" opacity="0.59"/>
<circle cx="141.5" cy="563.7" r="1.42" fill="#f4f4f4" opacity="0.92"/>
<circle cx="143.0" cy="568.9" r="1.15" fill="#f4f4f4" opacity="0.65"/>
<circle cx="144.5" cy="574.1" r="1.14" fill="#f4f4f4" opacity="0.52"/>
<circle cx="146.0" cy="579.3" r="1.13" fill="#f4f4f4" opacity="0.94"/>
<circle cx="147.5" cy="584.5" r="1.05" fill="#f4f4f4" opacity="0.56"/>
<circle cx="149.0" cy="589.7" r="1.10" fill="#f4f4f4" opacity="0.49"/>
<circle cx="150.4" cy="594.8" r="1.24" fill="#f4f4f4" opacity="0.82"/>
<circle cx="151.9" cy="600.0" r="1.37" fill="#f4f4f4" opacity="0.77"/>
<circle cx="153.4" cy="605.2" r="1.36" fill="#f4f4f4" opacity="0.45"/>
<circle cx="154.9" cy="610.4" r="1.14" fill="#f4f4f4" opacity="0.93"/>
<circle cx="156.4" cy="615.6" r="1.05" fill="#f4f4f4" opacity="0.58"/>
<circle cx="157.9" cy="620.8" r="1.22" fill="#f4f4f4" opacity="0.58"/>
<circle cx="159.4" cy="626.0" r="1.25" fill="#f4f4f4" opacity="0.47"/>
<circle cx="160.9" cy="631.2" r="1.12" fill="#f4f4f4" opacity="0.93"/>
<circle cx="162.3" cy="636.4" r="1.08" fill="#f4f4f4" opacity="0.90"/>
<circle cx="163.8" cy="641.6" r="1.09" fill="#f4f4f4" opacity="0.95"/>
<circle cx="165.3" cy="646.8" r="1.30" fill="#f4f4f4" opacity="0.77"/>
<circle cx="166.8" cy="651.9" r="1.08" fill="#f4f4f4" opacity="0.48"/>
<circle cx="168.3" cy="657.1" r="1.34" fill="#f4f4f4" opacity="0.54"/>
<circle cx="169.8" cy="662.3" r="1.10" fill="#f4f4f4" opacity="0.86"/>
<circle cx="171.3" cy="667.5" r="1.39" fill="#f4f4f4" opacity="0.47"/>
<circle cx="172.8" cy="672.7" r="1.42" fill="#f4f4f4" opacity="0.72"/>
<circle cx="131.9" cy="513.1" r="1.18" fill="#f4f4f4" opacity="0.50"/>
<circle cx="133.4" cy="518.3" r="1.18" fill="#f4f4f4" opacity="0.94"/>
<circle cx="134.8" cy="523.5" r="1.14" fill="#f4f4f4" opacity="0.52"/>
<circle cx="136.3" cy="528.7" r="1.08" fill="#f4f4f4" opacity="0.51"/>
<circle cx="137.8" cy="533.9" r="1.17" fill="#f4f4f4" opacity="0.91"/>
<circle cx="139.3" cy="539.1" r="1.05" fill="#f4f4f4" opacity="0.55"/>
<circle cx="140.8" cy="544.2" r="1.41" fill="#f4f4f4" opacity="0.95"/>
<circle cx="142.3" cy="549.4" r="1.43" fill="#f4f4f4" opacity="0.57"/>
<circle cx="143.8" cy="554.6" r="1.17" fill="#f4f4f4" opacity="0.93"/>
<circle cx="145.3" cy="559.8" r="1.22" fill="#f4f4f4" opacity="0.80"/>
<circle cx="146.8" cy="565.0" r="1.15" fill="#f4f4f4" opacity="0.46"/>
<circle cx="148.2" cy="570.2" r="1.17" fill="#f4f4f4" opacity="0.82"/>
<circle cx="149.7" cy="575.4" r="1.35" fill="#f4f4f4" opacity="0.73"/>
<circle cx="151.2" cy="580.6" r="1.21" fill="#f4f4f4" opacity="0.72"/>
<circle cx="152.7" cy="585.8" r="1.21" fill="#f4f4f4" opacity="0.72"/>
<circle cx="154.2" cy="591.0" r="1.37" fill="#f4f4f4" opacity="0.55"/>
<circle cx="155.7" cy="596.2" r="1.27" fill="#f4f4f4" opacity="0.92"/>
<circle cx="157.2" cy="601.3" r="1.38" fill="#f4f4f4" opacity="0.54"/>
<circle cx="158.7" cy="606.5" r="1.42" fill="#f4f4f4" opacity="0.87"/>
<circle cx="160.1" cy="611.7" r="1.09" fill="#f4f4f4" opacity="0.58"/>
<circle cx="161.6" cy="616.9" r="1.10" fill="#f4f4f4" opacity="0.48"/>
<circle cx="163.1" cy="622.1" r="1.43" fill="#f4f4f4" opacity="0.65"/>
<circle cx="164.6" cy="627.3" r="1.39" fill="#f4f4f4" opacity="0.51"/>
<circle cx="166.1" cy="632.5" r="1.03" fill="#f4f4f4" opacity="0.88"/>
<circle cx="167.6" cy="637.7" r="1.35" fill="#f4f4f4" opacity="0.95"/>
<circle cx="169.1" cy="642.9" r="1.31" fill="#f4f4f4" opacity="0.71"/>
<circle cx="170.6" cy="648.1" r="1.34" fill="#f4f4f4" opacity="0.50"/>
<circle cx="172.1" cy="653.3" r="1.25" fill="#f4f4f4" opacity="0.67"/>
<circle cx="173.5" cy="658.4" r="1.08" fill="#f4f4f4" opacity="0.75"/>
<circle cx="175.0" cy="663.6" r="1.16" fill="#f4f4f4" opacity="0.70"/>
<circle cx="176.5" cy="668.8" r="1.18" fill="#f4f4f4" opacity="0.61"/>
<circle cx="137.1" cy="514.4" r="1.17" fill="#f4f4f4" opacity="0.75"/>
<circle cx="138.6" cy="519.6" r="1.43" fill="#f4f4f4" opacity="0.92"/>
<circle cx="140.1" cy="524.8" r="1.38" fill="#f4f4f4" opacity="0.87"/>
<circle cx="141.6" cy="530.0" r="1.14" fill="#f4f4f4" opacity="0.94"/>
<circle cx="143.1" cy="535.2" r="1.13" fill="#f4f4f4" opacity="0.51"/>
<circle cx="144.5" cy="540.4" r="1.23" fill="#f4f4f4" opacity="0.82"/>
<circle cx="146.0" cy="545.5" r="1.16" fill="#f4f4f4" opacity="0.77"/>
<circle cx="147.5" cy="550.7" r="1.14" fill="#f4f4f4" opacity="0.93"/>
<circle cx="149.0" cy="555.9" r="1.21" fill="#f4f4f4" opacity="0.69"/>
<circle cx="150.5" cy="561.1" r="1.24" fill="#f4f4f4" opacity="0.89"/>
<circle cx="152.0" cy="566.3" r="1.43" fill="#f4f4f4" opacity="0.71"/>
<circle cx="153.5" cy="571.5" r="1.21" fill="#f4f4f4" opacity="0.76"/>
<circle cx="155.0" cy="576.7" r="1.05" fill="#f4f4f4" opacity="0.66"/>
<circle cx="156.5" cy="581.9" r="1.38" fill="#f4f4f4" opacity="0.84"/>
<circle cx="157.9" cy="587.1" r="1.04" fill="#f4f4f4" opacity="0.88"/>
<circle cx="159.4" cy="592.3" r="1.18" fill="#f4f4f4" opacity="0.94"/>
<circle cx="160.9" cy="597.5" r="1.17" fill="#f4f4f4" opacity="0.56"/>
<circle cx="162.4" cy="602.6" r="1.25" fill="#f4f4f4" opacity="0.89"/>
<circle cx="163.9" cy="607.8" r="1.20" fill="#f4f4f4" opacity="0.88"/>
<circle cx="165.4" cy="613.0" r="1.32" fill="#f4f4f4" opacity="0.63"/>
<circle cx="166.9" cy="618.2" r="1.15" fill="#f4f4f4" opacity="0.70"/>
<circle cx="168.4" cy="623.4" r="1.19" fill="#f4f4f4" opacity="0.64"/>
<circle cx="169.9" cy="628.6" r="1.29" fill="#f4f4f4" opacity="0.89"/>
<circle cx="171.3" cy="633.8" r="1.27" fill="#f4f4f4" opacity="0.52"/>
<circle cx="172.8" cy="639.0" r="1.11" fill="#f4f4f4" opacity="0.64"/>
<circle cx="174.3" cy="644.2" r="1.28" fill="#f4f4f4" opacity="0.52"/>
<circle cx="175.8" cy="649.4" r="1.05" fill="#f4f4f4" opacity="0.61"/>
<circle cx="177.3" cy="654.6" r="1.14" fill="#f4f4f4" opacity="0.46"/>
<circle cx="178.8" cy="659.7" r="1.25" fill="#f4f4f4" opacity="0.91"/>
<circle cx="180.3" cy="664.9" r="1.24" fill="#f4f4f4" opacity="0.82"/>
<circle cx="181.8" cy="670.1" r="1.37" fill="#f4f4f4" opacity="0.87"/>
<circle cx="140.9" cy="510.5" r="1.40" fill="#f4f4f4" opacity="0.67"/>
<circle cx="142.3" cy="515.7" r="1.31" fill="#f4f4f4" opacity="0.51"/>
<circle cx="143.8" cy="520.9" r="1.39" fill="#f4f4f4" opacity="0.64"/>
<circle cx="145.3" cy="526.1" r="1.22" fill="#f4f4f4" opacity="0.90"/>
<circle cx="146.8" cy="531.3" r="1.14" fill="#f4f4f4" opacity="0.54"/>
<circle cx="148.3" cy="536.5" r="1.37" fill="#f4f4f4" opacity="0.75"/>
<circle cx="149.8" cy="541.7" r="1.06" fill="#f4f4f4" opacity="0.46"/>
<circle cx="151.3" cy="546.9" r="1.17" fill="#f4f4f4" opacity="0.45"/>
<circle cx="152.8" cy="552.0" r="1.37" fill="#f4f4f4" opacity="0.54"/>
<circle cx="154.3" cy="557.2" r="1.14" fill="#f4f4f4" opacity="0.64"/>
<circle cx="155.7" cy="562.4" r="1.23" fill="#f4f4f4" opacity="0.67"/>
<circle cx="157.2" cy="567.6" r="1.28" fill="#f4f4f4" opacity="0.78"/>
<circle cx="158.7" cy="572.8" r="1.20" fill="#f4f4f4" opacity="0.50"/>
<circle cx="160.2" cy="578.0" r="1.43" fill="#f4f4f4" opacity="0.80"/>
<circle cx="161.7" cy="583.2" r="1.06" fill="#f4f4f4" opacity="0.67"/>
<circle cx="163.2" cy="588.4" r="1.34" fill="#f4f4f4" opacity="0.95"/>
<circle cx="164.7" cy="593.6" r="1.05" fill="#f4f4f4" opacity="0.45"/>
<circle cx="166.2" cy="598.8" r="1.22" fill="#f4f4f4" opacity="0.66"/>
<circle cx="167.6" cy="604.0" r="1.40" fill="#f4f4f4" opacity="0.86"/>
<circle cx="169.1" cy="609.1" r="1.16" fill="#f4f4f4" opacity="0.66"/>
<circle cx="170.6" cy="614.3" r="1.26" fill="#f4f4f4" opacity="0.89"/>
<circle cx="172.1" cy="619.5" r="1.10" fill="#f4f4f4" opacity="0.65"/>
<circle cx="173.6" cy="624.7" r="1.06" fill="#f4f4f4" opacity="0.77"/>
<circle cx="175.1" cy="629.9" r="1.03" fill="#f4f4f4" opacity="0.92"/>
<circle cx="176.6" cy="635.1" r="1.24" fill="#f4f4f4" opacity="0.74"/>
<circle cx="178.1" cy="640.3" r="1.06" fill="#f4f4f4" opacity="0.57"/>
<circle cx="179.6" cy="645.5" r="1.22" fill="#f4f4f4" opacity="0.88"/>
<circle cx="181.0" cy="650.7" r="1.25" fill="#f4f4f4" opacity="0.59"/>
<circle cx="182.5" cy="655.9" r="1.43" fill="#f4f4f4" opacity="0.78"/>
<circle cx="184.0" cy="661.1" r="1.24" fill="#f4f4f4" opacity="0.55"/>
<circle cx="185.5" cy="666.2" r="1.15" fill="#f4f4f4" opacity="0.90"/>
<circle cx="187.0" cy="671.4" r="1.08" fill="#f4f4f4" opacity="0.72"/>
<circle cx="146.1" cy="511.8" r="1.28" fill="#f4f4f4" opacity="0.63"/>
<circle cx="147.6" cy="517.0" r="1.34" fill="#f4f4f4" opacity="0.90"/>
<circle cx="149.1" cy="522.2" r="1.38" fill="#f4f4f4" opacity="0.82"/>
<circle cx="150.6" cy="527.4" r="1.11" fill="#f4f4f4" opacity="0.48"/>
<circle cx="152.1" cy="532.6" r="1.20" fill="#f4f4f4" opacity="0.61"/>
<circle cx="153.5" cy="537.8" r="1.10" fill="#f4f4f4" opacity="0.89"/>
<circle cx="155.0" cy="543.0" r="1.11" fill="#f4f4f4" opacity="0.86"/>
<circle cx="156.5" cy="548.2" r="1.41" fill="#f4f4f4" opacity="0.51"/>
<circle cx="158.0" cy="553.4" r="1.40" fill="#f4f4f4" opacity="0.65"/>
<circle cx="159.5" cy="558.5" r="1.11" fill="#f4f4f4" opacity="0.54"/>
<circle cx="161.0" cy="563.7" r="1.04" fill="#f4f4f4" opacity="0.70"/>
<circle cx="162.5" cy="568.9" r="1.18" fill="#f4f4f4" opacity="0.88"/>
<circle cx="164.0" cy="574.1" r="1.37" fill="#f4f4f4" opacity="0.48"/>
<circle cx="165.4" cy="579.3" r="1.19" fill="#f4f4f4" opacity="0.64"/>
<circle cx="166.9" cy="584.5" r="1.09" fill="#f4f4f4" opacity="0.58"/>
<circle cx="168.4" cy="589.7" r="1.13" fill="#f4f4f4" opacity="0.80"/>
<circle cx="169.9" cy="594.9" r="1.16" fill="#f4f4f4" opacity="0.51"/>
<circle cx="171.4" cy="600.1" r="1.11" fill="#f4f4f4" opacity="0.67"/>
<circle cx="172.9" cy="605.3" r="1.26" fill="#f4f4f4" opacity="0.57"/>
<circle cx="174.4" cy="610.5" r="1.31" fill="#f4f4f4" opacity="0.56"/>
<circle cx="175.9" cy="615.6" r="1.30" fill="#f4f4f4" opacity="0.75"/>
<circle cx="177.4" cy="620.8" r="1.09" fill="#f4f4f4" opacity="0.83"/>
<circle cx="178.8" cy="626.0" r="1.19" fill="#f4f4f4" opacity="0.72"/>
<circle cx="180.3" cy="631.2" r="1.27" fill="#f4f4f4" opacity="0.76"/>
<circle cx="181.8" cy="636.4" r="1.21" fill="#f4f4f4" opacity="0.48"/>
<circle cx="183.3" cy="641.6" r="1.35" fill="#f4f4f4" opacity="0.88"/>
<circle cx="184.8" cy="646.8" r="1.23" fill="#f4f4f4" opacity="0.74"/>
<circle cx="186.3" cy="652.0" r="1.13" fill="#f4f4f4" opacity="0.90"/>
<circle cx="187.8" cy="657.2" r="1.31" fill="#f4f4f4" opacity="0.56"/>
<circle cx="189.3" cy="662.4" r="1.36" fill="#f4f4f4" opacity="0.94"/>
<circle cx="190.7" cy="667.6" r="1.17" fill="#f4f4f4" opacity="0.95"/>
<circle cx="192.2" cy="672.7" r="1.22" fill="#f4f4f4" opacity="0.54"/>
<circle cx="151.3" cy="513.1" r="1.32" fill="#f4f4f4" opacity="0.62"/>
<circle cx="152.8" cy="518.3" r="1.33" fill="#f4f4f4" opacity="0.74"/>
<circle cx="154.3" cy="523.5" r="1.07" fill="#f4f4f4" opacity="0.71"/>
<circle cx="155.8" cy="528.7" r="1.38" fill="#f4f4f4" opacity="0.69"/>
<circle cx="157.3" cy="533.9" r="1.25" fill="#f4f4f4" opacity="0.88"/>
<circle cx="158.8" cy="539.1" r="1.21" fill="#f4f4f4" opacity="0.70"/>
<circle cx="160.3" cy="544.3" r="1.26" fill="#f4f4f4" opacity="0.86"/>
<circle cx="161.8" cy="549.5" r="1.11" fill="#f4f4f4" opacity="0.50"/>
<circle cx="163.2" cy="554.7" r="1.34" fill="#f4f4f4" opacity="0.73"/>
<circle cx="164.7" cy="559.9" r="1.15" fill="#f4f4f4" opacity="0.90"/>
<circle cx="166.2" cy="565.0" r="1.39" fill="#f4f4f4" opacity="0.72"/>
<circle cx="167.7" cy="570.2" r="1.44" fill="#f4f4f4" opacity="0.87"/>
<circle cx="169.2" cy="575.4" r="1.33" fill="#f4f4f4" opacity="0.60"/>
<circle cx="170.7" cy="580.6" r="1.02" fill="#f4f4f4" opacity="0.79"/>
<circle cx="172.2" cy="585.8" r="1.33" fill="#f4f4f4" opacity="0.63"/>
<circle cx="173.7" cy="591.0" r="1.22" fill="#f4f4f4" opacity="0.73"/>
<circle cx="175.2" cy="596.2" r="1.12" fill="#f4f4f4" opacity="0.80"/>
<circle cx="176.6" cy="601.4" r="1.26" fill="#f4f4f4" opacity="0.64"/>
<circle cx="178.1" cy="606.6" r="1.07" fill="#f4f4f4" opacity="0.73"/>
<circle cx="179.6" cy="611.8" r="1.15" fill="#f4f4f4" opacity="0.81"/>
<circle cx="181.1" cy="616.9" r="1.09" fill="#f4f4f4" opacity="0.65"/>
<circle cx="182.6" cy="622.1" r="1.10" fill="#f4f4f4" opacity="0.65"/>
<circle cx="184.1" cy="627.3" r="1.26" fill="#f4f4f4" opacity="0.50"/>
<circle cx="185.6" cy="632.5" r="1.04" fill="#f4f4f4" opacity="0.69"/>
<circle cx="187.1" cy="637.7" r="1.10" fill="#f4f4f4" opacity="0.70"/>
<circle cx="188.5" cy="642.9" r="1.09" fill="#f4f4f4" opacity="0.50"/>
<circle cx="190.0" cy="648.1" r="1.25" fill="#f4f4f4" opacity="0.91"/>
<circle cx="191.5" cy="653.3" r="1.38" fill="#f4f4f4" opacity="0.71"/>
<circle cx="193.0" cy="658.5" r="1.19" fill="#f4f4f4" opacity="0.48"/>
<circle cx="194.5" cy="663.7" r="1.14" fill="#f4f4f4" opacity="0.61"/>
<circle cx="196.0" cy="668.9" r="1.42" fill="#f4f4f4" opacity="0.51"/>
<circle cx="156.6" cy="514.4" r="1.42" fill="#f4f4f4" opacity="0.69"/>
<circle cx="158.1" cy="519.6" r="1.20" fill="#f4f4f4" opacity="0.58"/>
<circle cx="159.6" cy="524.8" r="1.42" fill="#f4f4f4" opacity="0.54"/>
<circle cx="161.0" cy="530.0" r="1.26" fill="#f4f4f4" opacity="0.71"/>
<circle cx="162.5" cy="535.2" r="1.10" fill="#f4f4f4" opacity="0.56"/>
<circle cx="164.0" cy="540.4" r="1.43" fill="#f4f4f4" opacity="0.85"/>
<circle cx="165.5" cy="545.6" r="1.33" fill="#f4f4f4" opacity="0.90"/>
<circle cx="167.0" cy="550.8" r="1.06" fill="#f4f4f4" opacity="0.80"/>
<circle cx="168.5" cy="556.0" r="1.34" fill="#f4f4f4" opacity="0.56"/>
<circle cx="170.0" cy="561.2" r="1.21" fill="#f4f4f4" opacity="0.94"/>
<circle cx="171.5" cy="566.3" r="1.16" fill="#f4f4f4" opacity="0.83"/>
<circle cx="172.9" cy="571.5" r="1.09" fill="#f4f4f4" opacity="0.78"/>
<circle cx="174.4" cy="576.7" r="1.13" fill="#f4f4f4" opacity="0.70"/>
<circle cx="175.9" cy="581.9" r="1.18" fill="#f4f4f4" opacity="0.89"/>
<circle cx="177.4" cy="587.1" r="1.33" fill="#f4f4f4" opacity="0.70"/>
<circle cx="178.9" cy="592.3" r="1.31" fill="#f4f4f4" opacity="0.66"/>
<circle cx="180.4" cy="597.5" r="1.36" fill="#f4f4f4" opacity="0.58"/>
<circle cx="181.9" cy="602.7" r="1.25" fill="#f4f4f4" opacity="0.74"/>
<circle cx="183.4" cy="607.9" r="1.18" fill="#f4f4f4" opacity="0.47"/>
<circle cx="184.9" cy="613.1" r="1.09" fill="#f4f4f4" opacity="0.77"/>
<circle cx="186.3" cy="618.3" r="1.11" fill="#f4f4f4" opacity="0.83"/>
<circle cx="187.8" cy="623.4" r="1.23" fill="#f4f4f4" opacity="0.93"/>
<circle cx="189.3" cy="628.6" r="1.38" fill="#f4f4f4" opacity="0.81"/>
<circle cx="190.8" cy="633.8" r="1.18" fill="#f4f4f4" opacity="0.47"/>
<circle cx="192.3" cy="639.0" r="1.25" fill="#f4f4f4" opacity="0.82"/>
<circle cx="193.8" cy="644.2" r="1.41" fill="#f4f4f4" opacity="0.55"/>
<circle cx="195.3" cy="649.4" r="1.09" fill="#f4f4f4" opacity="0.94"/>
<circle cx="196.8" cy="654.6" r="1.33" fill="#f4f4f4" opacity="0.69"/>
<circle cx="198.3" cy="659.8" r="1.33" fill="#f4f4f4" opacity="0.52"/>
<circle cx="199.7" cy="665.0" r="1.25" fill="#f4f4f4" opacity="0.78"/>
<circle cx="201.2" cy="670.2" r="1.27" fill="#f4f4f4" opacity="0.53"/>
<circle cx="160.3" cy="510.6" r="1.08" fill="#f4f4f4" opacity="0.76"/>
<circle cx="161.8" cy="515.7" r="1.39" fill="#f4f4f4" opacity="0.52"/>
<circle cx="163.3" cy="520.9" r="1.02" fill="#f4f4f4" opacity="0.49"/>
<circle cx="164.8" cy="526.1" r="1.35" fill="#f4f4f4" opacity="0.65"/>
<circle cx="166.3" cy="531.3" r="1.21" fill="#f4f4f4" opacity="0.95"/>
<circle cx="167.8" cy="536.5" r="1.28" fill="#f4f4f4" opacity="0.58"/>
<circle cx="169.3" cy="541.7" r="1.31" fill="#f4f4f4" opacity="0.45"/>
<circle cx="170.7" cy="546.9" r="1.14" fill="#f4f4f4" opacity="0.80"/>
<circle cx="172.2" cy="552.1" r="1.09" fill="#f4f4f4" opacity="0.47"/>
<circle cx="173.7" cy="557.3" r="1.24" fill="#f4f4f4" opacity="0.61"/>
<circle cx="175.2" cy="562.5" r="1.43" fill="#f4f4f4" opacity="0.50"/>
<circle cx="176.7" cy="567.7" r="1.36" fill="#f4f4f4" opacity="0.64"/>
<circle cx="178.2" cy="572.8" r="1.36" fill="#f4f4f4" opacity="0.67"/>
<circle cx="179.7" cy="578.0" r="1.30" fill="#f4f4f4" opacity="0.61"/>
<circle cx="181.2" cy="583.2" r="1.11" fill="#f4f4f4" opacity="0.68"/>
<circle cx="182.7" cy="588.4" r="1.36" fill="#f4f4f4" opacity="0.62"/>
<circle cx="184.1" cy="593.6" r="1.12" fill="#f4f4f4" opacity="0.66"/>
<circle cx="185.6" cy="598.8" r="1.06" fill="#f4f4f4" opacity="0.61"/>
<circle cx="187.1" cy="604.0" r="1.26" fill="#f4f4f4" opacity="0.72"/>
<circle cx="188.6" cy="609.2" r="1.27" fill="#f4f4f4" opacity="0.60"/>
<circle cx="190.1" cy="614.4" r="1.03" fill="#f4f4f4" opacity="0.46"/>
<circle cx="191.6" cy="619.6" r="1.16" fill="#f4f4f4" opacity="0.55"/>
<circle cx="193.1" cy="624.8" r="1.26" fill="#f4f4f4" opacity="0.58"/>
<circle cx="194.6" cy="629.9" r="1.34" fill="#f4f4f4" opacity="0.75"/>
<circle cx="196.0" cy="635.1" r="1.30" fill="#f4f4f4" opacity="0.82"/>
<circle cx="197.5" cy="640.3" r="1.24" fill="#f4f4f4" opacity="0.66"/>
<circle cx="199.0" cy="645.5" r="1.15" fill="#f4f4f4" opacity="0.48"/>
<circle cx="200.5" cy="650.7" r="1.35" fill="#f4f4f4" opacity="0.70"/>
<circle cx="202.0" cy="655.9" r="1.06" fill="#f4f4f4" opacity="0.91"/>
<circle cx="203.5" cy="661.1" r="1.26" fill="#f4f4f4" opacity="0.76"/>
<circle cx="205.0" cy="666.3" r="1.20" fill="#f4f4f4" opacity="0.51"/>
<circle cx="206.5" cy="671.5" r="1.44" fill="#f4f4f4" opacity="0.53"/>
<circle cx="165.6" cy="511.9" r="1.17" fill="#f4f4f4" opacity="0.95"/>
<circle cx="167.1" cy="517.1" r="1.07" fill="#f4f4f4" opacity="0.70"/>
<circle cx="168.5" cy="522.2" r="1.22" fill="#f4f4f4" opacity="0.57"/>
<circle cx="170.0" cy="527.4" r="1.41" fill="#f4f4f4" opacity="0.66"/>
<circle cx="171.5" cy="532.6" r="1.02" fill="#f4f4f4" opacity="0.69"/>
<circle cx="173.0" cy="537.8" r="1.02" fill="#f4f4f4" opacity="0.80"/>
<circle cx="174.5" cy="543.0" r="1.38" fill="#f4f4f4" opacity="0.90"/>
<circle cx="176.0" cy="548.2" r="1.04" fill="#f4f4f4" opacity="0.79"/>
<circle cx="177.5" cy="553.4" r="1.15" fill="#f4f4f4" opacity="0.69"/>
<circle cx="179.0" cy="558.6" r="1.15" fill="#f4f4f4" opacity="0.60"/>
<circle cx="180.5" cy="563.8" r="1.08" fill="#f4f4f4" opacity="0.76"/>
<circle cx="181.9" cy="569.0" r="1.06" fill="#f4f4f4" opacity="0.93"/>
<circle cx="183.4" cy="574.2" r="1.04" fill="#f4f4f4" opacity="0.93"/>
<circle cx="184.9" cy="579.3" r="1.10" fill="#f4f4f4" opacity="0.49"/>
<circle cx="186.4" cy="584.5" r="1.33" fill="#f4f4f4" opacity="0.72"/>
<circle cx="187.9" cy="589.7" r="1.34" fill="#f4f4f4" opacity="0.70"/>
<circle cx="189.4" cy="594.9" r="1.28" fill="#f4f4f4" opacity="0.49"/>
<circle cx="190.9" cy="600.1" r="1.30" fill="#f4f4f4" opacity="0.71"/>
<circle cx="192.4" cy="605.3" r="1.42" fill="#f4f4f4" opacity="0.45"/>
<circle cx="193.8" cy="610.5" r="1.05" fill="#f4f4f4" opacity="0.79"/>
<circle cx="195.3" cy="615.7" r="1.41" fill="#f4f4f4" opacity="0.66"/>
<circle cx="196.8" cy="620.9" r="1.32" fill="#f4f4f4" opacity="0.73"/>
<circle cx="198.3" cy="626.1" r="1.18" fill="#f4f4f4" opacity="0.68"/>
<circle cx="199.8" cy="631.3" r="1.27" fill="#f4f4f4" opacity="0.46"/>
<circle cx="201.3" cy="636.4" r="1.15" fill="#f4f4f4" opacity="0.82"/>
<circle cx="202.8" cy="641.6" r="1.13" fill="#f4f4f4" opacity="0.69"/>
<circle cx="204.3" cy="646.8" r="1.13" fill="#f4f4f4" opacity="0.63"/>
<circle cx="205.8" cy="652.0" r="1.29" fill="#f4f4f4" opacity="0.82"/>
<circle cx="207.2" cy="657.2" r="1.42" fill="#f4f4f4" opacity="0.69"/>
<circle cx="208.7" cy="662.4" r="1.11" fill="#f4f4f4" opacity="0.62"/>
<circle cx="210.2" cy="667.6" r="1.04" fill="#f4f4f4" opacity="0.57"/>
<circle cx="211.7" cy="672.8" r="1.27" fill="#f4f4f4" opacity="0.76"/>
<circle cx="170.8" cy="513.2" r="1.12" fill="#f4f4f4" opacity="0.54"/>
<circle cx="172.3" cy="518.4" r="1.06" fill="#f4f4f4" opacity="0.54"/>
<circle cx="173.8" cy="523.5" r="1.23" fill="#f4f4f4" opacity="0.58"/>
<circle cx="175.3" cy="528.7" r="1.39" fill="#f4f4f4" opacity="0.73"/>
<circle cx="176.8" cy="533.9" r="1.16" fill="#f4f4f4" opacity="0.67"/>
<circle cx="178.2" cy="539.1" r="1.04" fill="#f4f4f4" opacity="0.82"/>
<circle cx="179.7" cy="544.3" r="1.34" fill="#f4f4f4" opacity="0.63"/>
<circle cx="181.2" cy="549.5" r="1.32" fill="#f4f4f4" opacity="0.59"/>
<circle cx="182.7" cy="554.7" r="1.11" fill="#f4f4f4" opacity="0.56"/>
<circle cx="184.2" cy="559.9" r="1.10" fill="#f4f4f4" opacity="0.75"/>
<circle cx="185.7" cy="565.1" r="1.29" fill="#f4f4f4" opacity="0.81"/>
<circle cx="187.2" cy="570.3" r="1.06" fill="#f4f4f4" opacity="0.83"/>
<circle cx="188.7" cy="575.5" r="1.22" fill="#f4f4f4" opacity="0.64"/>
<circle cx="190.2" cy="580.6" r="1.23" fill="#f4f4f4" opacity="0.67"/>
<circle cx="191.6" cy="585.8" r="1.10" fill="#f4f4f4" opacity="0.65"/>
<circle cx="193.1" cy="591.0" r="1.29" fill="#f4f4f4" opacity="0.81"/>
<circle cx="194.6" cy="596.2" r="1.40" fill="#f4f4f4" opacity="0.55"/>
<circle cx="196.1" cy="601.4" r="1.39" fill="#f4f4f4" opacity="0.85"/>
<circle cx="197.6" cy="606.6" r="1.32" fill="#f4f4f4" opacity="0.94"/>
<circle cx="199.1" cy="611.8" r="1.08" fill="#f4f4f4" opacity="0.84"/>
<circle cx="200.6" cy="617.0" r="1.40" fill="#f4f4f4" opacity="0.51"/>
<circle cx="202.1" cy="622.2" r="1.27" fill="#f4f4f4" opacity="0.92"/>
<circle cx="203.6" cy="627.4" r="1.14" fill="#f4f4f4" opacity="0.88"/>
<circle cx="205.0" cy="632.6" r="1.40" fill="#f4f4f4" opacity="0.67"/>
<circle cx="206.5" cy="637.7" r="1.08" fill="#f4f4f4" opacity="0.56"/>
<circle cx="208.0" cy="642.9" r="1.37" fill="#f4f4f4" opacity="0.66"/>
<circle cx="209.5" cy="648.1" r="1.15" fill="#f4f4f4" opacity="0.67"/>
<circle cx="211.0" cy="653.3" r="1.41" fill="#f4f4f4" opacity="0.58"/>
<circle cx="212.5" cy="658.5" r="1.03" fill="#f4f4f4" opacity="0.92"/>
<circle cx="214.0" cy="663.7" r="1.15" fill="#f4f4f4" opacity="0.64"/>
<circle cx="215.5" cy="668.9" r="1.43" fill="#f4f4f4" opacity="0.59"/>
<circle cx="176.0" cy="514.5" r="1.06" fill="#f4f4f4" opacity="0.89"/>
<circle cx="177.5" cy="519.7" r="1.12" fill="#f4f4f4" opacity="0.56"/>
<circle cx="179.0" cy="524.9" r="1.41" fill="#f4f4f4" opacity="0.56"/>
<circle cx="180.5" cy="530.0" r="1.40" fill="#f4f4f4" opacity="0.62"/>
<circle cx="182.0" cy="535.2" r="1.15" fill="#f4f4f4" opacity="0.56"/>
<circle cx="183.5" cy="540.4" r="1.25" fill="#f4f4f4" opacity="0.73"/>
<circle cx="185.0" cy="545.6" r="1.19" fill="#f4f4f4" opacity="0.70"/>
<circle cx="186.5" cy="550.8" r="1.15" fill="#f4f4f4" opacity="0.87"/>
<circle cx="188.0" cy="556.0" r="1.41" fill="#f4f4f4" opacity="0.83"/>
<circle cx="189.4" cy="561.2" r="1.36" fill="#f4f4f4" opacity="0.49"/>
<circle cx="190.9" cy="566.4" r="1.13" fill="#f4f4f4" opacity="0.55"/>
<circle cx="192.4" cy="571.6" r="1.09" fill="#f4f4f4" opacity="0.93"/>
<circle cx="193.9" cy="576.8" r="1.40" fill="#f4f4f4" opacity="0.91"/>
<circle cx="195.4" cy="582.0" r="1.25" fill="#f4f4f4" opacity="0.51"/>
<circle cx="196.9" cy="587.1" r="1.20" fill="#f4f4f4" opacity="0.48"/>
<circle cx="198.4" cy="592.3" r="1.40" fill="#f4f4f4" opacity="0.58"/>
<circle cx="199.9" cy="597.5" r="1.14" fill="#f4f4f4" opacity="0.92"/>
<circle cx="201.3" cy="602.7" r="1.10" fill="#f4f4f4" opacity="0.91"/>
<circle cx="202.8" cy="607.9" r="1.15" fill="#f4f4f4" opacity="0.78"/>
<circle cx="204.3" cy="613.1" r="1.06" fill="#f4f4f4" opacity="0.90"/>
<circle cx="205.8" cy="618.3" r="1.19" fill="#f4f4f4" opacity="0.62"/>
<circle cx="207.3" cy="623.5" r="1.29" fill="#f4f4f4" opacity="0.75"/>
<circle cx="208.8" cy="628.7" r="1.13" fill="#f4f4f4" opacity="0.51"/>
<circle cx="210.3" cy="633.9" r="1.26" fill="#f4f4f4" opacity="0.46"/>
<circle cx="211.8" cy="639.1" r="1.39" fill="#f4f4f4" opacity="0.62"/>
<circle cx="213.3" cy="644.2" r="1.09" fill="#f4f4f4" opacity="0.61"/>
<circle cx="214.7" cy="649.4" r="1.07" fill="#f4f4f4" opacity="0.61"/>
<circle cx="216.2" cy="654.6" r="1.25" fill="#f4f4f4" opacity="0.65"/>
<circle cx="217.7" cy="659.8" r="1.16" fill="#f4f4f4" opacity="0.60"/>
<circle cx="219.2" cy="665.0" r="1.22" fill="#f4f4f4" opacity="0.84"/>
<circle cx="220.7" cy="670.2" r="1.20" fill="#f4f4f4" opacity="0.83"/>
<circle cx="179.8" cy="510.6" r="1.22" fill="#f4f4f4" opacity="0.51"/>
<circle cx="181.3" cy="515.8" r="1.09" fill="#f4f4f4" opacity="0.87"/>
<circle cx="182.8" cy="521.0" r="1.22" fill="#f4f4f4" opacity="0.64"/>
<circle cx="184.3" cy="526.2" r="1.24" fill="#f4f4f4" opacity="0.87"/>
<circle cx="185.8" cy="531.4" r="1.18" fill="#f4f4f4" opacity="0.63"/>
<circle cx="187.2" cy="536.5" r="1.17" fill="#f4f4f4" opacity="0.46"/>
<circle cx="188.7" cy="541.7" r="1.25" fill="#f4f4f4" opacity="0.69"/>
<circle cx="190.2" cy="546.9" r="1.23" fill="#f4f4f4" opacity="0.68"/>
<circle cx="191.7" cy="552.1" r="1.22" fill="#f4f4f4" opacity="0.81"/>
<circle cx="193.2" cy="557.3" r="1.10" fill="#f4f4f4" opacity="0.94"/>
<circle cx="194.7" cy="562.5" r="1.07" fill="#f4f4f4" opacity="0.88"/>
<circle cx="196.2" cy="567.7" r="1.09" fill="#f4f4f4" opacity="0.85"/>
<circle cx="197.7" cy="572.9" r="1.13" fill="#f4f4f4" opacity="0.49"/>
<circle cx="199.1" cy="578.1" r="1.25" fill="#f4f4f4" opacity="0.87"/>
<circle cx="200.6" cy="583.3" r="1.38" fill="#f4f4f4" opacity="0.89"/>
<circle cx="202.1" cy="588.5" r="1.43" fill="#f4f4f4" opacity="0.48"/>
<circle cx="203.6" cy="593.6" r="1.18" fill="#f4f4f4" opacity="0.50"/>
<circle cx="205.1" cy="598.8" r="1.34" fill="#f4f4f4" opacity="0.68"/>
<circle cx="206.6" cy="604.0" r="1.33" fill="#f4f4f4" opacity="0.85"/>
<circle cx="208.1" cy="609.2" r="1.44" fill="#f4f4f4" opacity="0.79"/>
<circle cx="209.6" cy="614.4" r="1.39" fill="#f4f4f4" opacity="0.72"/>
<circle cx="211.1" cy="619.6" r="1.05" fill="#f4f4f4" opacity="0.90"/>
<circle cx="212.5" cy="624.8" r="1.06" fill="#f4f4f4" opacity="0.49"/>
<circle cx="214.0" cy="630.0" r="1.37" fill="#f4f4f4" opacity="0.59"/>
<circle cx="215.5" cy="635.2" r="1.30" fill="#f4f4f4" opacity="0.46"/>
<circle cx="217.0" cy="640.4" r="1.11" fill="#f4f4f4" opacity="0.81"/>
<circle cx="218.5" cy="645.6" r="1.04" fill="#f4f4f4" opacity="0.71"/>
<circle cx="220.0" cy="650.7" r="1.41" fill="#f4f4f4" opacity="0.56"/>
<circle cx="221.5" cy="655.9" r="1.32" fill="#f4f4f4" opacity="0.82"/>
<circle cx="223.0" cy="661.1" r="1.28" fill="#f4f4f4" opacity="0.83"/>
<circle cx="224.4" cy="666.3" r="1.31" fill="#f4f4f4" opacity="0.46"/>
<circle cx="225.9" cy="671.5" r="1.10" fill="#f4f4f4" opacity="0.72"/>
<circle cx="185.0" cy="511.9" r="1.43" fill="#f4f4f4" opacity="0.56"/>
<circle cx="186.5" cy="517.1" r="1.27" fill="#f4f4f4" opacity="0.51"/>
<circle cx="188.0" cy="522.3" r="1.38" fill="#f4f4f4" opacity="0.67"/>
<circle cx="189.5" cy="527.5" r="1.24" fill="#f4f4f4" opacity="0.78"/>
<circle cx="191.0" cy="532.7" r="1.08" fill="#f4f4f4" opacity="0.81"/>
<circle cx="192.5" cy="537.9" r="1.36" fill="#f4f4f4" opacity="0.88"/>
<circle cx="194.0" cy="543.0" r="1.14" fill="#f4f4f4" opacity="0.57"/>
<circle cx="195.5" cy="548.2" r="1.09" fill="#f4f4f4" opacity="0.90"/>
<circle cx="196.9" cy="553.4" r="1.20" fill="#f4f4f4" opacity="0.64"/>
<circle cx="198.4" cy="558.6" r="1.24" fill="#f4f4f4" opacity="0.80"/>
<circle cx="199.9" cy="563.8" r="1.15" fill="#f4f4f4" opacity="0.62"/>
<circle cx="201.4" cy="569.0" r="1.34" fill="#f4f4f4" opacity="0.84"/>
<circle cx="202.9" cy="574.2" r="1.14" fill="#f4f4f4" opacity="0.49"/>
<circle cx="204.4" cy="579.4" r="1.41" fill="#f4f4f4" opacity="0.81"/>
<circle cx="205.9" cy="584.6" r="1.27" fill="#f4f4f4" opacity="0.65"/>
<circle cx="207.4" cy="589.8" r="1.42" fill="#f4f4f4" opacity="0.67"/>
<circle cx="208.9" cy="594.9" r="1.11" fill="#f4f4f4" opacity="0.50"/>
<circle cx="210.3" cy="600.1" r="1.17" fill="#f4f4f4" opacity="0.75"/>
<circle cx="211.8" cy="605.3" r="1.17" fill="#f4f4f4" opacity="0.92"/>
<circle cx="213.3" cy="610.5" r="1.29" fill="#f4f4f4" opacity="0.68"/>
<circle cx="214.8" cy="615.7" r="1.30" fill="#f4f4f4" opacity="0.75"/>
<circle cx="216.3" cy="620.9" r="1.28" fill="#f4f4f4" opacity="0.70"/>
<circle cx="217.8" cy="626.1" r="1.24" fill="#f4f4f4" opacity="0.70"/>
<circle cx="219.3" cy="631.3" r="1.37" fill="#f4f4f4" opacity="0.55"/>
<circle cx="220.8" cy="636.5" r="1.35" fill="#f4f4f4" opacity="0.60"/>
<circle cx="222.2" cy="641.7" r="1.38" fill="#f4f4f4" opacity="0.49"/>
<circle cx="223.7" cy="646.9" r="1.22" fill="#f4f4f4" opacity="0.67"/>
<circle cx="225.2" cy="652.0" r="1.32" fill="#f4f4f4" opacity="0.55"/>
<circle cx="226.7" cy="657.2" r="1.13" fill="#f4f4f4" opacity="0.52"/>
<circle cx="228.2" cy="662.4" r="1.26" fill="#f4f4f4" opacity="0.74"/>
<circle cx="229.7" cy="667.6" r="1.02" fill="#f4f4f4" opacity="0.54"/>
<circle cx="231.2" cy="672.8" r="1.10" fill="#f4f4f4" opacity="0.93"/>
<circle cx="190.3" cy="513.2" r="1.21" fill="#f4f4f4" opacity="0.73"/>
<circle cx="191.8" cy="518.4" r="1.14" fill="#f4f4f4" opacity="0.78"/>
<circle cx="193.3" cy="523.6" r="1.36" fill="#f4f4f4" opacity="0.79"/>
<circle cx="194.7" cy="528.8" r="1.02" fill="#f4f4f4" opacity="0.67"/>
<circle cx="196.2" cy="534.0" r="1.23" fill="#f4f4f4" opacity="0.47"/>
<circle cx="197.7" cy="539.2" r="1.35" fill="#f4f4f4" opacity="0.61"/>
<circle cx="199.2" cy="544.3" r="1.14" fill="#f4f4f4" opacity="0.76"/>
<circle cx="200.7" cy="549.5" r="1.27" fill="#f4f4f4" opacity="0.70"/>
<circle cx="202.2" cy="554.7" r="1.38" fill="#f4f4f4" opacity="0.71"/>
<circle cx="203.7" cy="559.9" r="1.16" fill="#f4f4f4" opacity="0.48"/>
<circle cx="205.2" cy="565.1" r="1.25" fill="#f4f4f4" opacity="0.63"/>
<circle cx="206.6" cy="570.3" r="1.25" fill="#f4f4f4" opacity="0.62"/>
<circle cx="208.1" cy="575.5" r="1.02" fill="#f4f4f4" opacity="0.47"/>
<circle cx="209.6" cy="580.7" r="1.09" fill="#f4f4f4" opacity="0.50"/>
<circle cx="211.1" cy="585.9" r="1.38" fill="#f4f4f4" opacity="0.74"/>
<circle cx="212.6" cy="591.1" r="1.12" fill="#f4f4f4" opacity="0.81"/>
<circle cx="214.1" cy="596.3" r="1.29" fill="#f4f4f4" opacity="0.48"/>
<circle cx="215.6" cy="601.4" r="1.34" fill="#f4f4f4" opacity="0.56"/>
<circle cx="217.1" cy="606.6" r="1.44" fill="#f4f4f4" opacity="0.52"/>
<circle cx="218.6" cy="611.8" r="1.14" fill="#f4f4f4" opacity="0.57"/>
<circle cx="220.0" cy="617.0" r="1.38" fill="#f4f4f4" opacity="0.86"/>
<circle cx="221.5" cy="622.2" r="1.26" fill="#f4f4f4" opacity="0.52"/>
<circle cx="223.0" cy="627.4" r="1.20" fill="#f4f4f4" opacity="0.80"/>
<circle cx="224.5" cy="632.6" r="1.04" fill="#f4f4f4" opacity="0.91"/>
<circle cx="226.0" cy="637.8" r="1.37" fill="#f4f4f4" opacity="0.92"/>
<circle cx="227.5" cy="643.0" r="1.31" fill="#f4f4f4" opacity="0.76"/>
<circle cx="229.0" cy="648.2" r="1.43" fill="#f4f4f4" opacity="0.58"/>
<circle cx="230.5" cy="653.4" r="1.15" fill="#f4f4f4" opacity="0.51"/>
<circle cx="232.0" cy="658.5" r="1.10" fill="#f4f4f4" opacity="0.85"/>
<circle cx="233.4" cy="663.7" r="1.06" fill="#f4f4f4" opacity="0.82"/>
<circle cx="234.9" cy="668.9" r="1.19" fill="#f4f4f4" opacity="0.89"/>
<circle cx="195.5" cy="514.5" r="1.34" fill="#f4f4f4" opacity="0.79"/>
<circle cx="197.0" cy="519.7" r="1.37" fill="#f4f4f4" opacity="0.47"/>
<circle cx="198.5" cy="524.9" r="1.13" fill="#f4f4f4" opacity="0.63"/>
<circle cx="200.0" cy="530.1" r="1.20" fill="#f4f4f4" opacity="0.79"/>
<circle cx="201.5" cy="535.3" r="1.39" fill="#f4f4f4" opacity="0.82"/>
<circle cx="203.0" cy="540.5" r="1.41" fill="#f4f4f4" opacity="0.80"/>
<circle cx="204.4" cy="545.7" r="1.17" fill="#f4f4f4" opacity="0.70"/>
<circle cx="205.9" cy="550.8" r="1.33" fill="#f4f4f4" opacity="0.86"/>
<circle cx="207.4" cy="556.0" r="1.18" fill="#f4f4f4" opacity="0.63"/>
<circle cx="208.9" cy="561.2" r="1.28" fill="#f4f4f4" opacity="0.56"/>
<circle cx="210.4" cy="566.4" r="1.39" fill="#f4f4f4" opacity="0.45"/>
<circle cx="211.9" cy="571.6" r="1.29" fill="#f4f4f4" opacity="0.69"/>
<circle cx="213.4" cy="576.8" r="1.10" fill="#f4f4f4" opacity="0.74"/>
<circle cx="214.9" cy="582.0" r="1.22" fill="#f4f4f4" opacity="0.93"/>
<circle cx="216.4" cy="587.2" r="1.39" fill="#f4f4f4" opacity="0.74"/>
<circle cx="217.8" cy="592.4" r="1.39" fill="#f4f4f4" opacity="0.89"/>
<circle cx="219.3" cy="597.6" r="1.09" fill="#f4f4f4" opacity="0.86"/>
<circle cx="220.8" cy="602.8" r="1.37" fill="#f4f4f4" opacity="0.95"/>
<circle cx="222.3" cy="607.9" r="1.34" fill="#f4f4f4" opacity="0.65"/>
<circle cx="223.8" cy="613.1" r="1.11" fill="#f4f4f4" opacity="0.78"/>
<circle cx="225.3" cy="618.3" r="1.11" fill="#f4f4f4" opacity="0.83"/>
<circle cx="226.8" cy="623.5" r="1.26" fill="#f4f4f4" opacity="0.86"/>
<circle cx="228.3" cy="628.7" r="1.17" fill="#f4f4f4" opacity="0.60"/>
<circle cx="229.7" cy="633.9" r="1.40" fill="#f4f4f4" opacity="0.78"/>
<circle cx="231.2" cy="639.1" r="1.18" fill="#f4f4f4" opacity="0.73"/>
<circle cx="232.7" cy="644.3" r="1.20" fill="#f4f4f4" opacity="0.77"/>
<circle cx="234.2" cy="649.5" r="1.24" fill="#f4f4f4" opacity="0.59"/>
<circle cx="235.7" cy="654.7" r="1.43" fill="#f4f4f4" opacity="0.89"/>
<circle cx="237.2" cy="659.9" r="1.34" fill="#f4f4f4" opacity="0.59"/>
<circle cx="238.7" cy="665.0" r="1.10" fill="#f4f4f4" opacity="0.82"/>
<circle cx="240.2" cy="670.2" r="1.37" fill="#f4f4f4" opacity="0.78"/>
<circle cx="199.3" cy="510.6" r="1.11" fill="#f4f4f4" opacity="0.81"/>
<circle cx="200.8" cy="515.8" r="1.24" fill="#f4f4f4" opacity="0.64"/>
<circle cx="202.2" cy="521.0" r="1.27" fill="#f4f4f4" opacity="0.67"/>
<circle cx="203.7" cy="526.2" r="1.29" fill="#f4f4f4" opacity="0.83"/>
<circle cx="205.2" cy="531.4" r="1.43" fill="#f4f4f4" opacity="0.51"/>
<circle cx="206.7" cy="536.6" r="1.26" fill="#f4f4f4" opacity="0.92"/>
<circle cx="208.2" cy="541.8" r="1.30" fill="#f4f4f4" opacity="0.74"/>
<circle cx="209.7" cy="547.0" r="1.38" fill="#f4f4f4" opacity="0.47"/>
<circle cx="211.2" cy="552.2" r="1.35" fill="#f4f4f4" opacity="0.76"/>
<circle cx="212.7" cy="557.3" r="1.27" fill="#f4f4f4" opacity="0.61"/>
<circle cx="214.2" cy="562.5" r="1.28" fill="#f4f4f4" opacity="0.51"/>
<circle cx="215.6" cy="567.7" r="1.24" fill="#f4f4f4" opacity="0.58"/>
<circle cx="217.1" cy="572.9" r="1.41" fill="#f4f4f4" opacity="0.85"/>
<circle cx="218.6" cy="578.1" r="1.22" fill="#f4f4f4" opacity="0.83"/>
<circle cx="220.1" cy="583.3" r="1.18" fill="#f4f4f4" opacity="0.71"/>
<circle cx="221.6" cy="588.5" r="1.09" fill="#f4f4f4" opacity="0.88"/>
<circle cx="223.1" cy="593.7" r="1.34" fill="#f4f4f4" opacity="0.83"/>
<circle cx="224.6" cy="598.9" r="1.05" fill="#f4f4f4" opacity="0.86"/>
<circle cx="226.1" cy="604.1" r="1.03" fill="#f4f4f4" opacity="0.73"/>
<circle cx="227.5" cy="609.2" r="1.22" fill="#f4f4f4" opacity="0.48"/>
<circle cx="229.0" cy="614.4" r="1.20" fill="#f4f4f4" opacity="0.89"/>
<circle cx="230.5" cy="619.6" r="1.28" fill="#f4f4f4" opacity="0.61"/>
<circle cx="232.0" cy="624.8" r="1.36" fill="#f4f4f4" opacity="0.63"/>
<circle cx="233.5" cy="630.0" r="1.40" fill="#f4f4f4" opacity="0.65"/>
<circle cx="235.0" cy="635.2" r="1.05" fill="#f4f4f4" opacity="0.94"/>
<circle cx="236.5" cy="640.4" r="1.05" fill="#f4f4f4" opacity="0.58"/>
<circle cx="238.0" cy="645.6" r="1.34" fill="#f4f4f4" opacity="0.51"/>
<circle cx="239.5" cy="650.8" r="1.25" fill="#f4f4f4" opacity="0.88"/>
<circle cx="240.9" cy="656.0" r="1.27" fill="#f4f4f4" opacity="0.62"/>
<circle cx="242.4" cy="661.2" r="1.34" fill="#f4f4f4" opacity="0.86"/>
<circle cx="243.9" cy="666.3" r="1.26" fill="#f4f4f4" opacity="0.76"/>
<circle cx="204.5" cy="511.9" r="1.16" fill="#f4f4f4" opacity="0.65"/>
<circle cx="206.0" cy="517.1" r="1.44" fill="#f4f4f4" opacity="0.94"/>
<circle cx="207.5" cy="522.3" r="1.02" fill="#f4f4f4" opacity="0.55"/>
<circle cx="209.0" cy="527.5" r="1.11" fill="#f4f4f4" opacity="0.85"/>
<circle cx="210.5" cy="532.7" r="1.10" fill="#f4f4f4" opacity="0.53"/>
<circle cx="211.9" cy="537.9" r="1.34" fill="#f4f4f4" opacity="0.53"/>
<circle cx="213.4" cy="543.1" r="1.43" fill="#f4f4f4" opacity="0.68"/>
<circle cx="214.9" cy="548.3" r="1.40" fill="#f4f4f4" opacity="0.86"/>
<circle cx="216.4" cy="553.5" r="1.11" fill="#f4f4f4" opacity="0.84"/>
<circle cx="217.9" cy="558.6" r="1.19" fill="#f4f4f4" opacity="0.56"/>
<circle cx="219.4" cy="563.8" r="1.04" fill="#f4f4f4" opacity="0.80"/>
<circle cx="220.9" cy="569.0" r="1.26" fill="#f4f4f4" opacity="0.60"/>
<circle cx="222.4" cy="574.2" r="1.37" fill="#f4f4f4" opacity="0.55"/>
<circle cx="223.9" cy="579.4" r="1.21" fill="#f4f4f4" opacity="0.49"/>
<circle cx="225.3" cy="584.6" r="1.17" fill="#f4f4f4" opacity="0.89"/>
<circle cx="226.8" cy="589.8" r="1.23" fill="#f4f4f4" opacity="0.53"/>
<circle cx="228.3" cy="595.0" r="1.12" fill="#f4f4f4" opacity="0.77"/>
<circle cx="229.8" cy="600.2" r="1.14" fill="#f4f4f4" opacity="0.89"/>
<circle cx="231.3" cy="605.4" r="1.05" fill="#f4f4f4" opacity="0.88"/>
<circle cx="232.8" cy="610.6" r="1.28" fill="#f4f4f4" opacity="0.86"/>
<circle cx="234.3" cy="615.7" r="1.17" fill="#f4f4f4" opacity="0.48"/>
<circle cx="235.8" cy="620.9" r="1.09" fill="#f4f4f4" opacity="0.76"/>
<circle cx="237.3" cy="626.1" r="1.03" fill="#f4f4f4" opacity="0.51"/>
<circle cx="238.7" cy="631.3" r="1.35" fill="#f4f4f4" opacity="0.89"/>
<circle cx="240.2" cy="636.5" r="1.38" fill="#f4f4f4" opacity="0.87"/>
<circle cx="241.7" cy="641.7" r="1.25" fill="#f4f4f4" opacity="0.89"/>
<circle cx="243.2" cy="646.9" r="1.31" fill="#f4f4f4" opacity="0.73"/>
<circle cx="209.7" cy="513.2" r="1.20" fill="#f4f4f4" opacity="0.46"/>
<circle cx="211.2" cy="518.4" r="1.06" fill="#f4f4f4" opacity="0.57"/>
<circle cx="212.7" cy="523.6" r="1.21" fill="#f4f4f4" opacity="0.51"/>
<circle cx="214.2" cy="528.8" r="1.43" fill="#f4f4f4" opacity="0.74"/>
<circle cx="215.7" cy="534.0" r="1.33" fill="#f4f4f4" opacity="0.90"/>
<circle cx="217.2" cy="539.2" r="1.12" fill="#f4f4f4" opacity="0.89"/>
<circle cx="218.7" cy="544.4" r="1.42" fill="#f4f4f4" opacity="0.58"/>
<circle cx="220.2" cy="549.6" r="1.07" fill="#f4f4f4" opacity="0.85"/>
<circle cx="221.7" cy="554.8" r="1.39" fill="#f4f4f4" opacity="0.85"/>
<circle cx="223.1" cy="560.0" r="1.19" fill="#f4f4f4" opacity="0.75"/>
<circle cx="224.6" cy="565.1" r="1.07" fill="#f4f4f4" opacity="0.57"/>
<circle cx="226.1" cy="570.3" r="1.20" fill="#f4f4f4" opacity="0.82"/>
<circle cx="227.6" cy="575.5" r="1.06" fill="#f4f4f4" opacity="0.91"/>
<circle cx="229.1" cy="580.7" r="1.03" fill="#f4f4f4" opacity="0.93"/>
<circle cx="230.6" cy="585.9" r="1.12" fill="#f4f4f4" opacity="0.86"/>
<circle cx="232.1" cy="591.1" r="1.36" fill="#f4f4f4" opacity="0.93"/>
<circle cx="233.6" cy="596.3" r="1.22" fill="#f4f4f4" opacity="0.80"/>
<circle cx="235.0" cy="601.5" r="1.14" fill="#f4f4f4" opacity="0.87"/>
<circle cx="236.5" cy="606.7" r="1.07" fill="#f4f4f4" opacity="0.89"/>
<circle cx="238.0" cy="611.9" r="1.27" fill="#f4f4f4" opacity="0.48"/>
<circle cx="239.5" cy="617.1" r="1.42" fill="#f4f4f4" opacity="0.61"/>
<circle cx="241.0" cy="622.2" r="1.05" fill="#f4f4f4" opacity="0.58"/>
<circle cx="242.5" cy="627.4" r="1.03" fill="#f4f4f4" opacity="0.59"/>
<circle cx="244.0" cy="632.6" r="1.32" fill="#f4f4f4" opacity="0.94"/>
<circle cx="215.0" cy="514.5" r="1.29" fill="#f4f4f4" opacity="0.88"/>
<circle cx="216.5" cy="519.7" r="1.37" fill="#f4f4f4" opacity="0.81"/>
<circle cx="218.0" cy="524.9" r="1.18" fill="#f4f4f4" opacity="0.58"/>
<circle cx="219.5" cy="530.1" r="1.09" fill="#f4f4f4" opacity="0.72"/>
<circle cx="220.9" cy="535.3" r="1.11" fill="#f4f4f4" opacity="0.82"/>
<circle cx="222.4" cy="540.5" r="1.15" fill="#f4f4f4" opacity="0.74"/>
<circle cx="223.9" cy="545.7" r="1.25" fill="#f4f4f4" opacity="0.76"/>
<circle cx="225.4" cy="550.9" r="1.09" fill="#f4f4f4" opacity="0.58"/>
<circle cx="226.9" cy="556.1" r="1.31" fill="#f4f4f4" opacity="0.56"/>
<circle cx="228.4" cy="561.3" r="1.30" fill="#f4f4f4" opacity="0.93"/>
<circle cx="229.9" cy="566.5" r="1.18" fill="#f4f4f4" opacity="0.93"/>
<circle cx="231.4" cy="571.6" r="1.28" fill="#f4f4f4" opacity="0.92"/>
<circle cx="232.8" cy="576.8" r="1.24" fill="#f4f4f4" opacity="0.83"/>
<circle cx="234.3" cy="582.0" r="1.31" fill="#f4f4f4" opacity="0.55"/>
<circle cx="235.8" cy="587.2" r="1.24" fill="#f4f4f4" opacity="0.74"/>
<circle cx="237.3" cy="592.4" r="1.21" fill="#f4f4f4" opacity="0.78"/>
<circle cx="238.8" cy="597.6" r="1.40" fill="#f4f4f4" opacity="0.85"/>
<circle cx="240.3" cy="602.8" r="1.36" fill="#f4f4f4" opacity="0.52"/>
<circle cx="241.8" cy="608.0" r="1.32" fill="#f4f4f4" opacity="0.76"/>
<circle cx="243.3" cy="613.2" r="1.41" fill="#f4f4f4" opacity="0.45"/>
<circle cx="218.7" cy="510.7" r="1.09" fill="#f4f4f4" opacity="0.94"/>
<circle cx="220.2" cy="515.9" r="1.18" fill="#f4f4f4" opacity="0.80"/>
<circle cx="221.7" cy="521.0" r="1.27" fill="#f4f4f4" opacity="0.65"/>
<circle cx="223.2" cy="526.2" r="1.20" fill="#f4f4f4" opacity="0.73"/>
<circle cx="224.7" cy="531.4" r="1.43" fill="#f4f4f4" opacity="0.72"/>
<circle cx="226.2" cy="536.6" r="1.35" fill="#f4f4f4" opacity="0.60"/>
<circle cx="227.7" cy="541.8" r="1.32" fill="#f4f4f4" opacity="0.75"/>
<circle cx="229.2" cy="547.0" r="1.33" fill="#f4f4f4" opacity="0.89"/>
<circle cx="230.6" cy="552.2" r="1.05" fill="#f4f4f4" opacity="0.93"/>
<circle cx="232.1" cy="557.4" r="1.28" fill="#f4f4f4" opacity="0.58"/>
<circle cx="233.6" cy="562.6" r="1.22" fill="#f4f4f4" opacity="0.50"/>
<circle cx="235.1" cy="567.8" r="1.12" fill="#f4f4f4" opacity="0.87"/>
<circle cx="236.6" cy="572.9" r="1.32" fill="#f4f4f4" opacity="0.88"/>
<circle cx="238.1" cy="578.1" r="1.09" fill="#f4f4f4" opacity="0.50"/>
<circle cx="239.6" cy="583.3" r="1.18" fill="#f4f4f4" opacity="0.70"/>
<circle cx="241.1" cy="588.5" r="1.32" fill="#f4f4f4" opacity="0.60"/>
<circle cx="242.6" cy="593.7" r="1.33" fill="#f4f4f4" opacity="0.74"/>
<circle cx="224.0" cy="512.0" r="1.14" fill="#f4f4f4" opacity="0.84"/>
<circle cx="225.5" cy="517.2" r="1.05" fill="#f4f4f4" opacity="0.75"/>
<circle cx="227.0" cy="522.3" r="1.10" fill="#f4f4f4" opacity="0.47"/>
<circle cx="228.4" cy="527.5" r="1.22" fill="#f4f4f4" opacity="0.71"/>
<circle cx="229.9" cy="532.7" r="1.28" fill="#f4f4f4" opacity="0.64"/>
<circle cx="231.4" cy="537.9" r="1.41" fill="#f4f4f4" opacity="0.84"/>
<circle cx="232.9" cy="543.1" r="1.08" fill="#f4f4f4" opacity="0.45"/>
<circle cx="234.4" cy="548.3" r="1.42" fill="#f4f4f4" opacity="0.66"/>
<circle cx="235.9" cy="553.5" r="1.06" fill="#f4f4f4" opacity="0.54"/>
<circle cx="237.4" cy="558.7" r="1.31" fill="#f4f4f4" opacity="0.54"/>
<circle cx="238.9" cy="563.9" r="1.18" fill="#f4f4f4" opacity="0.79"/>
<circle cx="240.3" cy="569.1" r="1.17" fill="#f4f4f4" opacity="0.78"/>
<circle cx="241.8" cy="574.3" r="1.42" fill="#f4f4f4" opacity="0.85"/>
<circle cx="243.3" cy="579.4" r="1.28" fill="#f4f4f4" opacity="0.76"/>
<circle cx="229.2" cy="513.3" r="1.15" fill="#f4f4f4" opacity="0.77"/>
<circle cx="230.7" cy="518.5" r="1.29" fill="#f4f4f4" opacity="0.74"/>
<circle cx="232.2" cy="523.7" r="1.23" fill="#f4f4f4" opacity="0.83"/>
<circle cx="233.7" cy="528.8" r="1.11" fill="#f4f4f4" opacity="0.81"/>
<circle cx="235.2" cy="534.0" r="1.43" fill="#f4f4f4" opacity="0.47"/>
<circle cx="236.7" cy="539.2" r="1.13" fill="#f4f4f4" opacity="0.94"/>
<circle cx="238.1" cy="544.4" r="1.05" fill="#f4f4f4" opacity="0.86"/>
<circle cx="239.6" cy="549.6" r="1.26" fill="#f4f4f4" opacity="0.48"/>
<circle cx="241.1" cy="554.8" r="1.28" fill="#f4f4f4" opacity="0.45"/>
<circle cx="242.6" cy="560.0" r="1.38" fill="#f4f4f4" opacity="0.60"/>
<circle cx="234.5" cy="514.6" r="1.41" fill="#f4f4f4" opacity="0.90"/>
<circle cx="235.9" cy="519.8" r="1.08" fill="#f4f4f4" opacity="0.65"/>
<circle cx="237.4" cy="525.0" r="1.08" fill="#f4f4f4" opacity="0.83"/>
<circle cx="238.9" cy="530.2" r="1.06" fill="#f4f4f4" opacity="0.49"/>
<circle cx="240.4" cy="535.3" r="1.07" fill="#f4f4f4" opacity="0.88"/>
<circle cx="241.9" cy="540.5" r="1.12" fill="#f4f4f4" opacity="0.61"/>
<circle cx="243.4" cy="545.7" r="1.21" fill="#f4f4f4" opacity="0.73"/>
<circle cx="238.2" cy="510.7" r="1.19" fill="#f4f4f4" opacity="0.92"/>
<circle cx="239.7" cy="515.9" r="1.16" fill="#f4f4f4" opacity="0.69"/>
<circle cx="241.2" cy="521.1" r="1.38" fill="#f4f4f4" opacity="0.57"/>
<circle cx="242.7" cy="526.3" r="1.09" fill="#f4f4f4" opacity="0.87"/>
<circle cx="243.4" cy="512.0" r="1.15" fill="#f4f4f4" opacity="0.90"/>
</g>
<g filter="url(#blur2)">
<ellipse cx="194" cy="565" rx="5" ry="4" fill="#e8e8e8"/>
<path d="M136,585 Q140,605 160,612 L163,604 Q148,598 145,583 Z" fill="#c8c8c8"/>
</g>
<g filter="url(#blur2)"><polygon points="165,560 182.5,568.5 186.5,579 181.5,588 172,595 161.5,602 147.5,599 141.5,584 145.5,574 158,571.5" fill="#000"/></g>
<polygon points="165,560 182.5,568.5 186.5,579 181.5,588 172,595 161.5,602 147.5,599 141.5,584 145.5,574 158,571.5" fill="#030303" transform="translate(164,581) scale(0.86) translate(-164,-581)"/>
</g>
<rect x="80.2" y="513.5" width="160.8" height="156.7" fill="none" stroke="#fff" stroke-width="0.8" stroke-dasharray="2,2" opacity="0.7"/>
<rect x="95.5" y="658.8" width="38.9" height="2.5" fill="#fff"/>
<text x="114.9" y="654.9" font-size="17.5" text-anchor="middle" fill="#fff" >2 nm</text>
<line x1="398.2" y1="312.2" x2="398.2" y2="459.7" stroke="#c4c4c4" stroke-width="0.7" stroke-dasharray="1.6,1.6"/>
<line x1="313.8" y1="404.3" x2="482.6" y2="404.3" stroke="#c4c4c4" stroke-width="0.7" stroke-dasharray="1.6,1.6"/>
<polyline points="313.80,441.35 313.92,440.79 314.07,440.06 314.24,439.19 314.44,438.22 314.66,437.18 314.89,436.10 315.13,435.02 315.39,433.97 315.65,432.98 315.91,432.09 316.18,431.26 316.47,430.46 316.77,429.68 317.08,428.91 317.41,428.16 317.74,427.43 318.07,426.72 318.40,426.02 318.74,425.34 319.07,424.68 319.37,424.04 319.61,423.43 319.82,422.85 320.02,422.29 320.24,421.74 320.51,421.19 320.85,420.65 321.29,420.09 321.85,419.52 322.56,418.93 323.40,418.32 324.35,417.70 325.40,417.06 326.54,416.42 327.76,415.77 329.06,415.13 330.43,414.49 331.86,413.86 333.36,413.24 334.90,412.64 336.51,412.04 338.21,411.45 339.98,410.86 341.81,410.27 343.72,409.70 345.67,409.13 347.67,408.59 349.72,408.06 351.79,407.56 353.89,407.08 356.05,406.63 358.30,406.20 360.61,405.80 362.97,405.42 365.36,405.05 367.77,404.70 370.16,404.36 372.53,404.03 374.85,403.70 377.10,403.37 379.24,403.06 381.27,402.77 383.22,402.49 385.13,402.22 387.06,401.96 389.03,401.70 391.08,401.43 393.27,401.17 395.63,400.89 398.20,400.60 401.08,400.31 404.29,400.04 407.72,399.77 411.31,399.51 414.95,399.23 418.56,398.94 422.05,398.61 425.33,398.25 428.31,397.83 430.91,397.35 433.14,396.80 435.12,396.18 436.89,395.50 438.46,394.77 439.87,394.02 441.16,393.26 442.35,392.50 443.48,391.77 444.58,391.06 445.68,390.41 446.71,389.80 447.61,389.24 448.40,388.70 449.11,388.17 449.76,387.66 450.38,387.14 451.00,386.61 451.63,386.06 452.31,385.47 453.06,384.85 453.87,384.18 454.70,383.49 455.55,382.76 456.41,382.02 457.28,381.26 458.15,380.49 459.01,379.72 459.86,378.95 460.69,378.19 461.50,377.44 462.29,376.73 463.08,376.06 463.86,375.42 464.63,374.79 465.39,374.14 466.13,373.46 466.86,372.73 467.56,371.93 468.24,371.03 468.88,370.03 469.50,368.91 470.09,367.68 470.66,366.37 471.20,364.98 471.72,363.55 472.23,362.07 472.72,360.58 473.21,359.08 473.68,357.59 474.16,356.13 474.62,354.68 475.07,353.20 475.50,351.70 475.92,350.18 476.34,348.67 476.74,347.15 477.15,345.65 477.55,344.18 477.96,342.73 478.38,341.31 478.82,339.88 479.29,338.40 479.78,336.88 480.27,335.37 480.75,333.91 481.22,332.51 481.64,331.23 482.03,330.08 482.35,329.11 482.60,328.35" fill="none" stroke="#3b8fd3" stroke-width="1.0"/>
<polyline points="482.60,333.69 482.50,332.61 482.38,332.40 482.25,331.75 482.09,333.29 481.92,332.16 481.74,331.76 481.55,331.21 481.35,331.14 481.14,332.39 480.93,330.59 480.71,331.37 480.49,331.40 480.26,331.07 480.02,330.96 479.77,330.67 479.51,330.17 479.25,331.52 478.97,331.65 478.70,330.88 478.42,330.13 478.14,331.51 477.86,329.85 477.59,329.65 477.33,330.48 477.07,330.71 476.82,329.88 476.58,328.57 476.35,330.16 476.11,328.00 475.87,328.06 475.63,329.12 475.37,328.34 475.10,327.92 474.81,326.10 474.50,327.52 474.16,326.28 473.79,325.18 473.40,326.66 472.99,326.74 472.56,324.57 472.11,325.26 471.65,326.05 471.19,324.62 470.72,324.41 470.25,325.35 469.79,324.53 469.33,325.72 468.88,325.43 468.44,325.49 468.00,325.27 467.55,324.30 467.11,325.57 466.66,325.55 466.21,325.59 465.77,326.04 465.33,325.76 464.89,325.82 464.46,327.70 464.03,326.82 463.61,326.55 463.24,328.72 462.95,327.84 462.71,328.29 462.50,327.62 462.29,327.27 462.06,327.81 461.79,329.12 461.44,328.23 461.00,330.13 460.44,329.49 459.74,331.72 458.86,331.35 457.80,333.45 456.55,334.58 455.15,337.22 453.63,339.77 452.01,342.11 450.32,344.79 448.60,347.19 446.87,349.90 445.15,352.52 443.48,355.46 441.89,357.30 440.40,359.78 438.97,362.23 437.54,364.18 436.11,366.08 434.70,368.71 433.30,370.17 431.93,372.23 430.59,374.15 429.28,376.38 428.02,378.55 426.82,379.95 425.66,381.68 424.58,383.67 423.56,384.70 422.63,386.10 421.76,387.91 420.94,388.80 420.17,390.33 419.43,391.23 418.72,392.67 418.01,393.93 417.31,394.70 416.59,395.61 415.85,396.88 415.08,397.96 414.28,398.52 413.47,399.64 412.66,400.71 411.84,401.75 411.02,402.50 410.20,403.66 409.39,404.23 408.59,405.49 407.81,405.88 407.05,406.51 406.30,407.08 405.59,407.74 404.91,408.37 404.27,409.34 403.66,409.46 403.08,409.87 402.52,410.58 401.96,410.91 401.39,411.06 400.82,410.96 400.22,411.28 399.59,411.66 398.92,411.74 398.20,412.07 397.46,412.22 396.72,412.45 395.98,412.98 395.23,413.03 394.46,413.07 393.65,413.22 392.80,413.47 391.91,413.67 390.96,413.39 389.93,414.18 388.83,414.16 387.65,414.38 386.40,415.84 385.11,415.76 383.77,415.26 382.38,414.95 380.92,416.30 379.41,416.76 377.82,417.09 376.16,416.98 374.42,418.55 372.59,418.38 370.68,420.05 368.66,420.11 366.46,420.18 364.04,421.98 361.43,421.80 358.70,421.67 355.88,422.79 353.03,423.00 350.20,424.55 347.44,426.33 344.80,427.14 342.32,427.24 340.06,426.89 338.06,427.81 336.30,428.48 334.70,429.62 333.25,431.00 331.93,430.45 330.73,432.29 329.62,432.97 328.61,434.29 327.67,435.45 326.79,435.28 325.95,436.48 325.14,436.47 324.35,437.54 323.61,438.61 322.98,438.01 322.44,439.71 321.97,440.36 321.55,440.32 321.19,441.09 320.85,442.94 320.52,442.43 320.20,442.55 319.86,443.14 319.49,443.97 319.07,443.91 318.62,443.88 318.13,443.78 317.63,443.40 317.12,443.80 316.61,443.71 316.11,442.24 315.62,442.98 315.17,441.99 314.75,443.12 314.37,442.72 314.05,440.70 313.80,441.78" fill="none" stroke="#df2a30" stroke-width="1.0"/>
<rect x="313.8" y="312.2" width="168.8" height="147.5" fill="none" stroke="#858585" stroke-width="1.4"/>
<line x1="310.8" y1="330.2" x2="313.8" y2="330.2" stroke="#333" stroke-width="1"/>
<text x="309.3" y="334.8" font-size="13" text-anchor="end" fill="#111" >0.8</text>
<line x1="310.8" y1="367.2" x2="313.8" y2="367.2" stroke="#333" stroke-width="1"/>
<text x="309.3" y="371.9" font-size="13" text-anchor="end" fill="#111" >0.4</text>
<line x1="310.8" y1="404.3" x2="313.8" y2="404.3" stroke="#333" stroke-width="1"/>
<text x="309.3" y="408.9" font-size="13" text-anchor="end" fill="#111" >0.0</text>
<line x1="310.8" y1="441.4" x2="313.8" y2="441.4" stroke="#333" stroke-width="1"/>
<text x="309.3" y="446.0" font-size="13" text-anchor="end" fill="#111" >-0.4</text>
<line x1="313.8" y1="459.7" x2="313.8" y2="462.7" stroke="#333" stroke-width="1"/>
<text x="313.8" y="475.4" font-size="13" text-anchor="middle" fill="#111" >-0.8</text>
<line x1="356.0" y1="459.7" x2="356.0" y2="462.7" stroke="#333" stroke-width="1"/>
<text x="356.0" y="475.4" font-size="13" text-anchor="middle" fill="#111" >-0.4</text>
<line x1="398.2" y1="459.7" x2="398.2" y2="462.7" stroke="#333" stroke-width="1"/>
<text x="398.2" y="475.4" font-size="13" text-anchor="middle" fill="#111" >0.0</text>
<line x1="440.4" y1="459.7" x2="440.4" y2="462.7" stroke="#333" stroke-width="1"/>
<text x="440.4" y="475.4" font-size="13" text-anchor="middle" fill="#111" >0.4</text>
<line x1="482.6" y1="459.7" x2="482.6" y2="462.7" stroke="#333" stroke-width="1"/>
<text x="482.6" y="475.4" font-size="13" text-anchor="middle" fill="#111" >0.8</text>
<text x="398.2" y="493.5" font-size="13" text-anchor="middle" fill="#111" >Voltage (V)</text>
<text x="0.0" y="0.0" font-size="12.6" text-anchor="middle" fill="#111" transform="translate(280.8,387.5) rotate(-90)">Current (nA)</text>
<text x="356.0" y="335.4" font-size="12.8" text-anchor="middle" fill="#111" >0.01 M KCl</text>
<text x="355.8" y="350.6" font-size="12.8" text-anchor="middle" fill="#111" >Device #1</text>
<text x="441.5" y="442.0" font-size="12.8" text-anchor="middle" fill="#111" >Memristor</text>
<line x1="341.6" y1="398.6" x2="356.9" y2="393.5" stroke="#3b8fd3" stroke-width="1.3"/>
<polygon points="362.1,391.8 357.7,396.0 356.1,391.1" fill="#3b8fd3"/>
<line x1="453.6" y1="398.6" x2="464.4" y2="389.7" stroke="#3b8fd3" stroke-width="1.3"/>
<polygon points="468.6,386.2 466.0,391.7 462.7,387.7" fill="#3b8fd3"/>
<line x1="432.8" y1="346.6" x2="423.5" y2="359.4" stroke="#e0272d" stroke-width="1.3"/>
<polygon points="420.3,363.8 421.4,357.8 425.6,360.9" fill="#e0272d"/>
<line x1="377.7" y1="431.9" x2="367.1" y2="436.7" stroke="#e0272d" stroke-width="1.3"/>
<polygon points="362.1,439.0 366.0,434.4 368.2,439.1" fill="#e0272d"/>
<line x1="634.3" y1="312.2" x2="634.3" y2="459.7" stroke="#c4c4c4" stroke-width="0.7" stroke-dasharray="1.6,1.6"/>
<line x1="549.8" y1="392.4" x2="718.8" y2="392.4" stroke="#c4c4c4" stroke-width="0.7" stroke-dasharray="1.6,1.6"/>
<polyline points="549.80,419.05 549.88,418.16 549.97,418.07 550.07,417.10 550.19,415.84 550.33,414.48 550.48,413.57 550.64,411.89 550.81,410.80 551.00,409.64 551.21,408.84 551.43,407.91 551.66,406.46 551.91,405.49 552.17,404.99 552.44,404.21 552.73,403.19 553.03,402.93 553.35,402.18 553.68,401.31 554.02,400.48 554.39,399.98 554.79,398.85 555.22,398.86 555.65,397.60 556.10,397.83 556.55,397.03 557.00,396.18 557.44,395.63 557.86,395.60 558.25,395.04 558.60,394.91 558.89,394.00 559.14,394.51 559.38,393.83 559.62,393.63 559.89,393.72 560.21,393.36 560.59,392.96 561.06,392.52 561.63,392.37 562.30,391.55 563.06,391.34 563.88,391.45 564.76,390.27 565.70,389.74 566.68,390.01 567.70,389.05 568.76,388.73 569.83,388.34 570.92,388.06 572.01,387.29 573.09,387.40 574.17,386.32 575.28,386.86 576.44,386.03 577.66,386.05 578.97,385.43 580.38,385.57 581.92,384.86 583.60,384.73 585.43,384.07 587.39,384.18 589.46,383.72 591.63,382.73 593.90,382.86 596.24,382.61 598.65,381.46 601.11,380.96 603.61,381.24 606.13,380.80 608.75,379.50 611.52,379.68 614.39,379.36 617.33,378.21 620.30,378.24 623.27,377.26 626.19,377.23 629.03,376.41 631.74,375.81 634.30,374.87 636.70,374.79 638.98,374.20 641.16,373.14 643.26,372.22 645.30,371.57 647.31,371.03 649.31,371.04 651.31,370.05 653.34,369.45 655.42,368.53 657.54,367.11 659.65,366.52 661.76,366.20 663.88,365.20 665.99,364.43 668.10,363.36 670.21,362.36 672.32,361.55 674.44,360.89 676.55,359.63 678.66,358.52 680.77,358.13 682.89,357.19 685.00,356.84 687.11,356.56 689.22,355.67 691.34,355.06 693.45,354.33 695.56,354.00 697.67,353.56 699.88,352.99 702.24,352.65 704.68,351.07 707.14,350.53 709.56,349.65 711.87,349.83 714.02,348.90 715.93,348.37 717.54,348.06 718.80,346.88" fill="none" stroke="#2ea597" stroke-width="1.0"/>
<polyline points="718.80,367.88 718.72,367.84 718.63,368.82 718.53,369.41 718.41,370.66 718.27,371.20 718.12,372.19 717.96,373.20 717.79,374.69 717.60,375.38 717.39,375.98 717.17,377.03 716.94,378.10 716.69,378.76 716.43,379.84 716.16,380.93 715.87,381.55 715.57,382.51 715.25,382.77 714.92,384.06 714.57,384.80 714.22,385.01 713.84,385.08 713.46,385.68 713.05,386.86 712.64,387.44 712.21,387.75 711.77,387.96 711.31,388.41 710.84,388.40 710.35,389.28 709.85,390.06 709.34,389.60 708.81,390.31 708.27,390.83 707.71,390.91 707.14,390.89 706.55,391.07 705.96,391.88 705.34,392.43 704.72,392.78 704.08,392.76 703.42,393.62 702.75,394.24 702.07,394.38 701.37,395.35 700.66,395.57 699.94,395.96 699.20,396.31 698.44,397.54 697.67,398.01 696.97,397.69 696.37,398.03 695.82,398.57 695.28,398.72 694.68,399.48 693.99,399.18 693.15,399.83 692.11,400.07 690.82,400.19 689.22,401.06 687.30,401.06 685.07,401.58 682.59,402.21 679.91,402.44 677.08,402.74 674.15,404.04 671.17,404.38 668.20,404.72 665.28,405.23 662.47,405.92 659.71,406.18 656.92,406.57 654.12,407.68 651.30,408.69 648.47,408.55 645.63,410.08 642.79,410.11 639.96,411.35 637.12,411.70 634.30,411.74 631.46,412.17 628.58,413.31 625.67,413.84 622.76,414.08 619.86,414.26 616.99,414.60 614.17,415.21 611.41,415.61 608.72,415.97 606.13,415.77 603.66,416.64 601.31,417.05 599.05,416.94 596.85,416.62 594.69,417.05 592.55,417.76 590.39,417.81 588.20,418.61 585.94,418.68 583.60,419.13 581.09,419.04 578.39,419.92 575.58,420.64 572.72,421.42 569.87,422.00 567.11,421.96 564.49,422.81 562.10,423.89 560.00,423.59 558.25,424.13 556.88,424.81 555.82,425.94 555.02,426.14 554.44,427.12 554.03,427.84 553.72,428.39 553.48,428.16 553.25,429.30 552.98,429.85 552.62,430.12 552.21,430.59 551.83,430.78 551.48,430.77 551.15,431.18 550.86,430.97 550.59,430.62 550.35,430.87 550.14,431.57 549.95,431.03 549.80,431.23" fill="none" stroke="#2ea597" stroke-width="1.0"/>
<rect x="549.8" y="312.2" width="169.0" height="147.5" fill="none" stroke="#858585" stroke-width="1.4"/>
<line x1="546.8" y1="312.0" x2="549.8" y2="312.0" stroke="#333" stroke-width="1"/>
<text x="545.3" y="316.6" font-size="13" text-anchor="end" fill="#111" >0.3</text>
<line x1="546.8" y1="352.2" x2="549.8" y2="352.2" stroke="#333" stroke-width="1"/>
<text x="545.3" y="356.8" font-size="13" text-anchor="end" fill="#111" >0.15</text>
<line x1="546.8" y1="392.4" x2="549.8" y2="392.4" stroke="#333" stroke-width="1"/>
<text x="545.3" y="397.0" font-size="13" text-anchor="end" fill="#111" >0</text>
<line x1="546.8" y1="432.6" x2="549.8" y2="432.6" stroke="#333" stroke-width="1"/>
<text x="545.3" y="437.2" font-size="13" text-anchor="end" fill="#111" >-0.15</text>
<line x1="549.8" y1="459.7" x2="549.8" y2="462.7" stroke="#333" stroke-width="1"/>
<text x="549.8" y="475.4" font-size="13" text-anchor="middle" fill="#111" >-0.6</text>
<line x1="592.0" y1="459.7" x2="592.0" y2="462.7" stroke="#333" stroke-width="1"/>
<text x="592.0" y="475.4" font-size="13" text-anchor="middle" fill="#111" >-0.3</text>
<line x1="634.3" y1="459.7" x2="634.3" y2="462.7" stroke="#333" stroke-width="1"/>
<text x="634.3" y="475.4" font-size="13" text-anchor="middle" fill="#111" >0</text>
<line x1="676.5" y1="459.7" x2="676.5" y2="462.7" stroke="#333" stroke-width="1"/>
<text x="676.5" y="475.4" font-size="13" text-anchor="middle" fill="#111" >0.3</text>
<line x1="718.8" y1="459.7" x2="718.8" y2="462.7" stroke="#333" stroke-width="1"/>
<text x="718.8" y="475.4" font-size="13" text-anchor="middle" fill="#111" >0.6</text>
<text x="634.3" y="493.5" font-size="13" text-anchor="middle" fill="#111" >Voltage (V)</text>
<text x="0.0" y="0.0" font-size="12.6" text-anchor="middle" fill="#111" transform="translate(510.8,382) rotate(-90)">Current (nA)</text>
<text x="591.2" y="335.4" font-size="12.8" text-anchor="middle" fill="#111" >0.01 M KCl</text>
<text x="591.0" y="350.6" font-size="12.8" text-anchor="middle" fill="#111" >Device #3</text>
<text x="677.3" y="442.0" font-size="12.8" text-anchor="middle" fill="#111" >Capacitor</text>
<line x1="662.8" y1="356.6" x2="677.2" y2="351.3" stroke="#111" stroke-width="1.3"/>
<polygon points="682.4,349.4 678.1,353.7 676.3,348.9" fill="#111"/>
<line x1="587.1" y1="371.5" x2="600.9" y2="367.0" stroke="#111" stroke-width="1.3"/>
<polygon points="606.1,365.3 601.7,369.5 600.1,364.5" fill="#111"/>
<line x1="686.1" y1="413.6" x2="672.1" y2="417.9" stroke="#111" stroke-width="1.3"/>
<polygon points="666.8,419.5 671.3,415.4 672.8,420.4" fill="#111"/>
<line x1="608.3" y1="428.8" x2="594.3" y2="432.4" stroke="#111" stroke-width="1.3"/>
<polygon points="589.0,433.8 593.7,429.9 595.0,434.9" fill="#111"/>
<defs><clipPath id="fclip"><rect x="331.0" y="513.6" width="287.5" height="152.6"/></clipPath>
<radialGradient id="glb" cx="0.35" cy="0.32" r="0.75"><stop offset="0" stop-color="#fff"/><stop offset="0.18" stop-color="#b9dcf5"/><stop offset="0.55" stop-color="#5fa6dc"/><stop offset="1" stop-color="#5fa6dc"/></radialGradient>
<radialGradient id="gbl" cx="0.35" cy="0.32" r="0.75"><stop offset="0" stop-color="#fff"/><stop offset="0.18" stop-color="#7fb2e6"/><stop offset="0.55" stop-color="#2a6fb8"/><stop offset="1" stop-color="#2a6fb8"/></radialGradient>
<radialGradient id="gor" cx="0.35" cy="0.32" r="0.75"><stop offset="0" stop-color="#fff"/><stop offset="0.18" stop-color="#ffb3a0"/><stop offset="0.55" stop-color="#f0604a"/><stop offset="1" stop-color="#f0604a"/></radialGradient>
<radialGradient id="gdr" cx="0.35" cy="0.32" r="0.75"><stop offset="0" stop-color="#fff"/><stop offset="0.18" stop-color="#e07a70"/><stop offset="0.55" stop-color="#a8201f"/><stop offset="1" stop-color="#a8201f"/></radialGradient>
<linearGradient id="band" gradientUnits="userSpaceOnUse" x1="331" y1="690" x2="618" y2="520"><stop offset="0" stop-color="#ffffff"/><stop offset="0.2" stop-color="#f3f8fb"/><stop offset="0.5" stop-color="#deedf6"/><stop offset="0.78" stop-color="#e2eff7"/><stop offset="1" stop-color="#ffffff"/></linearGradient>
</defs>
<polygon clip-path="url(#fclip)" points="331.0,644.1 618.5,481.9 618.5,519.9 331.0,690.3" fill="url(#band)"/>
<line x1="331.0" y1="614.5" x2="419.5" y2="614.5" stroke="#c8c8c8" stroke-width="0.7" stroke-dasharray="2,1.5"/>
<line x1="419.5" y1="614.5" x2="419.5" y2="666.2" stroke="#c8c8c8" stroke-width="0.7" stroke-dasharray="2,1.5"/>
<line x1="331.0" y1="550.3" x2="535.4" y2="550.3" stroke="#c8c8c8" stroke-width="0.7" stroke-dasharray="2,1.5"/>
<line x1="535.4" y1="550.3" x2="535.4" y2="666.2" stroke="#c8c8c8" stroke-width="0.7" stroke-dasharray="2,1.5"/>
<circle cx="367.8" cy="631.1" r="3.3" fill="url(#gor)"/>
<circle cx="369.3" cy="634" r="3.3" fill="url(#gor)"/>
<circle cx="376.7" cy="637.3" r="3.3" fill="url(#glb)"/>
<circle cx="388.9" cy="637.3" r="3.3" fill="url(#gor)"/>
<circle cx="374" cy="647.8" r="3.3" fill="url(#gor)"/>
<circle cx="404.9" cy="622.2" r="3.3" fill="url(#gbl)"/>
<circle cx="414" cy="617.8" r="3.3" fill="url(#glb)"/>
<circle cx="412.2" cy="617.1" r="3.3" fill="url(#gor)"/>
<circle cx="418.4" cy="606.7" r="3.3" fill="url(#gbl)"/>
<circle cx="422.9" cy="606" r="3.3" fill="url(#gbl)"/>
<circle cx="450.3" cy="592.5" r="3.3" fill="url(#gbl)"/>
<circle cx="456.8" cy="594.5" r="3.3" fill="url(#gor)"/>
<circle cx="453.1" cy="601.8" r="3.3" fill="url(#gor)"/>
<circle cx="468" cy="586.2" r="3.3" fill="url(#gor)"/>
<circle cx="470" cy="585.6" r="3.3" fill="url(#gor)"/>
<circle cx="477.3" cy="587.7" r="3.3" fill="url(#gor)"/>
<circle cx="469" cy="579.4" r="3.3" fill="url(#gor)"/>
<circle cx="473.9" cy="575.8" r="3.3" fill="url(#gor)"/>
<circle cx="479.4" cy="576.3" r="3.3" fill="url(#gor)"/>
<circle cx="485.1" cy="578.2" r="3.3" fill="url(#gor)"/>
<circle cx="485.6" cy="573.7" r="3.3" fill="url(#gor)"/>
<circle cx="490.8" cy="573" r="3.3" fill="url(#gor)"/>
<circle cx="503.8" cy="573.4" r="3.3" fill="url(#gor)"/>
<circle cx="505.8" cy="563.7" r="3.3" fill="url(#gor)"/>
<circle cx="510.5" cy="566.5" r="3.3" fill="url(#gor)"/>
<circle cx="510" cy="562.3" r="3.3" fill="url(#gor)"/>
<circle cx="508.4" cy="555.4" r="3.3" fill="url(#gor)"/>
<circle cx="514.6" cy="557.1" r="3.3" fill="url(#gdr)"/>
<circle cx="517.8" cy="556.6" r="3.3" fill="url(#gor)"/>
<circle cx="515.7" cy="559.5" r="3.3" fill="url(#gor)"/>
<circle cx="519.1" cy="559.7" r="3.3" fill="url(#gor)"/>
<circle cx="520.9" cy="566.5" r="3.3" fill="url(#gdr)"/>
<circle cx="526" cy="554.5" r="3.3" fill="url(#gor)"/>
<circle cx="541.5" cy="545.7" r="3.3" fill="url(#gor)"/>
<circle cx="555.1" cy="539" r="3.3" fill="url(#gor)"/>
<circle cx="576.3" cy="527.2" r="3.3" fill="url(#gor)"/>
<rect x="331.0" y="513.6" width="287.5" height="152.6" fill="none" stroke="#858585" stroke-width="1.4"/>
<line x1="329.2" y1="664.45" x2="331.0" y2="664.45" stroke="#444" stroke-width="0.8"/>
<line x1="329.2" y1="662.77" x2="331.0" y2="662.77" stroke="#444" stroke-width="0.8"/>
<line x1="329.2" y1="661.32" x2="331.0" y2="661.32" stroke="#444" stroke-width="0.8"/>
<line x1="329.2" y1="660.04" x2="331.0" y2="660.04" stroke="#444" stroke-width="0.8"/>
<line x1="327.8" y1="658.90" x2="331.0" y2="658.90" stroke="#444" stroke-width="0.8"/>
<line x1="329.2" y1="651.37" x2="331.0" y2="651.37" stroke="#444" stroke-width="0.8"/>
<line x1="329.2" y1="646.97" x2="331.0" y2="646.97" stroke="#444" stroke-width="0.8"/>
<line x1="329.2" y1="643.85" x2="331.0" y2="643.85" stroke="#444" stroke-width="0.8"/>
<line x1="329.2" y1="641.43" x2="331.0" y2="641.43" stroke="#444" stroke-width="0.8"/>
<line x1="329.2" y1="639.45" x2="331.0" y2="639.45" stroke="#444" stroke-width="0.8"/>
<line x1="329.2" y1="637.77" x2="331.0" y2="637.77" stroke="#444" stroke-width="0.8"/>
<line x1="329.2" y1="636.32" x2="331.0" y2="636.32" stroke="#444" stroke-width="0.8"/>
<line x1="329.2" y1="635.04" x2="331.0" y2="635.04" stroke="#444" stroke-width="0.8"/>
<line x1="327.8" y1="633.90" x2="331.0" y2="633.90" stroke="#444" stroke-width="0.8"/>
<line x1="329.2" y1="626.37" x2="331.0" y2="626.37" stroke="#444" stroke-width="0.8"/>
<line x1="329.2" y1="621.97" x2="331.0" y2="621.97" stroke="#444" stroke-width="0.8"/>
<line x1="329.2" y1="618.85" x2="331.0" y2="618.85" stroke="#444" stroke-width="0.8"/>
<line x1="329.2" y1="616.43" x2="331.0" y2="616.43" stroke="#444" stroke-width="0.8"/>
<line x1="329.2" y1="614.45" x2="331.0" y2="614.45" stroke="#444" stroke-width="0.8"/>
<line x1="329.2" y1="612.77" x2="331.0" y2="612.77" stroke="#444" stroke-width="0.8"/>
<line x1="329.2" y1="611.32" x2="331.0" y2="611.32" stroke="#444" stroke-width="0.8"/>
<line x1="329.2" y1="610.04" x2="331.0" y2="610.04" stroke="#444" stroke-width="0.8"/>
<line x1="327.8" y1="608.90" x2="331.0" y2="608.90" stroke="#444" stroke-width="0.8"/>
<line x1="329.2" y1="601.37" x2="331.0" y2="601.37" stroke="#444" stroke-width="0.8"/>
<line x1="329.2" y1="596.97" x2="331.0" y2="596.97" stroke="#444" stroke-width="0.8"/>
<line x1="329.2" y1="593.85" x2="331.0" y2="593.85" stroke="#444" stroke-width="0.8"/>
<line x1="329.2" y1="591.43" x2="331.0" y2="591.43" stroke="#444" stroke-width="0.8"/>
<line x1="329.2" y1="589.45" x2="331.0" y2="589.45" stroke="#444" stroke-width="0.8"/>
<line x1="329.2" y1="587.77" x2="331.0" y2="587.77" stroke="#444" stroke-width="0.8"/>
<line x1="329.2" y1="586.32" x2="331.0" y2="586.32" stroke="#444" stroke-width="0.8"/>
<line x1="329.2" y1="585.04" x2="331.0" y2="585.04" stroke="#444" stroke-width="0.8"/>
<line x1="327.8" y1="583.90" x2="331.0" y2="583.90" stroke="#444" stroke-width="0.8"/>
<line x1="329.2" y1="576.37" x2="331.0" y2="576.37" stroke="#444" stroke-width="0.8"/>
<line x1="329.2" y1="571.97" x2="331.0" y2="571.97" stroke="#444" stroke-width="0.8"/>
<line x1="329.2" y1="568.85" x2="331.0" y2="568.85" stroke="#444" stroke-width="0.8"/>
<line x1="329.2" y1="566.43" x2="331.0" y2="566.43" stroke="#444" stroke-width="0.8"/>
<line x1="329.2" y1="564.45" x2="331.0" y2="564.45" stroke="#444" stroke-width="0.8"/>
<line x1="329.2" y1="562.77" x2="331.0" y2="562.77" stroke="#444" stroke-width="0.8"/>
<line x1="329.2" y1="561.32" x2="331.0" y2="561.32" stroke="#444" stroke-width="0.8"/>
<line x1="329.2" y1="560.04" x2="331.0" y2="560.04" stroke="#444" stroke-width="0.8"/>
<line x1="327.8" y1="558.90" x2="331.0" y2="558.90" stroke="#444" stroke-width="0.8"/>
<line x1="329.2" y1="551.37" x2="331.0" y2="551.37" stroke="#444" stroke-width="0.8"/>
<line x1="329.2" y1="546.97" x2="331.0" y2="546.97" stroke="#444" stroke-width="0.8"/>
<line x1="329.2" y1="543.85" x2="331.0" y2="543.85" stroke="#444" stroke-width="0.8"/>
<line x1="329.2" y1="541.43" x2="331.0" y2="541.43" stroke="#444" stroke-width="0.8"/>
<line x1="329.2" y1="539.45" x2="331.0" y2="539.45" stroke="#444" stroke-width="0.8"/>
<line x1="329.2" y1="537.77" x2="331.0" y2="537.77" stroke="#444" stroke-width="0.8"/>
<line x1="329.2" y1="536.32" x2="331.0" y2="536.32" stroke="#444" stroke-width="0.8"/>
<line x1="329.2" y1="535.04" x2="331.0" y2="535.04" stroke="#444" stroke-width="0.8"/>
<line x1="327.8" y1="533.90" x2="331.0" y2="533.90" stroke="#444" stroke-width="0.8"/>
<line x1="329.2" y1="526.37" x2="331.0" y2="526.37" stroke="#444" stroke-width="0.8"/>
<line x1="329.2" y1="521.97" x2="331.0" y2="521.97" stroke="#444" stroke-width="0.8"/>
<line x1="329.2" y1="518.85" x2="331.0" y2="518.85" stroke="#444" stroke-width="0.8"/>
<line x1="329.2" y1="516.43" x2="331.0" y2="516.43" stroke="#444" stroke-width="0.8"/>
<line x1="329.2" y1="514.45" x2="331.0" y2="514.45" stroke="#444" stroke-width="0.8"/>
<line x1="334.21" y1="666.2" x2="334.21" y2="668.0" stroke="#444" stroke-width="0.8"/>
<line x1="337.18" y1="666.2" x2="337.18" y2="668.0" stroke="#444" stroke-width="0.8"/>
<line x1="339.75" y1="666.2" x2="339.75" y2="668.0" stroke="#444" stroke-width="0.8"/>
<line x1="342.02" y1="666.2" x2="342.02" y2="668.0" stroke="#444" stroke-width="0.8"/>
<line x1="344.05" y1="666.2" x2="344.05" y2="669.4" stroke="#444" stroke-width="0.8"/>
<line x1="357.40" y1="666.2" x2="357.40" y2="668.0" stroke="#444" stroke-width="0.8"/>
<line x1="365.21" y1="666.2" x2="365.21" y2="668.0" stroke="#444" stroke-width="0.8"/>
<line x1="370.75" y1="666.2" x2="370.75" y2="668.0" stroke="#444" stroke-width="0.8"/>
<line x1="375.05" y1="666.2" x2="375.05" y2="668.0" stroke="#444" stroke-width="0.8"/>
<line x1="378.56" y1="666.2" x2="378.56" y2="668.0" stroke="#444" stroke-width="0.8"/>
<line x1="381.53" y1="666.2" x2="381.53" y2="668.0" stroke="#444" stroke-width="0.8"/>
<line x1="384.10" y1="666.2" x2="384.10" y2="668.0" stroke="#444" stroke-width="0.8"/>
<line x1="386.37" y1="666.2" x2="386.37" y2="668.0" stroke="#444" stroke-width="0.8"/>
<line x1="388.40" y1="666.2" x2="388.40" y2="669.4" stroke="#444" stroke-width="0.8"/>
<line x1="401.75" y1="666.2" x2="401.75" y2="668.0" stroke="#444" stroke-width="0.8"/>
<line x1="409.56" y1="666.2" x2="409.56" y2="668.0" stroke="#444" stroke-width="0.8"/>
<line x1="415.10" y1="666.2" x2="415.10" y2="668.0" stroke="#444" stroke-width="0.8"/>
<line x1="419.40" y1="666.2" x2="419.40" y2="668.0" stroke="#444" stroke-width="0.8"/>
<line x1="422.91" y1="666.2" x2="422.91" y2="668.0" stroke="#444" stroke-width="0.8"/>
<line x1="425.88" y1="666.2" x2="425.88" y2="668.0" stroke="#444" stroke-width="0.8"/>
<line x1="428.45" y1="666.2" x2="428.45" y2="668.0" stroke="#444" stroke-width="0.8"/>
<line x1="430.72" y1="666.2" x2="430.72" y2="668.0" stroke="#444" stroke-width="0.8"/>
<line x1="432.75" y1="666.2" x2="432.75" y2="669.4" stroke="#444" stroke-width="0.8"/>
<line x1="446.10" y1="666.2" x2="446.10" y2="668.0" stroke="#444" stroke-width="0.8"/>
<line x1="453.91" y1="666.2" x2="453.91" y2="668.0" stroke="#444" stroke-width="0.8"/>
<line x1="459.45" y1="666.2" x2="459.45" y2="668.0" stroke="#444" stroke-width="0.8"/>
<line x1="463.75" y1="666.2" x2="463.75" y2="668.0" stroke="#444" stroke-width="0.8"/>
<line x1="467.26" y1="666.2" x2="467.26" y2="668.0" stroke="#444" stroke-width="0.8"/>
<line x1="470.23" y1="666.2" x2="470.23" y2="668.0" stroke="#444" stroke-width="0.8"/>
<line x1="472.80" y1="666.2" x2="472.80" y2="668.0" stroke="#444" stroke-width="0.8"/>
<line x1="475.07" y1="666.2" x2="475.07" y2="668.0" stroke="#444" stroke-width="0.8"/>
<line x1="477.10" y1="666.2" x2="477.10" y2="669.4" stroke="#444" stroke-width="0.8"/>
<line x1="490.45" y1="666.2" x2="490.45" y2="668.0" stroke="#444" stroke-width="0.8"/>
<line x1="498.26" y1="666.2" x2="498.26" y2="668.0" stroke="#444" stroke-width="0.8"/>
<line x1="503.80" y1="666.2" x2="503.80" y2="668.0" stroke="#444" stroke-width="0.8"/>
<line x1="508.10" y1="666.2" x2="508.10" y2="668.0" stroke="#444" stroke-width="0.8"/>
<line x1="511.61" y1="666.2" x2="511.61" y2="668.0" stroke="#444" stroke-width="0.8"/>
<line x1="514.58" y1="666.2" x2="514.58" y2="668.0" stroke="#444" stroke-width="0.8"/>
<line x1="517.15" y1="666.2" x2="517.15" y2="668.0" stroke="#444" stroke-width="0.8"/>
<line x1="519.42" y1="666.2" x2="519.42" y2="668.0" stroke="#444" stroke-width="0.8"/>
<line x1="521.45" y1="666.2" x2="521.45" y2="669.4" stroke="#444" stroke-width="0.8"/>
<line x1="534.80" y1="666.2" x2="534.80" y2="668.0" stroke="#444" stroke-width="0.8"/>
<line x1="542.61" y1="666.2" x2="542.61" y2="668.0" stroke="#444" stroke-width="0.8"/>
<line x1="548.15" y1="666.2" x2="548.15" y2="668.0" stroke="#444" stroke-width="0.8"/>
<line x1="552.45" y1="666.2" x2="552.45" y2="668.0" stroke="#444" stroke-width="0.8"/>
<line x1="555.96" y1="666.2" x2="555.96" y2="668.0" stroke="#444" stroke-width="0.8"/>
<line x1="558.93" y1="666.2" x2="558.93" y2="668.0" stroke="#444" stroke-width="0.8"/>
<line x1="561.50" y1="666.2" x2="561.50" y2="668.0" stroke="#444" stroke-width="0.8"/>
<line x1="563.77" y1="666.2" x2="563.77" y2="668.0" stroke="#444" stroke-width="0.8"/>
<line x1="565.80" y1="666.2" x2="565.80" y2="669.4" stroke="#444" stroke-width="0.8"/>
<line x1="579.15" y1="666.2" x2="579.15" y2="668.0" stroke="#444" stroke-width="0.8"/>
<line x1="586.96" y1="666.2" x2="586.96" y2="668.0" stroke="#444" stroke-width="0.8"/>
<line x1="592.50" y1="666.2" x2="592.50" y2="668.0" stroke="#444" stroke-width="0.8"/>
<line x1="596.80" y1="666.2" x2="596.80" y2="668.0" stroke="#444" stroke-width="0.8"/>
<line x1="600.31" y1="666.2" x2="600.31" y2="668.0" stroke="#444" stroke-width="0.8"/>
<line x1="603.28" y1="666.2" x2="603.28" y2="668.0" stroke="#444" stroke-width="0.8"/>
<line x1="605.85" y1="666.2" x2="605.85" y2="668.0" stroke="#444" stroke-width="0.8"/>
<line x1="608.12" y1="666.2" x2="608.12" y2="668.0" stroke="#444" stroke-width="0.8"/>
<line x1="610.15" y1="666.2" x2="610.15" y2="669.4" stroke="#444" stroke-width="0.8"/>
<text x="326.0" y="538.5" font-size="13" text-anchor="end" fill="#111" >1000</text>
<text x="326.0" y="588.5" font-size="13" text-anchor="end" fill="#111" >10</text>
<text x="326.0" y="638.5" font-size="13" text-anchor="end" fill="#111" >0.1</text>
<text x="388.4" y="682.2" font-size="13" text-anchor="middle" fill="#111" >0.1</text>
<text x="477.1" y="682.2" font-size="13" text-anchor="middle" fill="#111" >10</text>
<text x="565.8" y="682.2" font-size="13" text-anchor="middle" fill="#111" >1000</text>
<text x="0.0" y="0.0" font-size="13" text-anchor="middle" fill="#111" transform="translate(293.2,590.3) rotate(-90)">G<tspan font-size="8" dy="3">+</tspan><tspan dy="-3"> (nS)</tspan></text>
<text x="474.8" y="700.8" font-size="13" text-anchor="middle" fill="#111" >G<tspan font-size="8" dy="3">-</tspan><tspan dy="-3"> (nS)</tspan></text>
<text x="383.3" y="572.8" font-size="13" text-anchor="middle" fill="#d1262f" >Pinched</text>
<text x="384.5" y="588.3" font-size="13" text-anchor="middle" fill="#d1262f" >hysteresis loop</text>
<text x="478.7" y="631.1" font-size="13" text-anchor="middle" fill="#d1262f" >Memristor</text>
<text x="374.8" y="663.0" font-size="13" text-anchor="middle" fill="#111" >Capacitor</text>
<text x="576.2" y="594.0" font-size="13" text-anchor="middle" fill="#111" >Ohmic</text>
<text x="576.2" y="609.8" font-size="13" text-anchor="middle" fill="#111" >resistor</text>
<circle cx="637.8" cy="595.8" r="3.3" fill="url(#glb)"/>
<text x="655.7" y="600.5" font-size="13.3" text-anchor="start" fill="#111" >0.001 M KCl</text>
<circle cx="637.8" cy="616.5" r="3.3" fill="url(#gbl)"/>
<text x="655.7" y="621.2" font-size="13.3" text-anchor="start" fill="#111" >0.01 M KCl</text>
<circle cx="637.8" cy="636.9" r="3.3" fill="url(#gor)"/>
<text x="655.7" y="641.6" font-size="13.3" text-anchor="start" fill="#111" >0.1 M KCl</text>
<circle cx="637.8" cy="657.3" r="3.3" fill="url(#gdr)"/>
<text x="655.7" y="662.0" font-size="13.3" text-anchor="start" fill="#111" >1 M KCl</text>
</svg></body></html>
